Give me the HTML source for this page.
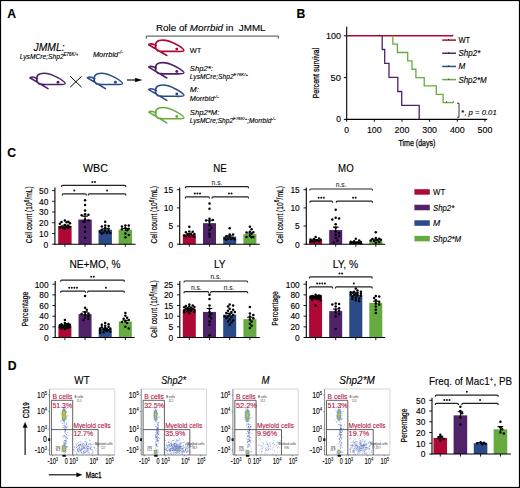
<!DOCTYPE html>
<html><head><meta charset="utf-8"><style>
html,body{margin:0;padding:0;background:#fff;}
svg{display:block;font-family:"Liberation Sans",sans-serif;}
</style></head><body>
<svg width="520" height="488" viewBox="0 0 520 488">
<defs><radialGradient id="hot" cx="50%" cy="50%" r="50%"><stop offset="0" stop-color="#E0701E"/><stop offset="0.3" stop-color="#E5C21E"/><stop offset="0.6" stop-color="#8CC23C"/><stop offset="0.85" stop-color="#5A8FC8" stop-opacity="0.8"/><stop offset="1" stop-color="#7C8FD8" stop-opacity="0"/></radialGradient><radialGradient id="warm" cx="50%" cy="50%" r="50%"><stop offset="0" stop-color="#D7C83A"/><stop offset="0.45" stop-color="#86BE4E"/><stop offset="0.8" stop-color="#6E86CE" stop-opacity="0.7"/><stop offset="1" stop-color="#8898D8" stop-opacity="0"/></radialGradient><radialGradient id="blu" cx="50%" cy="50%" r="50%"><stop offset="0" stop-color="#5C70C4" stop-opacity="0.55"/><stop offset="1" stop-color="#8C9CD8" stop-opacity="0"/></radialGradient></defs>
<rect width="520" height="488" fill="#fff"/>
<rect x="0.50" y="0.50" width="519.00" height="487.00" fill="none" stroke="#000" stroke-width="1.2"/>
<text x="7.20" y="17.90" font-size="12.2" stroke="#000" stroke-width="0.12" font-weight="bold">A</text>
<text x="296.60" y="18.00" font-size="12.2" stroke="#000" stroke-width="0.12" font-weight="bold">B</text>
<text x="7.30" y="157.00" font-size="12.2" stroke="#000" stroke-width="0.12" font-weight="bold">C</text>
<text x="7.80" y="369.70" font-size="12.2" stroke="#000" stroke-width="0.12" font-weight="bold">D</text>
<g transform="translate(27.2,70.1) scale(1.0)"><path d="M2.7,7.7 L20.8,18.5 M2.7,7.7 C4.5,6.4 7.5,7 10.3,8.6 M11.8,13.8 C8.3,11 8.6,4.8 13.2,3.6 C17.5,2.5 24,4 30,7.3 C34,9.4 38.2,12.2 37.8,13.6 C37.4,14.6 34,14.5 30,14.4 L16,14.2 C14,14.1 12.8,14 11.8,13.8" stroke="#4F226A" stroke-width="1.6" fill="none" stroke-linecap="round"/><circle cx="30.8" cy="12.1" r="1.45" fill="#4F226A"/></g>
<g transform="translate(84.6,70.1) scale(1.0)"><path d="M2.7,7.7 L20.8,18.5 M2.7,7.7 C4.5,6.4 7.5,7 10.3,8.6 M11.8,13.8 C8.3,11 8.6,4.8 13.2,3.6 C17.5,2.5 24,4 30,7.3 C34,9.4 38.2,12.2 37.8,13.6 C37.4,14.6 34,14.5 30,14.4 L16,14.2 C14,14.1 12.8,14 11.8,13.8" stroke="#2B4B88" stroke-width="1.6" fill="none" stroke-linecap="round"/><circle cx="30.8" cy="12.1" r="1.45" fill="#2B4B88"/></g>
<g transform="translate(146,37.0) scale(1.0)"><path d="M2.7,7.7 L20.8,18.5 M2.7,7.7 C4.5,6.4 7.5,7 10.3,8.6 M11.8,13.8 C8.3,11 8.6,4.8 13.2,3.6 C17.5,2.5 24,4 30,7.3 C34,9.4 38.2,12.2 37.8,13.6 C37.4,14.6 34,14.5 30,14.4 L16,14.2 C14,14.1 12.8,14 11.8,13.8" stroke="#AE0836" stroke-width="1.6" fill="none" stroke-linecap="round"/><circle cx="30.8" cy="12.1" r="1.45" fill="#AE0836"/></g>
<g transform="translate(146,59.45) scale(1.0)"><path d="M2.7,7.7 L20.8,18.5 M2.7,7.7 C4.5,6.4 7.5,7 10.3,8.6 M11.8,13.8 C8.3,11 8.6,4.8 13.2,3.6 C17.5,2.5 24,4 30,7.3 C34,9.4 38.2,12.2 37.8,13.6 C37.4,14.6 34,14.5 30,14.4 L16,14.2 C14,14.1 12.8,14 11.8,13.8" stroke="#4F226A" stroke-width="1.6" fill="none" stroke-linecap="round"/><circle cx="30.8" cy="12.1" r="1.45" fill="#4F226A"/></g>
<g transform="translate(146,81.9) scale(1.0)"><path d="M2.7,7.7 L20.8,18.5 M2.7,7.7 C4.5,6.4 7.5,7 10.3,8.6 M11.8,13.8 C8.3,11 8.6,4.8 13.2,3.6 C17.5,2.5 24,4 30,7.3 C34,9.4 38.2,12.2 37.8,13.6 C37.4,14.6 34,14.5 30,14.4 L16,14.2 C14,14.1 12.8,14 11.8,13.8" stroke="#2B4B88" stroke-width="1.6" fill="none" stroke-linecap="round"/><circle cx="30.8" cy="12.1" r="1.45" fill="#2B4B88"/></g>
<g transform="translate(146,104.35) scale(1.0)"><path d="M2.7,7.7 L20.8,18.5 M2.7,7.7 C4.5,6.4 7.5,7 10.3,8.6 M11.8,13.8 C8.3,11 8.6,4.8 13.2,3.6 C17.5,2.5 24,4 30,7.3 C34,9.4 38.2,12.2 37.8,13.6 C37.4,14.6 34,14.5 30,14.4 L16,14.2 C14,14.1 12.8,14 11.8,13.8" stroke="#65AB3F" stroke-width="1.6" fill="none" stroke-linecap="round"/><circle cx="30.8" cy="12.1" r="1.45" fill="#65AB3F"/></g>
<line x1="70.20" y1="76.30" x2="81.60" y2="87.20" stroke="#000" stroke-width="1.0"/>
<line x1="81.60" y1="76.30" x2="70.20" y2="87.20" stroke="#000" stroke-width="1.0"/>
<line x1="127.00" y1="80.00" x2="137.00" y2="80.00" stroke="#000" stroke-width="1.1"/>
<path d="M135.2,78.1 L141.9,80 L135.2,81.9 Z" stroke="#000" stroke-width="0.3" fill="#000"/>
<text x="33.60" y="51.20" font-size="10.8" stroke="#000" stroke-width="0.12" font-style="italic" textLength="31.00" lengthAdjust="spacingAndGlyphs">JMML:</text>
<text x="19.70" y="59.00" font-size="6.9" stroke="#000" stroke-width="0.12" font-style="italic" textLength="58.60" lengthAdjust="spacingAndGlyphs">LysMCre;Shp2<tspan font-size="4.6" dy="-3">E76K/+</tspan></text>
<text x="92.90" y="56.90" font-size="6.9" stroke="#000" stroke-width="0.12" font-style="italic" textLength="30.00" lengthAdjust="spacingAndGlyphs">Morrbid<tspan font-size="4.6" dy="-3">-/-</tspan></text>
<text x="156.00" y="31.30" font-size="9.6" stroke="#000" stroke-width="0.12" textLength="109.60" lengthAdjust="spacingAndGlyphs">Role of <tspan font-style="italic">Morrbid</tspan> in&#160; JMML</text>
<path d="M146.3,38.6 L146.3,36.1 L278.3,36.1 L278.3,38.6" stroke="#333" stroke-width="0.9" fill="none"/>
<text x="189.80" y="52.60" font-size="7.9" stroke="#000" stroke-width="0.12" textLength="11.60" lengthAdjust="spacingAndGlyphs">WT</text>
<text x="189.80" y="70.60" font-size="7.5" stroke="#000" stroke-width="0.12" font-style="italic" textLength="23.00" lengthAdjust="spacingAndGlyphs">Shp2*:</text>
<text x="189.80" y="79.00" font-size="6.7" stroke="#000" stroke-width="0.12" font-style="italic" textLength="58.20" lengthAdjust="spacingAndGlyphs">LysMCre;Shp2<tspan font-size="4.4" dy="-3.0">E76K/+</tspan></text>
<text x="189.80" y="92.00" font-size="7.5" stroke="#000" stroke-width="0.12" font-style="italic" textLength="9.20" lengthAdjust="spacingAndGlyphs">M:</text>
<text x="189.80" y="100.90" font-size="6.7" stroke="#000" stroke-width="0.12" font-style="italic" textLength="28.90" lengthAdjust="spacingAndGlyphs">Morrbid<tspan font-size="4.4" dy="-3.0">-/-</tspan></text>
<text x="189.80" y="115.40" font-size="7.5" stroke="#000" stroke-width="0.12" font-style="italic" textLength="29.60" lengthAdjust="spacingAndGlyphs">Shp2*M:</text>
<text x="189.80" y="123.30" font-size="6.7" stroke="#000" stroke-width="0.12" font-style="italic" textLength="85.60" lengthAdjust="spacingAndGlyphs">LysMCre;Shp2<tspan font-size="4.4" dy="-3.0">E76K/+</tspan><tspan dy="3.0">;Morrbid</tspan><tspan font-size="4.4" dy="-3.0">-/-</tspan></text>
<line x1="346.70" y1="26.80" x2="346.70" y2="119.90" stroke="#000" stroke-width="1.1"/>
<line x1="345.60" y1="119.40" x2="487.20" y2="119.40" stroke="#000" stroke-width="1.1"/>
<line x1="343.80" y1="119.40" x2="346.70" y2="119.40" stroke="#000" stroke-width="1"/>
<text x="341.00" y="122.30" font-size="8.2" stroke="#000" stroke-width="0.12" text-anchor="end" textLength="4.80" lengthAdjust="spacingAndGlyphs">0</text>
<line x1="343.80" y1="77.60" x2="346.70" y2="77.60" stroke="#000" stroke-width="1"/>
<text x="341.00" y="80.50" font-size="8.2" stroke="#000" stroke-width="0.12" text-anchor="end" textLength="10.40" lengthAdjust="spacingAndGlyphs">50</text>
<line x1="343.80" y1="35.80" x2="346.70" y2="35.80" stroke="#000" stroke-width="1"/>
<text x="341.00" y="38.70" font-size="8.2" stroke="#000" stroke-width="0.12" text-anchor="end" textLength="15.00" lengthAdjust="spacingAndGlyphs">100</text>
<line x1="346.70" y1="119.40" x2="346.70" y2="121.70" stroke="#000" stroke-width="1"/>
<text x="346.70" y="133.20" font-size="8.2" stroke="#000" stroke-width="0.12" text-anchor="middle" textLength="4.80" lengthAdjust="spacingAndGlyphs">0</text>
<line x1="374.35" y1="119.40" x2="374.35" y2="121.70" stroke="#000" stroke-width="1"/>
<text x="374.35" y="133.20" font-size="8.2" stroke="#000" stroke-width="0.12" text-anchor="middle" textLength="14.80" lengthAdjust="spacingAndGlyphs">100</text>
<line x1="402.00" y1="119.40" x2="402.00" y2="121.70" stroke="#000" stroke-width="1"/>
<text x="402.00" y="133.20" font-size="8.2" stroke="#000" stroke-width="0.12" text-anchor="middle" textLength="14.80" lengthAdjust="spacingAndGlyphs">200</text>
<line x1="429.65" y1="119.40" x2="429.65" y2="121.70" stroke="#000" stroke-width="1"/>
<text x="429.65" y="133.20" font-size="8.2" stroke="#000" stroke-width="0.12" text-anchor="middle" textLength="14.80" lengthAdjust="spacingAndGlyphs">300</text>
<line x1="457.30" y1="119.40" x2="457.30" y2="121.70" stroke="#000" stroke-width="1"/>
<text x="457.30" y="133.20" font-size="8.2" stroke="#000" stroke-width="0.12" text-anchor="middle" textLength="14.80" lengthAdjust="spacingAndGlyphs">400</text>
<line x1="484.95" y1="119.40" x2="484.95" y2="121.70" stroke="#000" stroke-width="1"/>
<text x="484.95" y="133.20" font-size="8.2" stroke="#000" stroke-width="0.12" text-anchor="middle" textLength="14.80" lengthAdjust="spacingAndGlyphs">500</text>
<text transform="translate(319.00,73.20) rotate(-90)" x="0" y="0" font-size="9.2" text-anchor="middle" textLength="50.50" lengthAdjust="spacingAndGlyphs" stroke="#000" stroke-width="0.25">Percent survival</text>
<text x="398.50" y="146.20" font-size="9.2" textLength="36.90" lengthAdjust="spacingAndGlyphs" stroke="#000" stroke-width="0.25">Time (days)</text>
<line x1="346.70" y1="35.80" x2="452.90" y2="35.80" stroke="#AE0836" stroke-width="1.4"/>
<path d="M379.3,34.6 L379.3,35.8" stroke="#000" stroke-width="0.8" fill="none"/>
<path d="M452.9,34.6 L452.9,35.8" stroke="#000" stroke-width="0.8" fill="none"/>
<path d="M382.20,35.80 L382.20,49.50 L384.70,49.50 L384.70,63.40 L389.00,63.40 L389.00,77.40 L397.80,77.40 L397.80,91.50 L401.70,91.50 L401.70,105.30 L419.20,105.30 L419.20,119.40" stroke="#4F226A" stroke-width="1.3" fill="none"/>
<path d="M392.90,35.80 L392.90,44.16 L397.40,44.16 L397.40,52.52 L407.70,52.52 L407.70,60.88 L412.00,60.88 L412.00,69.24 L415.90,69.24 L415.90,77.60 L424.20,77.60 L424.20,85.96 L436.30,85.96 L436.30,94.32 L443.10,94.32 L443.10,102.68 L453.30,102.68" stroke="#65AB3F" stroke-width="1.3" fill="none"/>
<path d="M446.6,101.2 L446.6,102.4 M453.3,101.2 L453.3,102.4" stroke="#000" stroke-width="0.8" fill="none"/>
<line x1="442.20" y1="40.10" x2="456.00" y2="40.10" stroke="#AE0836" stroke-width="1.5"/>
<path d="M448.6,39.00 L448.6,40.10" stroke="#000" stroke-width="0.7" fill="none"/>
<text x="458.40" y="43.00" font-size="8.2" stroke="#000" stroke-width="0.12" textLength="11.70" lengthAdjust="spacingAndGlyphs">WT</text>
<line x1="442.20" y1="53.27" x2="456.00" y2="53.27" stroke="#4F226A" stroke-width="1.5"/>
<path d="M448.6,52.17 L448.6,53.27" stroke="#000" stroke-width="0.7" fill="none"/>
<text x="458.40" y="56.17" font-size="8.2" stroke="#000" stroke-width="0.12" font-style="italic" textLength="21.90" lengthAdjust="spacingAndGlyphs">Shp2*</text>
<line x1="442.20" y1="66.44" x2="456.00" y2="66.44" stroke="#2B4B88" stroke-width="1.5"/>
<path d="M448.6,65.34 L448.6,66.44" stroke="#000" stroke-width="0.7" fill="none"/>
<text x="458.40" y="69.34" font-size="8.2" stroke="#000" stroke-width="0.12" font-style="italic" textLength="6.80" lengthAdjust="spacingAndGlyphs">M</text>
<line x1="442.20" y1="79.61" x2="456.00" y2="79.61" stroke="#65AB3F" stroke-width="1.5"/>
<path d="M448.6,78.51 L448.6,79.61" stroke="#000" stroke-width="0.7" fill="none"/>
<text x="458.40" y="82.51" font-size="8.2" stroke="#000" stroke-width="0.12" font-style="italic" textLength="28.30" lengthAdjust="spacingAndGlyphs">Shp2*M</text>
<path d="M457.0,103.2 L459.0,103.2 L459.0,117.2 L457.0,117.2" stroke="#000" stroke-width="0.8" fill="none"/>
<text x="461.20" y="115.00" font-size="7.6" stroke="#000" stroke-width="0.12" textLength="35.50" lengthAdjust="spacingAndGlyphs">*, <tspan font-style="italic">p = 0.01</tspan></text>
<rect x="58.20" y="225.98" width="13.40" height="18.22" fill="#AE0836"/>
<rect x="78.35" y="219.54" width="13.40" height="24.66" fill="#4F226A"/>
<rect x="98.50" y="229.73" width="13.40" height="14.47" fill="#2B4B88"/>
<rect x="118.65" y="229.73" width="13.40" height="14.47" fill="#65AB3F"/>
<circle cx="64.90" cy="220.62" r="1.25" fill="#000"/>
<circle cx="68.30" cy="221.69" r="1.25" fill="#000"/>
<circle cx="61.50" cy="221.90" r="1.25" fill="#000"/>
<circle cx="66.60" cy="222.22" r="1.25" fill="#000"/>
<circle cx="70.00" cy="223.30" r="1.25" fill="#000"/>
<circle cx="59.80" cy="223.83" r="1.25" fill="#000"/>
<circle cx="64.90" cy="224.90" r="1.25" fill="#000"/>
<circle cx="68.30" cy="225.44" r="1.25" fill="#000"/>
<circle cx="61.50" cy="226.51" r="1.25" fill="#000"/>
<circle cx="66.60" cy="227.05" r="1.25" fill="#000"/>
<circle cx="70.00" cy="227.05" r="1.25" fill="#000"/>
<circle cx="59.80" cy="227.58" r="1.25" fill="#000"/>
<circle cx="63.20" cy="228.12" r="1.25" fill="#000"/>
<circle cx="68.30" cy="228.12" r="1.25" fill="#000"/>
<circle cx="64.90" cy="228.66" r="1.25" fill="#000"/>
<circle cx="85.05" cy="200.25" r="1.25" fill="#000"/>
<circle cx="85.05" cy="205.07" r="1.25" fill="#000"/>
<circle cx="85.05" cy="210.43" r="1.25" fill="#000"/>
<circle cx="85.05" cy="214.18" r="1.25" fill="#000"/>
<circle cx="88.45" cy="214.72" r="1.25" fill="#000"/>
<circle cx="81.65" cy="215.26" r="1.25" fill="#000"/>
<circle cx="85.05" cy="219.54" r="1.25" fill="#000"/>
<circle cx="88.45" cy="220.62" r="1.25" fill="#000"/>
<circle cx="83.35" cy="221.69" r="1.25" fill="#000"/>
<circle cx="85.05" cy="227.05" r="1.25" fill="#000"/>
<circle cx="85.05" cy="231.87" r="1.25" fill="#000"/>
<circle cx="85.05" cy="237.77" r="1.25" fill="#000"/>
<circle cx="105.20" cy="221.69" r="1.25" fill="#000"/>
<circle cx="105.20" cy="225.44" r="1.25" fill="#000"/>
<circle cx="108.60" cy="225.98" r="1.25" fill="#000"/>
<circle cx="101.80" cy="226.51" r="1.25" fill="#000"/>
<circle cx="105.20" cy="228.12" r="1.25" fill="#000"/>
<circle cx="108.60" cy="228.66" r="1.25" fill="#000"/>
<circle cx="101.80" cy="229.73" r="1.25" fill="#000"/>
<circle cx="105.20" cy="230.80" r="1.25" fill="#000"/>
<circle cx="108.60" cy="231.34" r="1.25" fill="#000"/>
<circle cx="100.10" cy="231.87" r="1.25" fill="#000"/>
<circle cx="103.50" cy="232.41" r="1.25" fill="#000"/>
<circle cx="106.90" cy="232.94" r="1.25" fill="#000"/>
<circle cx="110.30" cy="232.94" r="1.25" fill="#000"/>
<circle cx="101.80" cy="233.48" r="1.25" fill="#000"/>
<circle cx="125.35" cy="225.44" r="1.25" fill="#000"/>
<circle cx="128.75" cy="225.44" r="1.25" fill="#000"/>
<circle cx="121.95" cy="226.51" r="1.25" fill="#000"/>
<circle cx="125.35" cy="228.12" r="1.25" fill="#000"/>
<circle cx="128.75" cy="228.66" r="1.25" fill="#000"/>
<circle cx="121.95" cy="229.19" r="1.25" fill="#000"/>
<circle cx="127.05" cy="230.26" r="1.25" fill="#000"/>
<circle cx="125.35" cy="233.48" r="1.25" fill="#000"/>
<circle cx="128.75" cy="235.09" r="1.25" fill="#000"/>
<circle cx="125.35" cy="237.23" r="1.25" fill="#000"/>
<path d="M64.90,225.23 L64.90,226.73 M62.10,225.23 L67.70,225.23" stroke="#000" stroke-width="1.1" fill="none"/>
<path d="M85.05,216.11 L85.05,222.97 M82.25,216.11 L87.85,216.11" stroke="#000" stroke-width="1.1" fill="none"/>
<path d="M105.20,228.87 L105.20,230.59 M102.40,228.87 L108.00,228.87" stroke="#000" stroke-width="1.1" fill="none"/>
<path d="M125.35,228.44 L125.35,231.01 M122.55,228.44 L128.15,228.44" stroke="#000" stroke-width="1.1" fill="none"/>
<line x1="54.90" y1="187.40" x2="54.90" y2="244.70" stroke="#000" stroke-width="1.1"/>
<line x1="54.40" y1="244.20" x2="135.60" y2="244.20" stroke="#000" stroke-width="1.1"/>
<line x1="52.10" y1="244.20" x2="54.90" y2="244.20" stroke="#000" stroke-width="0.9"/>
<text x="48.30" y="247.50" font-size="9.2" text-anchor="end" textLength="4.70" lengthAdjust="spacingAndGlyphs" stroke="#000" stroke-width="0.15">0</text>
<line x1="52.10" y1="233.48" x2="54.90" y2="233.48" stroke="#000" stroke-width="0.9"/>
<text x="48.30" y="236.78" font-size="9.2" text-anchor="end" textLength="9.30" lengthAdjust="spacingAndGlyphs" stroke="#000" stroke-width="0.15">10</text>
<line x1="52.10" y1="222.76" x2="54.90" y2="222.76" stroke="#000" stroke-width="0.9"/>
<text x="48.30" y="226.06" font-size="9.2" text-anchor="end" textLength="9.30" lengthAdjust="spacingAndGlyphs" stroke="#000" stroke-width="0.15">20</text>
<line x1="52.10" y1="212.04" x2="54.90" y2="212.04" stroke="#000" stroke-width="0.9"/>
<text x="48.30" y="215.34" font-size="9.2" text-anchor="end" textLength="9.30" lengthAdjust="spacingAndGlyphs" stroke="#000" stroke-width="0.15">30</text>
<line x1="52.10" y1="201.32" x2="54.90" y2="201.32" stroke="#000" stroke-width="0.9"/>
<text x="48.30" y="204.62" font-size="9.2" text-anchor="end" textLength="9.30" lengthAdjust="spacingAndGlyphs" stroke="#000" stroke-width="0.15">40</text>
<line x1="52.10" y1="190.60" x2="54.90" y2="190.60" stroke="#000" stroke-width="0.9"/>
<text x="48.30" y="193.90" font-size="9.2" text-anchor="end" textLength="9.30" lengthAdjust="spacingAndGlyphs" stroke="#000" stroke-width="0.15">50</text>
<line x1="64.90" y1="244.20" x2="64.90" y2="246.80" stroke="#000" stroke-width="0.9"/>
<line x1="85.05" y1="244.20" x2="85.05" y2="246.80" stroke="#000" stroke-width="0.9"/>
<line x1="105.20" y1="244.20" x2="105.20" y2="246.80" stroke="#000" stroke-width="0.9"/>
<line x1="125.35" y1="244.20" x2="125.35" y2="246.80" stroke="#000" stroke-width="0.9"/>
<path d="M61.50,187.00 Q61.50,185.40 62.70,185.40 L124.70,185.40 Q125.90,185.40 125.90,187.00" stroke="#222" stroke-width="1.2" fill="none"/>
<circle cx="92.40" cy="182.00" r="1.0" fill="#111"/>
<circle cx="95.00" cy="182.00" r="1.0" fill="#111"/>
<path d="M62.20,195.50 Q62.20,193.90 63.40,193.90 L85.20,193.90 Q86.40,193.90 86.40,195.50" stroke="#222" stroke-width="1.2" fill="none"/>
<circle cx="74.30" cy="190.50" r="1.0" fill="#111"/>
<path d="M88.20,195.50 Q88.20,193.90 89.40,193.90 L124.70,193.90 Q125.90,193.90 125.90,195.50" stroke="#222" stroke-width="1.2" fill="none"/>
<circle cx="107.05" cy="190.50" r="1.0" fill="#111"/>
<text x="83.00" y="172.10" font-size="10.3" stroke="#000" stroke-width="0.12" textLength="25.00" lengthAdjust="spacingAndGlyphs">WBC</text>
<text transform="translate(32.30,214.80) rotate(-90)" x="0" y="0" font-size="9.3" text-anchor="middle" textLength="57.00" lengthAdjust="spacingAndGlyphs" stroke="#000" stroke-width="0.2">Cell count (10<tspan font-size="6.8" dy="-3.2">6</tspan><tspan dy="3.2">/mL)</tspan></text>
<rect x="182.80" y="234.40" width="13.00" height="9.80" fill="#AE0836"/>
<rect x="203.00" y="223.15" width="13.00" height="21.05" fill="#4F226A"/>
<rect x="223.20" y="236.58" width="13.00" height="7.62" fill="#2B4B88"/>
<rect x="243.40" y="234.04" width="13.00" height="10.16" fill="#65AB3F"/>
<circle cx="189.30" cy="226.78" r="1.25" fill="#000"/>
<circle cx="189.30" cy="231.49" r="1.25" fill="#000"/>
<circle cx="192.70" cy="231.86" r="1.25" fill="#000"/>
<circle cx="185.90" cy="232.22" r="1.25" fill="#000"/>
<circle cx="191.00" cy="233.67" r="1.25" fill="#000"/>
<circle cx="194.40" cy="234.04" r="1.25" fill="#000"/>
<circle cx="187.60" cy="234.76" r="1.25" fill="#000"/>
<circle cx="184.20" cy="235.49" r="1.25" fill="#000"/>
<circle cx="192.70" cy="235.85" r="1.25" fill="#000"/>
<circle cx="189.30" cy="236.21" r="1.25" fill="#000"/>
<circle cx="185.90" cy="236.58" r="1.25" fill="#000"/>
<circle cx="194.40" cy="236.94" r="1.25" fill="#000"/>
<circle cx="209.50" cy="203.54" r="1.25" fill="#000"/>
<circle cx="209.50" cy="208.63" r="1.25" fill="#000"/>
<circle cx="209.50" cy="218.79" r="1.25" fill="#000"/>
<circle cx="212.90" cy="219.88" r="1.25" fill="#000"/>
<circle cx="206.10" cy="220.60" r="1.25" fill="#000"/>
<circle cx="209.50" cy="221.69" r="1.25" fill="#000"/>
<circle cx="209.50" cy="225.32" r="1.25" fill="#000"/>
<circle cx="211.20" cy="227.86" r="1.25" fill="#000"/>
<circle cx="209.50" cy="230.04" r="1.25" fill="#000"/>
<circle cx="209.50" cy="233.67" r="1.25" fill="#000"/>
<circle cx="209.50" cy="236.58" r="1.25" fill="#000"/>
<circle cx="229.70" cy="228.23" r="1.25" fill="#000"/>
<circle cx="229.70" cy="234.40" r="1.25" fill="#000"/>
<circle cx="233.10" cy="234.40" r="1.25" fill="#000"/>
<circle cx="226.30" cy="236.21" r="1.25" fill="#000"/>
<circle cx="229.70" cy="237.30" r="1.25" fill="#000"/>
<circle cx="233.10" cy="238.03" r="1.25" fill="#000"/>
<circle cx="224.60" cy="238.39" r="1.25" fill="#000"/>
<circle cx="228.00" cy="238.75" r="1.25" fill="#000"/>
<circle cx="231.40" cy="239.12" r="1.25" fill="#000"/>
<circle cx="234.80" cy="239.48" r="1.25" fill="#000"/>
<circle cx="226.30" cy="239.84" r="1.25" fill="#000"/>
<circle cx="249.90" cy="226.78" r="1.25" fill="#000"/>
<circle cx="251.60" cy="229.32" r="1.25" fill="#000"/>
<circle cx="249.90" cy="231.86" r="1.25" fill="#000"/>
<circle cx="253.30" cy="232.22" r="1.25" fill="#000"/>
<circle cx="246.50" cy="232.58" r="1.25" fill="#000"/>
<circle cx="251.60" cy="233.67" r="1.25" fill="#000"/>
<circle cx="249.90" cy="235.85" r="1.25" fill="#000"/>
<circle cx="253.30" cy="236.94" r="1.25" fill="#000"/>
<circle cx="246.50" cy="236.94" r="1.25" fill="#000"/>
<circle cx="251.60" cy="237.30" r="1.25" fill="#000"/>
<path d="M189.30,233.67 L189.30,235.12 M186.50,233.67 L192.10,233.67" stroke="#000" stroke-width="1.1" fill="none"/>
<path d="M209.50,220.24 L209.50,226.05 M206.70,220.24 L212.30,220.24" stroke="#000" stroke-width="1.1" fill="none"/>
<path d="M229.70,235.85 L229.70,237.30 M226.90,235.85 L232.50,235.85" stroke="#000" stroke-width="1.1" fill="none"/>
<path d="M249.90,232.95 L249.90,235.12 M247.10,232.95 L252.70,232.95" stroke="#000" stroke-width="1.1" fill="none"/>
<line x1="179.70" y1="187.40" x2="179.70" y2="244.70" stroke="#000" stroke-width="1.1"/>
<line x1="179.20" y1="244.20" x2="259.80" y2="244.20" stroke="#000" stroke-width="1.1"/>
<line x1="176.90" y1="244.20" x2="179.70" y2="244.20" stroke="#000" stroke-width="0.9"/>
<text x="173.10" y="247.50" font-size="9.2" text-anchor="end" textLength="4.70" lengthAdjust="spacingAndGlyphs" stroke="#000" stroke-width="0.15">0</text>
<line x1="176.90" y1="226.05" x2="179.70" y2="226.05" stroke="#000" stroke-width="0.9"/>
<text x="173.10" y="229.35" font-size="9.2" text-anchor="end" textLength="4.70" lengthAdjust="spacingAndGlyphs" stroke="#000" stroke-width="0.15">5</text>
<line x1="176.90" y1="207.90" x2="179.70" y2="207.90" stroke="#000" stroke-width="0.9"/>
<text x="173.10" y="211.20" font-size="9.2" text-anchor="end" textLength="9.30" lengthAdjust="spacingAndGlyphs" stroke="#000" stroke-width="0.15">10</text>
<line x1="176.90" y1="189.75" x2="179.70" y2="189.75" stroke="#000" stroke-width="0.9"/>
<text x="173.10" y="193.05" font-size="9.2" text-anchor="end" textLength="9.30" lengthAdjust="spacingAndGlyphs" stroke="#000" stroke-width="0.15">15</text>
<line x1="189.30" y1="244.20" x2="189.30" y2="246.80" stroke="#000" stroke-width="0.9"/>
<line x1="209.50" y1="244.20" x2="209.50" y2="246.80" stroke="#000" stroke-width="0.9"/>
<line x1="229.70" y1="244.20" x2="229.70" y2="246.80" stroke="#000" stroke-width="0.9"/>
<line x1="249.90" y1="244.20" x2="249.90" y2="246.80" stroke="#000" stroke-width="0.9"/>
<path d="M185.30,188.20 Q185.30,186.60 186.50,186.60 L247.40,186.60 Q248.60,186.60 248.60,188.20" stroke="#222" stroke-width="1.2" fill="none"/>
<text x="216.95" y="185.00" font-size="7.0" stroke="#333" stroke-width="0.12" text-anchor="middle" fill="#333" textLength="10.80" lengthAdjust="spacingAndGlyphs">n.s.</text>
<path d="M185.30,198.40 Q185.30,196.80 186.50,196.80 L208.30,196.80 Q209.50,196.80 209.50,198.40" stroke="#222" stroke-width="1.2" fill="none"/>
<circle cx="194.80" cy="193.40" r="1.0" fill="#111"/>
<circle cx="197.40" cy="193.40" r="1.0" fill="#111"/>
<circle cx="200.00" cy="193.40" r="1.0" fill="#111"/>
<path d="M211.90,198.40 Q211.90,196.80 213.10,196.80 L247.40,196.80 Q248.60,196.80 248.60,198.40" stroke="#222" stroke-width="1.2" fill="none"/>
<circle cx="228.95" cy="193.40" r="1.0" fill="#111"/>
<circle cx="231.55" cy="193.40" r="1.0" fill="#111"/>
<text x="213.20" y="172.10" font-size="10.3" stroke="#000" stroke-width="0.12" textLength="13.50" lengthAdjust="spacingAndGlyphs">NE</text>
<text transform="translate(156.80,214.80) rotate(-90)" x="0" y="0" font-size="9.3" text-anchor="middle" textLength="57.60" lengthAdjust="spacingAndGlyphs" stroke="#000" stroke-width="0.2">Cell count (10<tspan font-size="6.8" dy="-3.2">6</tspan><tspan dy="3.2">/mL)</tspan></text>
<rect x="309.10" y="240.21" width="13.00" height="3.99" fill="#AE0836"/>
<rect x="329.20" y="230.04" width="13.00" height="14.16" fill="#4F226A"/>
<rect x="349.30" y="242.38" width="13.00" height="1.81" fill="#2B4B88"/>
<rect x="369.30" y="240.21" width="13.00" height="3.99" fill="#65AB3F"/>
<circle cx="315.60" cy="236.94" r="1.25" fill="#000"/>
<circle cx="319.00" cy="238.39" r="1.25" fill="#000"/>
<circle cx="313.90" cy="239.12" r="1.25" fill="#000"/>
<circle cx="310.50" cy="239.48" r="1.25" fill="#000"/>
<circle cx="320.70" cy="239.84" r="1.25" fill="#000"/>
<circle cx="317.30" cy="240.21" r="1.25" fill="#000"/>
<circle cx="312.20" cy="240.57" r="1.25" fill="#000"/>
<circle cx="315.60" cy="240.93" r="1.25" fill="#000"/>
<circle cx="319.00" cy="241.30" r="1.25" fill="#000"/>
<circle cx="310.50" cy="241.66" r="1.25" fill="#000"/>
<circle cx="313.90" cy="242.02" r="1.25" fill="#000"/>
<circle cx="335.70" cy="209.71" r="1.25" fill="#000"/>
<circle cx="335.70" cy="217.70" r="1.25" fill="#000"/>
<circle cx="339.10" cy="218.43" r="1.25" fill="#000"/>
<circle cx="332.30" cy="219.52" r="1.25" fill="#000"/>
<circle cx="335.70" cy="224.23" r="1.25" fill="#000"/>
<circle cx="335.70" cy="227.86" r="1.25" fill="#000"/>
<circle cx="335.70" cy="231.49" r="1.25" fill="#000"/>
<circle cx="339.10" cy="233.31" r="1.25" fill="#000"/>
<circle cx="335.70" cy="234.76" r="1.25" fill="#000"/>
<circle cx="339.10" cy="236.21" r="1.25" fill="#000"/>
<circle cx="335.70" cy="238.03" r="1.25" fill="#000"/>
<circle cx="337.40" cy="240.57" r="1.25" fill="#000"/>
<circle cx="334.00" cy="242.38" r="1.25" fill="#000"/>
<circle cx="355.80" cy="238.75" r="1.25" fill="#000"/>
<circle cx="359.20" cy="240.57" r="1.25" fill="#000"/>
<circle cx="354.10" cy="241.30" r="1.25" fill="#000"/>
<circle cx="350.70" cy="241.66" r="1.25" fill="#000"/>
<circle cx="360.90" cy="242.02" r="1.25" fill="#000"/>
<circle cx="357.50" cy="242.38" r="1.25" fill="#000"/>
<circle cx="352.40" cy="242.38" r="1.25" fill="#000"/>
<circle cx="355.80" cy="242.75" r="1.25" fill="#000"/>
<circle cx="359.20" cy="242.75" r="1.25" fill="#000"/>
<circle cx="354.10" cy="243.11" r="1.25" fill="#000"/>
<circle cx="350.70" cy="243.11" r="1.25" fill="#000"/>
<circle cx="360.90" cy="243.47" r="1.25" fill="#000"/>
<circle cx="375.80" cy="232.22" r="1.25" fill="#000"/>
<circle cx="375.80" cy="238.03" r="1.25" fill="#000"/>
<circle cx="379.20" cy="238.75" r="1.25" fill="#000"/>
<circle cx="372.40" cy="239.12" r="1.25" fill="#000"/>
<circle cx="380.90" cy="239.84" r="1.25" fill="#000"/>
<circle cx="377.50" cy="240.21" r="1.25" fill="#000"/>
<circle cx="370.70" cy="240.57" r="1.25" fill="#000"/>
<circle cx="374.10" cy="240.93" r="1.25" fill="#000"/>
<circle cx="379.20" cy="242.02" r="1.25" fill="#000"/>
<circle cx="375.80" cy="242.75" r="1.25" fill="#000"/>
<path d="M315.60,239.66 L315.60,240.75 M312.80,239.66 L318.40,239.66" stroke="#000" stroke-width="1.1" fill="none"/>
<path d="M335.70,227.14 L335.70,232.95 M332.90,227.14 L338.50,227.14" stroke="#000" stroke-width="1.1" fill="none"/>
<path d="M355.80,242.02 L355.80,242.75 M353.00,242.02 L358.60,242.02" stroke="#000" stroke-width="1.1" fill="none"/>
<path d="M375.80,239.30 L375.80,241.11 M373.00,239.30 L378.60,239.30" stroke="#000" stroke-width="1.1" fill="none"/>
<line x1="306.30" y1="187.40" x2="306.30" y2="244.70" stroke="#000" stroke-width="1.1"/>
<line x1="305.80" y1="244.20" x2="385.20" y2="244.20" stroke="#000" stroke-width="1.1"/>
<line x1="303.50" y1="244.20" x2="306.30" y2="244.20" stroke="#000" stroke-width="0.9"/>
<text x="299.70" y="247.50" font-size="9.2" text-anchor="end" textLength="4.70" lengthAdjust="spacingAndGlyphs" stroke="#000" stroke-width="0.15">0</text>
<line x1="303.50" y1="226.05" x2="306.30" y2="226.05" stroke="#000" stroke-width="0.9"/>
<text x="299.70" y="229.35" font-size="9.2" text-anchor="end" textLength="4.70" lengthAdjust="spacingAndGlyphs" stroke="#000" stroke-width="0.15">5</text>
<line x1="303.50" y1="207.90" x2="306.30" y2="207.90" stroke="#000" stroke-width="0.9"/>
<text x="299.70" y="211.20" font-size="9.2" text-anchor="end" textLength="9.30" lengthAdjust="spacingAndGlyphs" stroke="#000" stroke-width="0.15">10</text>
<line x1="303.50" y1="189.75" x2="306.30" y2="189.75" stroke="#000" stroke-width="0.9"/>
<text x="299.70" y="193.05" font-size="9.2" text-anchor="end" textLength="9.30" lengthAdjust="spacingAndGlyphs" stroke="#000" stroke-width="0.15">15</text>
<line x1="315.60" y1="244.20" x2="315.60" y2="246.80" stroke="#000" stroke-width="0.9"/>
<line x1="335.70" y1="244.20" x2="335.70" y2="246.80" stroke="#000" stroke-width="0.9"/>
<line x1="355.80" y1="244.20" x2="355.80" y2="246.80" stroke="#000" stroke-width="0.9"/>
<line x1="375.80" y1="244.20" x2="375.80" y2="246.80" stroke="#000" stroke-width="0.9"/>
<path d="M309.80,190.60 Q309.80,189.00 311.00,189.00 L371.30,189.00 Q372.50,189.00 372.50,190.60" stroke="#222" stroke-width="1.2" fill="none"/>
<text x="341.15" y="187.40" font-size="7.0" stroke="#333" stroke-width="0.12" text-anchor="middle" fill="#333" textLength="10.80" lengthAdjust="spacingAndGlyphs">n.s.</text>
<path d="M309.80,202.80 Q309.80,201.20 311.00,201.20 L331.50,201.20 Q332.70,201.20 332.70,202.80" stroke="#222" stroke-width="1.2" fill="none"/>
<circle cx="318.65" cy="197.80" r="1.0" fill="#111"/>
<circle cx="321.25" cy="197.80" r="1.0" fill="#111"/>
<circle cx="323.85" cy="197.80" r="1.0" fill="#111"/>
<path d="M336.20,202.80 Q336.20,201.20 337.40,201.20 L371.30,201.20 Q372.50,201.20 372.50,202.80" stroke="#222" stroke-width="1.2" fill="none"/>
<circle cx="353.05" cy="197.80" r="1.0" fill="#111"/>
<circle cx="355.65" cy="197.80" r="1.0" fill="#111"/>
<text x="338.10" y="172.10" font-size="10.3" stroke="#000" stroke-width="0.12" textLength="15.60" lengthAdjust="spacingAndGlyphs">MO</text>
<text transform="translate(282.50,214.80) rotate(-90)" x="0" y="0" font-size="9.3" text-anchor="middle" textLength="57.60" lengthAdjust="spacingAndGlyphs" stroke="#000" stroke-width="0.2">Cell count (10<tspan font-size="6.8" dy="-3.2">6</tspan><tspan dy="3.2">/mL)</tspan></text>
<rect x="58.40" y="326.31" width="13.00" height="11.19" fill="#AE0836"/>
<rect x="78.55" y="314.05" width="13.00" height="23.45" fill="#4F226A"/>
<rect x="98.70" y="328.97" width="13.00" height="8.53" fill="#2B4B88"/>
<rect x="118.85" y="321.51" width="13.00" height="15.99" fill="#65AB3F"/>
<circle cx="64.90" cy="319.91" r="1.25" fill="#000"/>
<circle cx="64.90" cy="323.11" r="1.25" fill="#000"/>
<circle cx="68.30" cy="323.64" r="1.25" fill="#000"/>
<circle cx="61.50" cy="324.18" r="1.25" fill="#000"/>
<circle cx="66.60" cy="324.18" r="1.25" fill="#000"/>
<circle cx="70.00" cy="324.71" r="1.25" fill="#000"/>
<circle cx="64.90" cy="325.24" r="1.25" fill="#000"/>
<circle cx="59.80" cy="325.24" r="1.25" fill="#000"/>
<circle cx="68.30" cy="325.77" r="1.25" fill="#000"/>
<circle cx="63.20" cy="325.77" r="1.25" fill="#000"/>
<circle cx="66.60" cy="326.31" r="1.25" fill="#000"/>
<circle cx="61.50" cy="326.31" r="1.25" fill="#000"/>
<circle cx="70.00" cy="326.84" r="1.25" fill="#000"/>
<circle cx="64.90" cy="326.84" r="1.25" fill="#000"/>
<circle cx="59.80" cy="327.37" r="1.25" fill="#000"/>
<circle cx="63.20" cy="327.37" r="1.25" fill="#000"/>
<circle cx="68.30" cy="327.91" r="1.25" fill="#000"/>
<circle cx="66.60" cy="327.91" r="1.25" fill="#000"/>
<circle cx="61.50" cy="328.44" r="1.25" fill="#000"/>
<circle cx="64.90" cy="328.97" r="1.25" fill="#000"/>
<circle cx="85.05" cy="295.93" r="1.25" fill="#000"/>
<circle cx="85.05" cy="307.65" r="1.25" fill="#000"/>
<circle cx="86.75" cy="309.78" r="1.25" fill="#000"/>
<circle cx="85.05" cy="312.45" r="1.25" fill="#000"/>
<circle cx="88.45" cy="313.51" r="1.25" fill="#000"/>
<circle cx="81.65" cy="314.05" r="1.25" fill="#000"/>
<circle cx="85.05" cy="315.11" r="1.25" fill="#000"/>
<circle cx="88.45" cy="316.18" r="1.25" fill="#000"/>
<circle cx="85.05" cy="317.78" r="1.25" fill="#000"/>
<circle cx="88.45" cy="318.85" r="1.25" fill="#000"/>
<circle cx="83.35" cy="319.91" r="1.25" fill="#000"/>
<circle cx="105.20" cy="323.11" r="1.25" fill="#000"/>
<circle cx="108.60" cy="324.18" r="1.25" fill="#000"/>
<circle cx="101.80" cy="324.71" r="1.25" fill="#000"/>
<circle cx="105.20" cy="325.77" r="1.25" fill="#000"/>
<circle cx="108.60" cy="326.84" r="1.25" fill="#000"/>
<circle cx="101.80" cy="327.37" r="1.25" fill="#000"/>
<circle cx="105.20" cy="327.91" r="1.25" fill="#000"/>
<circle cx="110.30" cy="328.44" r="1.25" fill="#000"/>
<circle cx="100.10" cy="328.44" r="1.25" fill="#000"/>
<circle cx="106.90" cy="328.97" r="1.25" fill="#000"/>
<circle cx="103.50" cy="329.50" r="1.25" fill="#000"/>
<circle cx="108.60" cy="330.04" r="1.25" fill="#000"/>
<circle cx="105.20" cy="330.04" r="1.25" fill="#000"/>
<circle cx="100.10" cy="330.57" r="1.25" fill="#000"/>
<circle cx="106.90" cy="331.10" r="1.25" fill="#000"/>
<circle cx="110.30" cy="331.64" r="1.25" fill="#000"/>
<circle cx="103.50" cy="332.17" r="1.25" fill="#000"/>
<circle cx="100.10" cy="332.70" r="1.25" fill="#000"/>
<circle cx="125.35" cy="312.98" r="1.25" fill="#000"/>
<circle cx="125.35" cy="315.65" r="1.25" fill="#000"/>
<circle cx="127.05" cy="317.78" r="1.25" fill="#000"/>
<circle cx="123.65" cy="318.85" r="1.25" fill="#000"/>
<circle cx="128.75" cy="319.91" r="1.25" fill="#000"/>
<circle cx="125.35" cy="320.98" r="1.25" fill="#000"/>
<circle cx="121.95" cy="322.04" r="1.25" fill="#000"/>
<circle cx="127.05" cy="323.11" r="1.25" fill="#000"/>
<circle cx="125.35" cy="326.84" r="1.25" fill="#000"/>
<circle cx="128.75" cy="328.44" r="1.25" fill="#000"/>
<path d="M64.90,325.77 L64.90,326.84 M62.10,325.77 L67.70,325.77" stroke="#000" stroke-width="1.1" fill="none"/>
<path d="M85.05,311.92 L85.05,316.18 M82.25,311.92 L87.85,311.92" stroke="#000" stroke-width="1.1" fill="none"/>
<path d="M105.20,328.33 L105.20,329.61 M102.40,328.33 L108.00,328.33" stroke="#000" stroke-width="1.1" fill="none"/>
<path d="M125.35,320.18 L125.35,322.84 M122.55,320.18 L128.15,320.18" stroke="#000" stroke-width="1.1" fill="none"/>
<line x1="55.20" y1="281.00" x2="55.20" y2="338.00" stroke="#000" stroke-width="1.1"/>
<line x1="54.70" y1="337.50" x2="134.60" y2="337.50" stroke="#000" stroke-width="1.1"/>
<line x1="52.40" y1="337.50" x2="55.20" y2="337.50" stroke="#000" stroke-width="0.9"/>
<text x="48.60" y="340.80" font-size="9.2" text-anchor="end" textLength="4.70" lengthAdjust="spacingAndGlyphs" stroke="#000" stroke-width="0.15">0</text>
<line x1="52.40" y1="326.84" x2="55.20" y2="326.84" stroke="#000" stroke-width="0.9"/>
<text x="48.60" y="330.14" font-size="9.2" text-anchor="end" textLength="9.30" lengthAdjust="spacingAndGlyphs" stroke="#000" stroke-width="0.15">20</text>
<line x1="52.40" y1="316.18" x2="55.20" y2="316.18" stroke="#000" stroke-width="0.9"/>
<text x="48.60" y="319.48" font-size="9.2" text-anchor="end" textLength="9.30" lengthAdjust="spacingAndGlyphs" stroke="#000" stroke-width="0.15">40</text>
<line x1="52.40" y1="305.52" x2="55.20" y2="305.52" stroke="#000" stroke-width="0.9"/>
<text x="48.60" y="308.82" font-size="9.2" text-anchor="end" textLength="9.30" lengthAdjust="spacingAndGlyphs" stroke="#000" stroke-width="0.15">60</text>
<line x1="52.40" y1="294.86" x2="55.20" y2="294.86" stroke="#000" stroke-width="0.9"/>
<text x="48.60" y="298.16" font-size="9.2" text-anchor="end" textLength="9.30" lengthAdjust="spacingAndGlyphs" stroke="#000" stroke-width="0.15">80</text>
<line x1="52.40" y1="284.20" x2="55.20" y2="284.20" stroke="#000" stroke-width="0.9"/>
<text x="48.60" y="287.50" font-size="9.2" text-anchor="end" textLength="13.90" lengthAdjust="spacingAndGlyphs" stroke="#000" stroke-width="0.15">100</text>
<line x1="64.90" y1="337.50" x2="64.90" y2="340.10" stroke="#000" stroke-width="0.9"/>
<line x1="85.05" y1="337.50" x2="85.05" y2="340.10" stroke="#000" stroke-width="0.9"/>
<line x1="105.20" y1="337.50" x2="105.20" y2="340.10" stroke="#000" stroke-width="0.9"/>
<line x1="125.35" y1="337.50" x2="125.35" y2="340.10" stroke="#000" stroke-width="0.9"/>
<path d="M60.60,281.80 Q60.60,280.20 61.80,280.20 L123.20,280.20 Q124.40,280.20 124.40,281.80" stroke="#222" stroke-width="1.2" fill="none"/>
<circle cx="91.20" cy="276.80" r="1.0" fill="#111"/>
<circle cx="93.80" cy="276.80" r="1.0" fill="#111"/>
<path d="M60.60,292.80 Q60.60,291.20 61.80,291.20 L84.40,291.20 Q85.60,291.20 85.60,292.80" stroke="#222" stroke-width="1.2" fill="none"/>
<circle cx="69.20" cy="287.80" r="1.0" fill="#111"/>
<circle cx="71.80" cy="287.80" r="1.0" fill="#111"/>
<circle cx="74.40" cy="287.80" r="1.0" fill="#111"/>
<circle cx="77.00" cy="287.80" r="1.0" fill="#111"/>
<path d="M87.50,292.80 Q87.50,291.20 88.70,291.20 L123.20,291.20 Q124.40,291.20 124.40,292.80" stroke="#222" stroke-width="1.2" fill="none"/>
<circle cx="105.95" cy="287.80" r="1.0" fill="#111"/>
<text x="69.50" y="268.30" font-size="10.3" stroke="#000" stroke-width="0.12" textLength="50.90" lengthAdjust="spacingAndGlyphs">NE+MO, %</text>
<text transform="translate(27.60,309.10) rotate(-90)" x="0" y="0" font-size="9.6" text-anchor="middle" textLength="34.80" lengthAdjust="spacingAndGlyphs" stroke="#000" stroke-width="0.2">Percentage</text>
<rect x="182.80" y="310.00" width="13.00" height="27.50" fill="#AE0836"/>
<rect x="203.00" y="311.92" width="13.00" height="25.58" fill="#4F226A"/>
<rect x="223.20" y="314.69" width="13.00" height="22.81" fill="#2B4B88"/>
<rect x="243.40" y="319.16" width="13.00" height="18.34" fill="#65AB3F"/>
<circle cx="189.30" cy="304.45" r="1.25" fill="#000"/>
<circle cx="192.70" cy="305.52" r="1.25" fill="#000"/>
<circle cx="185.90" cy="305.95" r="1.25" fill="#000"/>
<circle cx="189.30" cy="306.59" r="1.25" fill="#000"/>
<circle cx="194.40" cy="307.01" r="1.25" fill="#000"/>
<circle cx="184.20" cy="307.23" r="1.25" fill="#000"/>
<circle cx="191.00" cy="307.65" r="1.25" fill="#000"/>
<circle cx="187.60" cy="308.08" r="1.25" fill="#000"/>
<circle cx="192.70" cy="308.72" r="1.25" fill="#000"/>
<circle cx="185.90" cy="308.72" r="1.25" fill="#000"/>
<circle cx="189.30" cy="309.36" r="1.25" fill="#000"/>
<circle cx="194.40" cy="309.78" r="1.25" fill="#000"/>
<circle cx="184.20" cy="310.21" r="1.25" fill="#000"/>
<circle cx="191.00" cy="310.85" r="1.25" fill="#000"/>
<circle cx="187.60" cy="311.28" r="1.25" fill="#000"/>
<circle cx="194.40" cy="311.92" r="1.25" fill="#000"/>
<circle cx="184.20" cy="312.34" r="1.25" fill="#000"/>
<circle cx="189.30" cy="312.98" r="1.25" fill="#000"/>
<circle cx="209.50" cy="294.86" r="1.25" fill="#000"/>
<circle cx="209.50" cy="299.12" r="1.25" fill="#000"/>
<circle cx="209.50" cy="305.52" r="1.25" fill="#000"/>
<circle cx="209.50" cy="308.72" r="1.25" fill="#000"/>
<circle cx="209.50" cy="311.92" r="1.25" fill="#000"/>
<circle cx="211.20" cy="314.05" r="1.25" fill="#000"/>
<circle cx="209.50" cy="316.18" r="1.25" fill="#000"/>
<circle cx="211.20" cy="318.31" r="1.25" fill="#000"/>
<circle cx="209.50" cy="321.51" r="1.25" fill="#000"/>
<circle cx="209.50" cy="324.71" r="1.25" fill="#000"/>
<circle cx="209.50" cy="335.37" r="1.25" fill="#000"/>
<circle cx="229.70" cy="304.45" r="1.25" fill="#000"/>
<circle cx="233.10" cy="305.52" r="1.25" fill="#000"/>
<circle cx="228.00" cy="306.59" r="1.25" fill="#000"/>
<circle cx="229.70" cy="308.72" r="1.25" fill="#000"/>
<circle cx="233.10" cy="309.78" r="1.25" fill="#000"/>
<circle cx="228.00" cy="310.85" r="1.25" fill="#000"/>
<circle cx="231.40" cy="311.92" r="1.25" fill="#000"/>
<circle cx="234.80" cy="311.92" r="1.25" fill="#000"/>
<circle cx="226.30" cy="312.98" r="1.25" fill="#000"/>
<circle cx="229.70" cy="314.05" r="1.25" fill="#000"/>
<circle cx="233.10" cy="315.11" r="1.25" fill="#000"/>
<circle cx="228.00" cy="316.18" r="1.25" fill="#000"/>
<circle cx="224.60" cy="316.18" r="1.25" fill="#000"/>
<circle cx="231.40" cy="317.25" r="1.25" fill="#000"/>
<circle cx="226.30" cy="318.31" r="1.25" fill="#000"/>
<circle cx="229.70" cy="319.38" r="1.25" fill="#000"/>
<circle cx="233.10" cy="320.44" r="1.25" fill="#000"/>
<circle cx="228.00" cy="321.51" r="1.25" fill="#000"/>
<circle cx="231.40" cy="322.58" r="1.25" fill="#000"/>
<circle cx="229.70" cy="324.71" r="1.25" fill="#000"/>
<circle cx="249.90" cy="307.01" r="1.25" fill="#000"/>
<circle cx="249.90" cy="313.62" r="1.25" fill="#000"/>
<circle cx="253.30" cy="315.11" r="1.25" fill="#000"/>
<circle cx="249.90" cy="316.61" r="1.25" fill="#000"/>
<circle cx="253.30" cy="318.31" r="1.25" fill="#000"/>
<circle cx="249.90" cy="319.38" r="1.25" fill="#000"/>
<circle cx="251.60" cy="321.51" r="1.25" fill="#000"/>
<circle cx="249.90" cy="323.64" r="1.25" fill="#000"/>
<circle cx="251.60" cy="325.77" r="1.25" fill="#000"/>
<circle cx="249.90" cy="327.91" r="1.25" fill="#000"/>
<path d="M189.30,309.36 L189.30,310.64 M186.50,309.36 L192.10,309.36" stroke="#000" stroke-width="1.1" fill="none"/>
<path d="M209.50,308.50 L209.50,315.33 M206.70,308.50 L212.30,308.50" stroke="#000" stroke-width="1.1" fill="none"/>
<path d="M229.70,313.41 L229.70,315.97 M226.90,313.41 L232.50,313.41" stroke="#000" stroke-width="1.1" fill="none"/>
<path d="M249.90,317.25 L249.90,321.08 M247.10,317.25 L252.70,317.25" stroke="#000" stroke-width="1.1" fill="none"/>
<line x1="179.80" y1="281.00" x2="179.80" y2="338.00" stroke="#000" stroke-width="1.1"/>
<line x1="179.30" y1="337.50" x2="259.80" y2="337.50" stroke="#000" stroke-width="1.1"/>
<line x1="177.00" y1="337.50" x2="179.80" y2="337.50" stroke="#000" stroke-width="0.9"/>
<text x="173.20" y="340.80" font-size="9.2" text-anchor="end" textLength="4.70" lengthAdjust="spacingAndGlyphs" stroke="#000" stroke-width="0.15">0</text>
<line x1="177.00" y1="326.84" x2="179.80" y2="326.84" stroke="#000" stroke-width="0.9"/>
<text x="173.20" y="330.14" font-size="9.2" text-anchor="end" textLength="4.70" lengthAdjust="spacingAndGlyphs" stroke="#000" stroke-width="0.15">5</text>
<line x1="177.00" y1="316.18" x2="179.80" y2="316.18" stroke="#000" stroke-width="0.9"/>
<text x="173.20" y="319.48" font-size="9.2" text-anchor="end" textLength="9.30" lengthAdjust="spacingAndGlyphs" stroke="#000" stroke-width="0.15">10</text>
<line x1="177.00" y1="305.52" x2="179.80" y2="305.52" stroke="#000" stroke-width="0.9"/>
<text x="173.20" y="308.82" font-size="9.2" text-anchor="end" textLength="9.30" lengthAdjust="spacingAndGlyphs" stroke="#000" stroke-width="0.15">15</text>
<line x1="177.00" y1="294.86" x2="179.80" y2="294.86" stroke="#000" stroke-width="0.9"/>
<text x="173.20" y="298.16" font-size="9.2" text-anchor="end" textLength="9.30" lengthAdjust="spacingAndGlyphs" stroke="#000" stroke-width="0.15">20</text>
<line x1="177.00" y1="284.20" x2="179.80" y2="284.20" stroke="#000" stroke-width="0.9"/>
<text x="173.20" y="287.50" font-size="9.2" text-anchor="end" textLength="9.30" lengthAdjust="spacingAndGlyphs" stroke="#000" stroke-width="0.15">25</text>
<line x1="189.30" y1="337.50" x2="189.30" y2="340.10" stroke="#000" stroke-width="0.9"/>
<line x1="209.50" y1="337.50" x2="209.50" y2="340.10" stroke="#000" stroke-width="0.9"/>
<line x1="229.70" y1="337.50" x2="229.70" y2="340.10" stroke="#000" stroke-width="0.9"/>
<line x1="249.90" y1="337.50" x2="249.90" y2="340.10" stroke="#000" stroke-width="0.9"/>
<path d="M183.90,282.60 Q183.90,281.00 185.10,281.00 L246.50,281.00 Q247.70,281.00 247.70,282.60" stroke="#222" stroke-width="1.2" fill="none"/>
<text x="215.80" y="279.40" font-size="7.0" stroke="#333" stroke-width="0.12" text-anchor="middle" fill="#333" textLength="10.80" lengthAdjust="spacingAndGlyphs">n.s.</text>
<path d="M183.90,293.30 Q183.90,291.70 185.10,291.70 L207.50,291.70 Q208.70,291.70 208.70,293.30" stroke="#222" stroke-width="1.2" fill="none"/>
<text x="196.30" y="290.10" font-size="7.0" stroke="#333" stroke-width="0.12" text-anchor="middle" fill="#333" textLength="10.80" lengthAdjust="spacingAndGlyphs">n.s.</text>
<path d="M210.50,293.30 Q210.50,291.70 211.70,291.70 L246.50,291.70 Q247.70,291.70 247.70,293.30" stroke="#222" stroke-width="1.2" fill="none"/>
<text x="229.10" y="290.10" font-size="7.0" stroke="#333" stroke-width="0.12" text-anchor="middle" fill="#333" textLength="10.80" lengthAdjust="spacingAndGlyphs">n.s.</text>
<text x="214.00" y="268.30" font-size="10.3" stroke="#000" stroke-width="0.12" textLength="11.60" lengthAdjust="spacingAndGlyphs">LY</text>
<text transform="translate(156.80,309.00) rotate(-90)" x="0" y="0" font-size="9.3" text-anchor="middle" textLength="57.60" lengthAdjust="spacingAndGlyphs" stroke="#000" stroke-width="0.2">Cell count (10<tspan font-size="6.8" dy="-3.2">6</tspan><tspan dy="3.2">/mL)</tspan></text>
<rect x="309.10" y="298.06" width="13.00" height="39.44" fill="#AE0836"/>
<rect x="329.20" y="311.12" width="13.00" height="26.38" fill="#4F226A"/>
<rect x="349.30" y="294.86" width="13.00" height="42.64" fill="#2B4B88"/>
<rect x="369.30" y="302.86" width="13.00" height="34.64" fill="#65AB3F"/>
<circle cx="315.60" cy="294.86" r="1.25" fill="#000"/>
<circle cx="319.00" cy="295.39" r="1.25" fill="#000"/>
<circle cx="312.20" cy="295.93" r="1.25" fill="#000"/>
<circle cx="320.70" cy="295.93" r="1.25" fill="#000"/>
<circle cx="317.30" cy="295.93" r="1.25" fill="#000"/>
<circle cx="310.50" cy="296.46" r="1.25" fill="#000"/>
<circle cx="313.90" cy="296.46" r="1.25" fill="#000"/>
<circle cx="315.60" cy="296.99" r="1.25" fill="#000"/>
<circle cx="319.00" cy="296.99" r="1.25" fill="#000"/>
<circle cx="317.30" cy="296.99" r="1.25" fill="#000"/>
<circle cx="312.20" cy="297.52" r="1.25" fill="#000"/>
<circle cx="320.70" cy="297.52" r="1.25" fill="#000"/>
<circle cx="313.90" cy="298.06" r="1.25" fill="#000"/>
<circle cx="310.50" cy="298.06" r="1.25" fill="#000"/>
<circle cx="315.60" cy="298.59" r="1.25" fill="#000"/>
<circle cx="317.30" cy="298.59" r="1.25" fill="#000"/>
<circle cx="319.00" cy="299.12" r="1.25" fill="#000"/>
<circle cx="312.20" cy="299.66" r="1.25" fill="#000"/>
<circle cx="320.70" cy="300.19" r="1.25" fill="#000"/>
<circle cx="315.60" cy="305.52" r="1.25" fill="#000"/>
<circle cx="335.70" cy="303.39" r="1.25" fill="#000"/>
<circle cx="339.10" cy="303.92" r="1.25" fill="#000"/>
<circle cx="332.30" cy="304.45" r="1.25" fill="#000"/>
<circle cx="335.70" cy="306.59" r="1.25" fill="#000"/>
<circle cx="339.10" cy="308.19" r="1.25" fill="#000"/>
<circle cx="335.70" cy="309.78" r="1.25" fill="#000"/>
<circle cx="339.10" cy="310.85" r="1.25" fill="#000"/>
<circle cx="335.70" cy="312.45" r="1.25" fill="#000"/>
<circle cx="339.10" cy="314.05" r="1.25" fill="#000"/>
<circle cx="335.70" cy="316.18" r="1.25" fill="#000"/>
<circle cx="335.70" cy="328.97" r="1.25" fill="#000"/>
<circle cx="355.80" cy="288.46" r="1.25" fill="#000"/>
<circle cx="357.50" cy="290.60" r="1.25" fill="#000"/>
<circle cx="354.10" cy="291.66" r="1.25" fill="#000"/>
<circle cx="360.90" cy="291.66" r="1.25" fill="#000"/>
<circle cx="350.70" cy="292.19" r="1.25" fill="#000"/>
<circle cx="357.50" cy="292.73" r="1.25" fill="#000"/>
<circle cx="352.40" cy="292.73" r="1.25" fill="#000"/>
<circle cx="355.80" cy="293.26" r="1.25" fill="#000"/>
<circle cx="360.90" cy="293.79" r="1.25" fill="#000"/>
<circle cx="350.70" cy="294.33" r="1.25" fill="#000"/>
<circle cx="354.10" cy="294.86" r="1.25" fill="#000"/>
<circle cx="357.50" cy="295.39" r="1.25" fill="#000"/>
<circle cx="360.90" cy="295.93" r="1.25" fill="#000"/>
<circle cx="352.40" cy="296.46" r="1.25" fill="#000"/>
<circle cx="355.80" cy="297.52" r="1.25" fill="#000"/>
<circle cx="359.20" cy="298.59" r="1.25" fill="#000"/>
<circle cx="352.40" cy="299.12" r="1.25" fill="#000"/>
<circle cx="355.80" cy="300.19" r="1.25" fill="#000"/>
<circle cx="359.20" cy="301.26" r="1.25" fill="#000"/>
<circle cx="375.80" cy="295.93" r="1.25" fill="#000"/>
<circle cx="379.20" cy="296.46" r="1.25" fill="#000"/>
<circle cx="374.10" cy="298.06" r="1.25" fill="#000"/>
<circle cx="375.80" cy="300.19" r="1.25" fill="#000"/>
<circle cx="379.20" cy="301.79" r="1.25" fill="#000"/>
<circle cx="375.80" cy="303.39" r="1.25" fill="#000"/>
<circle cx="379.20" cy="304.45" r="1.25" fill="#000"/>
<circle cx="375.80" cy="306.59" r="1.25" fill="#000"/>
<circle cx="375.80" cy="309.78" r="1.25" fill="#000"/>
<circle cx="375.80" cy="312.98" r="1.25" fill="#000"/>
<path d="M315.60,297.42 L315.60,298.70 M312.80,297.42 L318.40,297.42" stroke="#000" stroke-width="1.1" fill="none"/>
<path d="M335.70,308.98 L335.70,313.25 M332.90,308.98 L338.50,308.98" stroke="#000" stroke-width="1.1" fill="none"/>
<path d="M355.80,294.17 L355.80,295.55 M353.00,294.17 L358.60,294.17" stroke="#000" stroke-width="1.1" fill="none"/>
<path d="M375.80,301.26 L375.80,304.45 M373.00,301.26 L378.60,301.26" stroke="#000" stroke-width="1.1" fill="none"/>
<line x1="306.30" y1="281.00" x2="306.30" y2="338.00" stroke="#000" stroke-width="1.1"/>
<line x1="305.80" y1="337.50" x2="385.20" y2="337.50" stroke="#000" stroke-width="1.1"/>
<line x1="303.50" y1="337.50" x2="306.30" y2="337.50" stroke="#000" stroke-width="0.9"/>
<text x="299.70" y="340.80" font-size="9.2" text-anchor="end" textLength="4.70" lengthAdjust="spacingAndGlyphs" stroke="#000" stroke-width="0.15">0</text>
<line x1="303.50" y1="326.84" x2="306.30" y2="326.84" stroke="#000" stroke-width="0.9"/>
<text x="299.70" y="330.14" font-size="9.2" text-anchor="end" textLength="9.30" lengthAdjust="spacingAndGlyphs" stroke="#000" stroke-width="0.15">20</text>
<line x1="303.50" y1="316.18" x2="306.30" y2="316.18" stroke="#000" stroke-width="0.9"/>
<text x="299.70" y="319.48" font-size="9.2" text-anchor="end" textLength="9.30" lengthAdjust="spacingAndGlyphs" stroke="#000" stroke-width="0.15">40</text>
<line x1="303.50" y1="305.52" x2="306.30" y2="305.52" stroke="#000" stroke-width="0.9"/>
<text x="299.70" y="308.82" font-size="9.2" text-anchor="end" textLength="9.30" lengthAdjust="spacingAndGlyphs" stroke="#000" stroke-width="0.15">60</text>
<line x1="303.50" y1="294.86" x2="306.30" y2="294.86" stroke="#000" stroke-width="0.9"/>
<text x="299.70" y="298.16" font-size="9.2" text-anchor="end" textLength="9.30" lengthAdjust="spacingAndGlyphs" stroke="#000" stroke-width="0.15">80</text>
<line x1="303.50" y1="284.20" x2="306.30" y2="284.20" stroke="#000" stroke-width="0.9"/>
<text x="299.70" y="287.50" font-size="9.2" text-anchor="end" textLength="13.90" lengthAdjust="spacingAndGlyphs" stroke="#000" stroke-width="0.15">100</text>
<line x1="315.60" y1="337.50" x2="315.60" y2="340.10" stroke="#000" stroke-width="0.9"/>
<line x1="335.70" y1="337.50" x2="335.70" y2="340.10" stroke="#000" stroke-width="0.9"/>
<line x1="355.80" y1="337.50" x2="355.80" y2="340.10" stroke="#000" stroke-width="0.9"/>
<line x1="375.80" y1="337.50" x2="375.80" y2="340.10" stroke="#000" stroke-width="0.9"/>
<path d="M309.30,278.50 Q309.30,276.90 310.50,276.90 L371.10,276.90 Q372.30,276.90 372.30,278.50" stroke="#222" stroke-width="1.2" fill="none"/>
<circle cx="339.50" cy="273.50" r="1.0" fill="#111"/>
<circle cx="342.10" cy="273.50" r="1.0" fill="#111"/>
<path d="M309.30,288.50 Q309.30,286.90 310.50,286.90 L331.50,286.90 Q332.70,286.90 332.70,288.50" stroke="#222" stroke-width="1.2" fill="none"/>
<circle cx="317.10" cy="283.50" r="1.0" fill="#111"/>
<circle cx="319.70" cy="283.50" r="1.0" fill="#111"/>
<circle cx="322.30" cy="283.50" r="1.0" fill="#111"/>
<circle cx="324.90" cy="283.50" r="1.0" fill="#111"/>
<path d="M335.40,288.50 Q335.40,286.90 336.60,286.90 L371.10,286.90 Q372.30,286.90 372.30,288.50" stroke="#222" stroke-width="1.2" fill="none"/>
<circle cx="353.85" cy="283.50" r="1.0" fill="#111"/>
<text x="332.70" y="268.30" font-size="10.3" stroke="#000" stroke-width="0.12" textLength="25.60" lengthAdjust="spacingAndGlyphs">LY, %</text>
<text transform="translate(278.20,308.50) rotate(-90)" x="0" y="0" font-size="9.6" text-anchor="middle" textLength="34.30" lengthAdjust="spacingAndGlyphs" stroke="#000" stroke-width="0.2">Percentage</text>
<rect x="414.40" y="189.20" width="15.40" height="5.50" fill="#AE0836"/>
<text x="433.10" y="195.00" font-size="8.8" stroke="#000" stroke-width="0.12" textLength="12.10" lengthAdjust="spacingAndGlyphs">WT</text>
<rect x="414.40" y="204.75" width="15.40" height="5.50" fill="#4F226A"/>
<text x="433.10" y="210.55" font-size="8.8" stroke="#000" stroke-width="0.12" font-style="italic" textLength="21.10" lengthAdjust="spacingAndGlyphs">Shp2*</text>
<rect x="414.40" y="220.30" width="15.40" height="5.50" fill="#2B4B88"/>
<text x="433.10" y="226.10" font-size="8.8" stroke="#000" stroke-width="0.12" font-style="italic" textLength="7.20" lengthAdjust="spacingAndGlyphs">M</text>
<rect x="414.40" y="235.85" width="15.40" height="5.50" fill="#65AB3F"/>
<text x="433.10" y="241.65" font-size="8.8" stroke="#000" stroke-width="0.12" font-style="italic" textLength="28.10" lengthAdjust="spacingAndGlyphs">Shp2*M</text>
<rect x="433.45" y="437.89" width="13.60" height="16.11" fill="#AE0836"/>
<rect x="453.60" y="415.34" width="13.60" height="38.66" fill="#4F226A"/>
<rect x="473.75" y="443.26" width="13.60" height="10.74" fill="#2B4B88"/>
<rect x="493.65" y="429.30" width="13.60" height="24.70" fill="#65AB3F"/>
<circle cx="440.25" cy="434.67" r="1.25" fill="#000"/>
<circle cx="441.95" cy="436.82" r="1.25" fill="#000"/>
<circle cx="438.55" cy="437.89" r="1.25" fill="#000"/>
<circle cx="443.65" cy="438.96" r="1.25" fill="#000"/>
<circle cx="440.25" cy="440.57" r="1.25" fill="#000"/>
<circle cx="460.40" cy="406.74" r="1.25" fill="#000"/>
<circle cx="460.40" cy="411.04" r="1.25" fill="#000"/>
<circle cx="462.10" cy="413.19" r="1.25" fill="#000"/>
<circle cx="460.40" cy="417.48" r="1.25" fill="#000"/>
<circle cx="460.40" cy="424.46" r="1.25" fill="#000"/>
<circle cx="480.55" cy="442.19" r="1.25" fill="#000"/>
<circle cx="483.95" cy="442.72" r="1.25" fill="#000"/>
<circle cx="477.15" cy="443.26" r="1.25" fill="#000"/>
<circle cx="485.65" cy="443.80" r="1.25" fill="#000"/>
<circle cx="482.25" cy="444.33" r="1.25" fill="#000"/>
<circle cx="500.45" cy="421.78" r="1.25" fill="#000"/>
<circle cx="500.45" cy="427.15" r="1.25" fill="#000"/>
<circle cx="502.15" cy="429.30" r="1.25" fill="#000"/>
<circle cx="500.45" cy="432.52" r="1.25" fill="#000"/>
<circle cx="503.85" cy="433.59" r="1.25" fill="#000"/>
<path d="M440.25,436.60 L440.25,439.18 M437.45,436.60 L443.05,436.60" stroke="#000" stroke-width="1.1" fill="none"/>
<path d="M460.40,411.79 L460.40,418.88 M457.60,411.79 L463.20,411.79" stroke="#000" stroke-width="1.1" fill="none"/>
<path d="M480.55,442.72 L480.55,443.80 M477.75,442.72 L483.35,442.72" stroke="#000" stroke-width="1.1" fill="none"/>
<path d="M500.45,426.61 L500.45,431.98 M497.65,426.61 L503.25,426.61" stroke="#000" stroke-width="1.1" fill="none"/>
<line x1="432.00" y1="397.80" x2="432.00" y2="454.50" stroke="#000" stroke-width="1.1"/>
<line x1="431.50" y1="454.00" x2="510.90" y2="454.00" stroke="#000" stroke-width="1.1"/>
<line x1="429.20" y1="454.00" x2="432.00" y2="454.00" stroke="#000" stroke-width="0.9"/>
<text x="425.40" y="457.30" font-size="9.2" text-anchor="end" textLength="4.70" lengthAdjust="spacingAndGlyphs" stroke="#000" stroke-width="0.15">0</text>
<line x1="429.20" y1="443.26" x2="432.00" y2="443.26" stroke="#000" stroke-width="0.9"/>
<text x="425.40" y="446.56" font-size="9.2" text-anchor="end" textLength="9.30" lengthAdjust="spacingAndGlyphs" stroke="#000" stroke-width="0.15">10</text>
<line x1="429.20" y1="432.52" x2="432.00" y2="432.52" stroke="#000" stroke-width="0.9"/>
<text x="425.40" y="435.82" font-size="9.2" text-anchor="end" textLength="9.30" lengthAdjust="spacingAndGlyphs" stroke="#000" stroke-width="0.15">20</text>
<line x1="429.20" y1="421.78" x2="432.00" y2="421.78" stroke="#000" stroke-width="0.9"/>
<text x="425.40" y="425.08" font-size="9.2" text-anchor="end" textLength="9.30" lengthAdjust="spacingAndGlyphs" stroke="#000" stroke-width="0.15">30</text>
<line x1="429.20" y1="411.04" x2="432.00" y2="411.04" stroke="#000" stroke-width="0.9"/>
<text x="425.40" y="414.34" font-size="9.2" text-anchor="end" textLength="9.30" lengthAdjust="spacingAndGlyphs" stroke="#000" stroke-width="0.15">40</text>
<line x1="429.20" y1="400.30" x2="432.00" y2="400.30" stroke="#000" stroke-width="0.9"/>
<text x="425.40" y="403.60" font-size="9.2" text-anchor="end" textLength="9.30" lengthAdjust="spacingAndGlyphs" stroke="#000" stroke-width="0.15">50</text>
<line x1="440.25" y1="454.00" x2="440.25" y2="456.60" stroke="#000" stroke-width="0.9"/>
<line x1="460.40" y1="454.00" x2="460.40" y2="456.60" stroke="#000" stroke-width="0.9"/>
<line x1="480.55" y1="454.00" x2="480.55" y2="456.60" stroke="#000" stroke-width="0.9"/>
<line x1="500.45" y1="454.00" x2="500.45" y2="456.60" stroke="#000" stroke-width="0.9"/>
<path d="M435.30,396.80 Q435.30,395.20 436.50,395.20 L497.10,395.20 Q498.30,395.20 498.30,396.80" stroke="#222" stroke-width="1.2" fill="none"/>
<circle cx="466.80" cy="391.80" r="1.0" fill="#111"/>
<path d="M435.30,404.90 Q435.30,403.30 436.50,403.30 L457.30,403.30 Q458.50,403.30 458.50,404.90" stroke="#222" stroke-width="1.2" fill="none"/>
<circle cx="444.30" cy="399.90" r="1.0" fill="#111"/>
<circle cx="446.90" cy="399.90" r="1.0" fill="#111"/>
<circle cx="449.50" cy="399.90" r="1.0" fill="#111"/>
<path d="M461.80,404.90 Q461.80,403.30 463.00,403.30 L497.10,403.30 Q498.30,403.30 498.30,404.90" stroke="#222" stroke-width="1.2" fill="none"/>
<circle cx="480.05" cy="399.90" r="1.0" fill="#111"/>
<text x="429.00" y="385.20" font-size="10.3" stroke="#000" stroke-width="0.12" textLength="83.20" lengthAdjust="spacingAndGlyphs">Freq. of Mac1<tspan font-size="7.2" dy="-3.6">+</tspan><tspan dy="3.6">, PB</tspan></text>
<text transform="translate(407.20,425.60) rotate(-90)" x="0" y="0" font-size="9.2" text-anchor="middle" textLength="33.80" lengthAdjust="spacingAndGlyphs" stroke="#000" stroke-width="0.2">Percentage</text>
<text x="74.35" y="384.30" font-size="10.4" stroke="#000" stroke-width="0.12" textLength="15.30" lengthAdjust="spacingAndGlyphs">WT</text>
<path d="M49.5,389.0 L114.8,389.0 L114.8,455.0" stroke="#c4c4c4" stroke-width="0.7" fill="none"/>
<rect x="57.7" y="444.5" width="0.6" height="0.6" fill="#8796D6" opacity="0.45"/>
<rect x="86.6" y="411.3" width="0.6" height="0.6" fill="#8796D6" opacity="0.45"/>
<rect x="74.3" y="422.2" width="0.6" height="0.6" fill="#8796D6" opacity="0.45"/>
<rect x="81.5" y="441.2" width="0.6" height="0.6" fill="#8796D6" opacity="0.45"/>
<rect x="55.8" y="398.6" width="0.6" height="0.6" fill="#8796D6" opacity="0.45"/>
<rect x="89.9" y="421.2" width="0.6" height="0.6" fill="#8796D6" opacity="0.45"/>
<rect x="86.6" y="397.1" width="0.6" height="0.6" fill="#8796D6" opacity="0.45"/>
<rect x="72.0" y="437.4" width="0.6" height="0.6" fill="#8796D6" opacity="0.45"/>
<rect x="62.0" y="449.9" width="0.6" height="0.6" fill="#8796D6" opacity="0.45"/>
<rect x="93.0" y="398.7" width="0.6" height="0.6" fill="#8796D6" opacity="0.45"/>
<rect x="52.7" y="427.3" width="0.6" height="0.6" fill="#8796D6" opacity="0.45"/>
<rect x="94.7" y="418.3" width="0.6" height="0.6" fill="#8796D6" opacity="0.45"/>
<rect x="61.5" y="420.6" width="0.6" height="0.6" fill="#8796D6" opacity="0.45"/>
<rect x="52.8" y="409.4" width="0.6" height="0.6" fill="#8796D6" opacity="0.45"/>
<rect x="71.6" y="424.8" width="0.6" height="0.6" fill="#8796D6" opacity="0.45"/>
<rect x="62.2" y="409.9" width="0.6" height="0.6" fill="#8796D6" opacity="0.45"/>
<rect x="61.6" y="422.7" width="0.6" height="0.6" fill="#8796D6" opacity="0.45"/>
<rect x="64.8" y="398.2" width="0.6" height="0.6" fill="#8796D6" opacity="0.45"/>
<rect x="90.0" y="428.2" width="0.6" height="0.6" fill="#8796D6" opacity="0.45"/>
<rect x="81.0" y="407.4" width="0.6" height="0.6" fill="#8796D6" opacity="0.45"/>
<rect x="97.2" y="445.2" width="0.6" height="0.6" fill="#8796D6" opacity="0.45"/>
<rect x="57.1" y="415.6" width="0.6" height="0.6" fill="#8796D6" opacity="0.45"/>
<rect x="84.7" y="436.8" width="0.6" height="0.6" fill="#8796D6" opacity="0.45"/>
<rect x="94.6" y="420.6" width="0.6" height="0.6" fill="#8796D6" opacity="0.45"/>
<rect x="89.7" y="434.5" width="0.6" height="0.6" fill="#8796D6" opacity="0.45"/>
<rect x="65.5" y="429.9" width="0.6" height="0.6" fill="#8796D6" opacity="0.45"/>
<rect x="92.1" y="444.4" width="0.6" height="0.6" fill="#8796D6" opacity="0.45"/>
<rect x="74.7" y="430.0" width="0.6" height="0.6" fill="#8796D6" opacity="0.45"/>
<rect x="53.1" y="410.6" width="0.6" height="0.6" fill="#8796D6" opacity="0.45"/>
<rect x="88.2" y="420.2" width="0.6" height="0.6" fill="#8796D6" opacity="0.45"/>
<rect x="86.3" y="451.1" width="0.75" height="0.75" fill="#4F66BC" opacity="0.67"/>
<rect x="79.6" y="444.7" width="0.75" height="0.75" fill="#4F66BC" opacity="0.55"/>
<rect x="76.1" y="447.1" width="0.75" height="0.75" fill="#4F66BC" opacity="0.57"/>
<rect x="84.4" y="447.7" width="0.75" height="0.75" fill="#4F66BC" opacity="0.67"/>
<rect x="91.2" y="447.0" width="0.75" height="0.75" fill="#4F66BC" opacity="0.53"/>
<rect x="86.2" y="450.8" width="0.75" height="0.75" fill="#4F66BC" opacity="0.79"/>
<rect x="83.5" y="443.5" width="0.75" height="0.75" fill="#4F66BC" opacity="0.74"/>
<rect x="83.4" y="451.3" width="0.75" height="0.75" fill="#4F66BC" opacity="0.78"/>
<rect x="76.1" y="445.8" width="0.75" height="0.75" fill="#4F66BC" opacity="0.47"/>
<rect x="93.9" y="447.7" width="0.75" height="0.75" fill="#4F66BC" opacity="0.72"/>
<rect x="90.6" y="444.1" width="0.75" height="0.75" fill="#4F66BC" opacity="0.71"/>
<rect x="74.2" y="447.0" width="0.75" height="0.75" fill="#4F66BC" opacity="0.54"/>
<rect x="94.8" y="449.7" width="0.75" height="0.75" fill="#4F66BC" opacity="0.61"/>
<rect x="84.9" y="451.1" width="0.75" height="0.75" fill="#4F66BC" opacity="0.57"/>
<rect x="78.8" y="449.8" width="0.75" height="0.75" fill="#4F66BC" opacity="0.59"/>
<rect x="76.1" y="444.4" width="0.75" height="0.75" fill="#4F66BC" opacity="0.56"/>
<rect x="87.1" y="447.9" width="0.75" height="0.75" fill="#4F66BC" opacity="0.43"/>
<rect x="86.0" y="442.0" width="0.75" height="0.75" fill="#4F66BC" opacity="0.72"/>
<rect x="82.1" y="453.6" width="0.75" height="0.75" fill="#4F66BC" opacity="0.65"/>
<rect x="83.5" y="447.8" width="0.75" height="0.75" fill="#4F66BC" opacity="0.36"/>
<rect x="82.7" y="445.1" width="0.75" height="0.75" fill="#4F66BC" opacity="0.40"/>
<rect x="78.3" y="445.4" width="0.75" height="0.75" fill="#4F66BC" opacity="0.38"/>
<rect x="86.8" y="450.8" width="0.75" height="0.75" fill="#4F66BC" opacity="0.43"/>
<rect x="81.0" y="452.5" width="0.75" height="0.75" fill="#4F66BC" opacity="0.55"/>
<rect x="79.3" y="450.8" width="0.75" height="0.75" fill="#4F66BC" opacity="0.36"/>
<rect x="77.4" y="449.7" width="0.75" height="0.75" fill="#4F66BC" opacity="0.43"/>
<rect x="93.3" y="451.8" width="0.75" height="0.75" fill="#4F66BC" opacity="0.58"/>
<rect x="84.8" y="451.7" width="0.75" height="0.75" fill="#4F66BC" opacity="0.72"/>
<rect x="83.7" y="447.6" width="0.75" height="0.75" fill="#4F66BC" opacity="0.42"/>
<rect x="81.8" y="445.6" width="0.75" height="0.75" fill="#4F66BC" opacity="0.67"/>
<rect x="78.9" y="443.9" width="0.75" height="0.75" fill="#4F66BC" opacity="0.45"/>
<rect x="94.0" y="446.6" width="0.75" height="0.75" fill="#4F66BC" opacity="0.58"/>
<rect x="84.1" y="452.1" width="0.75" height="0.75" fill="#4F66BC" opacity="0.53"/>
<rect x="77.4" y="446.2" width="0.75" height="0.75" fill="#4F66BC" opacity="0.63"/>
<rect x="87.6" y="448.5" width="0.75" height="0.75" fill="#4F66BC" opacity="0.79"/>
<rect x="86.4" y="445.6" width="0.75" height="0.75" fill="#4F66BC" opacity="0.74"/>
<rect x="82.2" y="444.2" width="0.75" height="0.75" fill="#4F66BC" opacity="0.46"/>
<rect x="95.8" y="447.9" width="0.75" height="0.75" fill="#4F66BC" opacity="0.37"/>
<rect x="89.5" y="440.1" width="0.75" height="0.75" fill="#4F66BC" opacity="0.61"/>
<rect x="88.7" y="453.2" width="0.75" height="0.75" fill="#4F66BC" opacity="0.79"/>
<rect x="80.3" y="443.8" width="0.75" height="0.75" fill="#4F66BC" opacity="0.52"/>
<rect x="80.0" y="449.3" width="0.75" height="0.75" fill="#4F66BC" opacity="0.65"/>
<rect x="78.6" y="448.4" width="0.75" height="0.75" fill="#4F66BC" opacity="0.40"/>
<rect x="79.8" y="445.2" width="0.75" height="0.75" fill="#4F66BC" opacity="0.57"/>
<rect x="76.5" y="453.3" width="0.75" height="0.75" fill="#4F66BC" opacity="0.75"/>
<rect x="86.8" y="447.7" width="0.75" height="0.75" fill="#4F66BC" opacity="0.50"/>
<rect x="93.8" y="447.0" width="0.75" height="0.75" fill="#4F66BC" opacity="0.50"/>
<rect x="84.7" y="452.2" width="0.75" height="0.75" fill="#4F66BC" opacity="0.73"/>
<rect x="87.9" y="446.3" width="0.75" height="0.75" fill="#4F66BC" opacity="0.75"/>
<rect x="79.6" y="444.1" width="0.75" height="0.75" fill="#4F66BC" opacity="0.79"/>
<rect x="83.5" y="452.6" width="0.75" height="0.75" fill="#4F66BC" opacity="0.39"/>
<rect x="89.4" y="453.7" width="0.75" height="0.75" fill="#4F66BC" opacity="0.45"/>
<rect x="83.0" y="443.2" width="0.75" height="0.75" fill="#4F66BC" opacity="0.73"/>
<rect x="78.5" y="449.7" width="0.75" height="0.75" fill="#4F66BC" opacity="0.48"/>
<rect x="88.5" y="444.3" width="0.75" height="0.75" fill="#4F66BC" opacity="0.78"/>
<rect x="85.2" y="446.4" width="0.75" height="0.75" fill="#4F66BC" opacity="0.60"/>
<rect x="84.0" y="448.1" width="0.75" height="0.75" fill="#4F66BC" opacity="0.38"/>
<rect x="90.1" y="443.3" width="0.75" height="0.75" fill="#4F66BC" opacity="0.72"/>
<rect x="77.6" y="451.2" width="0.75" height="0.75" fill="#4F66BC" opacity="0.70"/>
<rect x="76.4" y="450.4" width="0.75" height="0.75" fill="#4F66BC" opacity="0.45"/>
<rect x="87.0" y="448.7" width="0.75" height="0.75" fill="#4F66BC" opacity="0.75"/>
<rect x="77.4" y="448.2" width="0.75" height="0.75" fill="#4F66BC" opacity="0.70"/>
<rect x="83.0" y="447.1" width="0.75" height="0.75" fill="#4F66BC" opacity="0.65"/>
<rect x="85.2" y="448.4" width="0.75" height="0.75" fill="#4F66BC" opacity="0.75"/>
<rect x="87.2" y="448.1" width="0.75" height="0.75" fill="#4F66BC" opacity="0.79"/>
<rect x="79.7" y="448.3" width="0.75" height="0.75" fill="#4F66BC" opacity="0.43"/>
<rect x="83.1" y="452.8" width="0.75" height="0.75" fill="#4F66BC" opacity="0.40"/>
<rect x="87.9" y="445.8" width="0.75" height="0.75" fill="#4F66BC" opacity="0.79"/>
<rect x="87.1" y="446.1" width="0.75" height="0.75" fill="#4F66BC" opacity="0.46"/>
<rect x="79.5" y="447.7" width="0.75" height="0.75" fill="#4F66BC" opacity="0.64"/>
<rect x="83.4" y="447.6" width="0.75" height="0.75" fill="#4F66BC" opacity="0.79"/>
<rect x="80.0" y="451.6" width="0.75" height="0.75" fill="#4F66BC" opacity="0.55"/>
<rect x="81.6" y="448.6" width="0.75" height="0.75" fill="#4F66BC" opacity="0.76"/>
<rect x="99.4" y="445.9" width="0.75" height="0.75" fill="#4F66BC" opacity="0.40"/>
<rect x="84.5" y="451.8" width="0.75" height="0.75" fill="#4F66BC" opacity="0.79"/>
<rect x="79.9" y="445.4" width="0.75" height="0.75" fill="#4F66BC" opacity="0.59"/>
<rect x="80.8" y="449.8" width="0.75" height="0.75" fill="#4F66BC" opacity="0.39"/>
<rect x="73.6" y="449.0" width="0.75" height="0.75" fill="#4F66BC" opacity="0.64"/>
<rect x="88.5" y="446.3" width="0.75" height="0.75" fill="#4F66BC" opacity="0.49"/>
<rect x="79.9" y="450.0" width="0.75" height="0.75" fill="#4F66BC" opacity="0.73"/>
<rect x="86.8" y="445.8" width="0.75" height="0.75" fill="#4F66BC" opacity="0.50"/>
<rect x="74.3" y="446.3" width="0.75" height="0.75" fill="#4F66BC" opacity="0.62"/>
<rect x="82.5" y="448.1" width="0.75" height="0.75" fill="#4F66BC" opacity="0.46"/>
<rect x="89.9" y="449.3" width="0.75" height="0.75" fill="#4F66BC" opacity="0.38"/>
<rect x="90.7" y="449.6" width="0.75" height="0.75" fill="#4F66BC" opacity="0.48"/>
<rect x="84.5" y="443.9" width="0.75" height="0.75" fill="#4F66BC" opacity="0.74"/>
<rect x="86.8" y="450.6" width="0.75" height="0.75" fill="#4F66BC" opacity="0.71"/>
<rect x="96.5" y="451.1" width="0.75" height="0.75" fill="#4F66BC" opacity="0.43"/>
<rect x="85.6" y="438.4" width="0.75" height="0.75" fill="#4F66BC" opacity="0.72"/>
<rect x="81.2" y="448.9" width="0.75" height="0.75" fill="#4F66BC" opacity="0.58"/>
<rect x="87.2" y="446.2" width="0.75" height="0.75" fill="#4F66BC" opacity="0.75"/>
<rect x="91.5" y="453.0" width="0.75" height="0.75" fill="#4F66BC" opacity="0.36"/>
<rect x="76.8" y="453.8" width="0.75" height="0.75" fill="#4F66BC" opacity="0.71"/>
<rect x="92.9" y="444.1" width="0.75" height="0.75" fill="#4F66BC" opacity="0.69"/>
<rect x="81.0" y="445.6" width="0.75" height="0.75" fill="#4F66BC" opacity="0.54"/>
<rect x="88.1" y="451.7" width="0.75" height="0.75" fill="#4F66BC" opacity="0.65"/>
<rect x="82.5" y="448.7" width="0.75" height="0.75" fill="#4F66BC" opacity="0.78"/>
<rect x="85.4" y="443.7" width="0.75" height="0.75" fill="#4F66BC" opacity="0.59"/>
<rect x="86.7" y="444.7" width="0.75" height="0.75" fill="#4F66BC" opacity="0.53"/>
<rect x="79.8" y="449.6" width="0.75" height="0.75" fill="#4F66BC" opacity="0.36"/>
<rect x="78.4" y="444.9" width="0.75" height="0.75" fill="#4F66BC" opacity="0.61"/>
<rect x="88.1" y="448.6" width="0.75" height="0.75" fill="#4F66BC" opacity="0.41"/>
<rect x="86.1" y="449.3" width="0.75" height="0.75" fill="#4F66BC" opacity="0.72"/>
<rect x="77.2" y="449.4" width="0.75" height="0.75" fill="#4F66BC" opacity="0.63"/>
<rect x="82.6" y="447.9" width="0.75" height="0.75" fill="#4F66BC" opacity="0.59"/>
<rect x="73.3" y="449.3" width="0.75" height="0.75" fill="#4F66BC" opacity="0.68"/>
<rect x="83.1" y="451.2" width="0.75" height="0.75" fill="#4F66BC" opacity="0.57"/>
<rect x="83.5" y="450.8" width="0.75" height="0.75" fill="#4F66BC" opacity="0.60"/>
<rect x="94.6" y="443.6" width="0.75" height="0.75" fill="#4F66BC" opacity="0.47"/>
<rect x="81.3" y="446.7" width="0.75" height="0.75" fill="#4F66BC" opacity="0.38"/>
<rect x="88.5" y="452.1" width="0.75" height="0.75" fill="#4F66BC" opacity="0.75"/>
<rect x="78.7" y="452.0" width="0.75" height="0.75" fill="#4F66BC" opacity="0.73"/>
<rect x="75.5" y="451.1" width="0.75" height="0.75" fill="#4F66BC" opacity="0.68"/>
<rect x="95.6" y="442.6" width="0.75" height="0.75" fill="#4F66BC" opacity="0.61"/>
<rect x="84.7" y="449.7" width="0.75" height="0.75" fill="#4F66BC" opacity="0.45"/>
<rect x="91.8" y="449.1" width="0.75" height="0.75" fill="#4F66BC" opacity="0.67"/>
<rect x="78.0" y="450.6" width="0.75" height="0.75" fill="#4F66BC" opacity="0.42"/>
<rect x="82.3" y="446.6" width="0.75" height="0.75" fill="#4F66BC" opacity="0.79"/>
<rect x="85.8" y="443.3" width="0.75" height="0.75" fill="#4F66BC" opacity="0.47"/>
<rect x="96.6" y="443.3" width="0.75" height="0.75" fill="#4F66BC" opacity="0.41"/>
<rect x="84.5" y="441.4" width="0.75" height="0.75" fill="#4F66BC" opacity="0.65"/>
<rect x="80.3" y="444.2" width="0.75" height="0.75" fill="#4F66BC" opacity="0.77"/>
<rect x="88.8" y="446.9" width="0.75" height="0.75" fill="#4F66BC" opacity="0.71"/>
<rect x="78.9" y="448.3" width="0.75" height="0.75" fill="#4F66BC" opacity="0.50"/>
<rect x="92.5" y="452.5" width="0.75" height="0.75" fill="#4F66BC" opacity="0.78"/>
<rect x="89.0" y="450.5" width="0.75" height="0.75" fill="#4F66BC" opacity="0.53"/>
<rect x="86.5" y="449.3" width="0.75" height="0.75" fill="#4F66BC" opacity="0.46"/>
<rect x="82.5" y="447.2" width="0.75" height="0.75" fill="#4F66BC" opacity="0.44"/>
<rect x="81.3" y="447.7" width="0.75" height="0.75" fill="#4F66BC" opacity="0.63"/>
<rect x="83.9" y="450.0" width="0.75" height="0.75" fill="#4F66BC" opacity="0.59"/>
<rect x="81.2" y="451.7" width="0.75" height="0.75" fill="#4F66BC" opacity="0.46"/>
<rect x="77.8" y="442.3" width="0.75" height="0.75" fill="#4F66BC" opacity="0.71"/>
<rect x="90.5" y="446.8" width="0.75" height="0.75" fill="#4F66BC" opacity="0.57"/>
<rect x="89.4" y="443.2" width="0.75" height="0.75" fill="#4F66BC" opacity="0.61"/>
<rect x="78.6" y="449.3" width="0.75" height="0.75" fill="#4F66BC" opacity="0.40"/>
<rect x="83.7" y="446.0" width="0.75" height="0.75" fill="#4F66BC" opacity="0.69"/>
<rect x="83.7" y="438.9" width="0.75" height="0.75" fill="#4F66BC" opacity="0.41"/>
<rect x="74.0" y="447.5" width="0.75" height="0.75" fill="#4F66BC" opacity="0.49"/>
<rect x="76.4" y="447.4" width="0.75" height="0.75" fill="#4F66BC" opacity="0.59"/>
<rect x="89.5" y="447.5" width="0.75" height="0.75" fill="#4F66BC" opacity="0.55"/>
<rect x="80.3" y="450.5" width="0.75" height="0.75" fill="#4F66BC" opacity="0.70"/>
<rect x="79.4" y="444.1" width="0.75" height="0.75" fill="#4F66BC" opacity="0.64"/>
<rect x="79.3" y="449.0" width="0.75" height="0.75" fill="#4F66BC" opacity="0.35"/>
<rect x="81.0" y="451.8" width="0.75" height="0.75" fill="#4F66BC" opacity="0.75"/>
<rect x="86.2" y="444.1" width="0.75" height="0.75" fill="#4F66BC" opacity="0.79"/>
<rect x="73.5" y="450.4" width="0.75" height="0.75" fill="#4F66BC" opacity="0.79"/>
<rect x="81.1" y="449.3" width="0.75" height="0.75" fill="#4F66BC" opacity="0.63"/>
<rect x="76.5" y="446.9" width="0.75" height="0.75" fill="#4F66BC" opacity="0.35"/>
<rect x="77.2" y="449.7" width="0.75" height="0.75" fill="#4F66BC" opacity="0.53"/>
<rect x="88.0" y="444.3" width="0.75" height="0.75" fill="#4F66BC" opacity="0.68"/>
<rect x="91.2" y="444.3" width="0.75" height="0.75" fill="#4F66BC" opacity="0.57"/>
<rect x="82.3" y="442.9" width="0.75" height="0.75" fill="#4F66BC" opacity="0.64"/>
<rect x="77.9" y="445.1" width="0.75" height="0.75" fill="#4F66BC" opacity="0.63"/>
<rect x="85.0" y="441.4" width="0.75" height="0.75" fill="#4F66BC" opacity="0.70"/>
<rect x="86.0" y="443.5" width="0.75" height="0.75" fill="#4F66BC" opacity="0.51"/>
<rect x="81.6" y="452.5" width="0.75" height="0.75" fill="#4F66BC" opacity="0.74"/>
<rect x="78.9" y="447.0" width="0.75" height="0.75" fill="#4F66BC" opacity="0.72"/>
<rect x="75.2" y="447.8" width="0.75" height="0.75" fill="#4F66BC" opacity="0.37"/>
<rect x="77.1" y="448.9" width="0.75" height="0.75" fill="#4F66BC" opacity="0.65"/>
<rect x="90.2" y="448.0" width="0.75" height="0.75" fill="#4F66BC" opacity="0.78"/>
<rect x="80.1" y="444.5" width="0.75" height="0.75" fill="#4F66BC" opacity="0.66"/>
<rect x="79.0" y="446.2" width="0.75" height="0.75" fill="#4F66BC" opacity="0.44"/>
<rect x="86.4" y="445.8" width="0.75" height="0.75" fill="#4F66BC" opacity="0.38"/>
<rect x="86.3" y="444.1" width="0.75" height="0.75" fill="#4F66BC" opacity="0.52"/>
<rect x="87.1" y="451.6" width="0.75" height="0.75" fill="#4F66BC" opacity="0.67"/>
<rect x="84.5" y="445.2" width="0.75" height="0.75" fill="#4F66BC" opacity="0.62"/>
<rect x="83.4" y="451.6" width="0.75" height="0.75" fill="#4F66BC" opacity="0.43"/>
<rect x="85.7" y="441.3" width="0.75" height="0.75" fill="#4F66BC" opacity="0.50"/>
<rect x="79.1" y="441.6" width="0.75" height="0.75" fill="#4F66BC" opacity="0.36"/>
<rect x="89.8" y="444.9" width="0.75" height="0.75" fill="#4F66BC" opacity="0.49"/>
<rect x="83.4" y="445.5" width="0.75" height="0.75" fill="#4F66BC" opacity="0.63"/>
<rect x="81.3" y="443.2" width="0.75" height="0.75" fill="#4F66BC" opacity="0.47"/>
<rect x="79.0" y="447.2" width="0.75" height="0.75" fill="#4F66BC" opacity="0.41"/>
<rect x="81.2" y="444.5" width="0.75" height="0.75" fill="#4F66BC" opacity="0.69"/>
<rect x="83.1" y="452.6" width="0.75" height="0.75" fill="#4F66BC" opacity="0.67"/>
<rect x="81.4" y="448.9" width="0.75" height="0.75" fill="#4F66BC" opacity="0.53"/>
<rect x="79.5" y="447.6" width="0.75" height="0.75" fill="#4F66BC" opacity="0.43"/>
<rect x="90.7" y="449.0" width="0.75" height="0.75" fill="#4F66BC" opacity="0.75"/>
<rect x="82.9" y="448.3" width="0.75" height="0.75" fill="#4F66BC" opacity="0.67"/>
<rect x="89.2" y="439.9" width="0.75" height="0.75" fill="#4F66BC" opacity="0.63"/>
<rect x="75.7" y="452.6" width="0.75" height="0.75" fill="#4F66BC" opacity="0.40"/>
<rect x="81.5" y="446.2" width="0.75" height="0.75" fill="#4F66BC" opacity="0.53"/>
<rect x="76.2" y="447.6" width="0.75" height="0.75" fill="#4F66BC" opacity="0.43"/>
<rect x="83.9" y="453.4" width="0.75" height="0.75" fill="#4F66BC" opacity="0.56"/>
<rect x="78.6" y="446.4" width="0.75" height="0.75" fill="#4F66BC" opacity="0.67"/>
<rect x="78.3" y="451.3" width="0.75" height="0.75" fill="#4F66BC" opacity="0.76"/>
<rect x="84.5" y="447.5" width="0.75" height="0.75" fill="#4F66BC" opacity="0.71"/>
<rect x="86.1" y="445.3" width="0.75" height="0.75" fill="#4F66BC" opacity="0.52"/>
<rect x="82.7" y="445.7" width="0.75" height="0.75" fill="#4F66BC" opacity="0.76"/>
<rect x="86.1" y="447.7" width="0.75" height="0.75" fill="#4F66BC" opacity="0.65"/>
<rect x="88.4" y="448.6" width="0.75" height="0.75" fill="#4F66BC" opacity="0.41"/>
<rect x="84.0" y="447.0" width="0.75" height="0.75" fill="#4F66BC" opacity="0.38"/>
<rect x="83.5" y="446.7" width="0.75" height="0.75" fill="#4F66BC" opacity="0.47"/>
<rect x="84.6" y="448.4" width="0.75" height="0.75" fill="#4F66BC" opacity="0.36"/>
<rect x="75.5" y="443.5" width="0.75" height="0.75" fill="#4F66BC" opacity="0.66"/>
<rect x="87.9" y="443.6" width="0.75" height="0.75" fill="#4F66BC" opacity="0.53"/>
<rect x="79.4" y="445.6" width="0.75" height="0.75" fill="#4F66BC" opacity="0.38"/>
<rect x="90.5" y="445.8" width="0.75" height="0.75" fill="#4F66BC" opacity="0.51"/>
<rect x="75.9" y="445.0" width="0.75" height="0.75" fill="#4F66BC" opacity="0.58"/>
<rect x="88.1" y="448.6" width="0.75" height="0.75" fill="#4F66BC" opacity="0.54"/>
<rect x="86.7" y="453.8" width="0.75" height="0.75" fill="#4F66BC" opacity="0.54"/>
<rect x="77.1" y="443.2" width="0.75" height="0.75" fill="#4F66BC" opacity="0.68"/>
<rect x="80.5" y="442.2" width="0.75" height="0.75" fill="#4F66BC" opacity="0.46"/>
<rect x="86.2" y="447.2" width="0.75" height="0.75" fill="#4F66BC" opacity="0.76"/>
<rect x="90.3" y="442.5" width="0.75" height="0.75" fill="#4F66BC" opacity="0.37"/>
<rect x="92.5" y="450.7" width="0.75" height="0.75" fill="#4F66BC" opacity="0.56"/>
<rect x="90.3" y="448.5" width="0.75" height="0.75" fill="#4F66BC" opacity="0.55"/>
<rect x="87.0" y="449.8" width="0.75" height="0.75" fill="#4F66BC" opacity="0.67"/>
<rect x="83.6" y="447.0" width="0.75" height="0.75" fill="#4F66BC" opacity="0.59"/>
<rect x="92.3" y="450.6" width="0.75" height="0.75" fill="#4F66BC" opacity="0.39"/>
<rect x="88.8" y="448.2" width="0.75" height="0.75" fill="#4F66BC" opacity="0.68"/>
<rect x="81.2" y="449.1" width="0.75" height="0.75" fill="#4F66BC" opacity="0.71"/>
<rect x="87.0" y="441.6" width="0.75" height="0.75" fill="#4F66BC" opacity="0.49"/>
<rect x="78.2" y="448.6" width="0.75" height="0.75" fill="#4F66BC" opacity="0.60"/>
<rect x="79.6" y="450.0" width="0.75" height="0.75" fill="#4F66BC" opacity="0.70"/>
<rect x="90.8" y="446.4" width="0.75" height="0.75" fill="#4F66BC" opacity="0.40"/>
<rect x="78.4" y="444.6" width="0.75" height="0.75" fill="#4F66BC" opacity="0.79"/>
<rect x="80.1" y="441.5" width="0.75" height="0.75" fill="#4F66BC" opacity="0.67"/>
<rect x="85.1" y="445.2" width="0.75" height="0.75" fill="#4F66BC" opacity="0.42"/>
<rect x="77.1" y="450.3" width="0.75" height="0.75" fill="#4F66BC" opacity="0.39"/>
<rect x="77.7" y="451.0" width="0.75" height="0.75" fill="#4F66BC" opacity="0.37"/>
<rect x="86.2" y="443.2" width="0.75" height="0.75" fill="#4F66BC" opacity="0.49"/>
<rect x="80.7" y="450.3" width="0.75" height="0.75" fill="#4F66BC" opacity="0.50"/>
<rect x="82.4" y="443.7" width="0.75" height="0.75" fill="#4F66BC" opacity="0.59"/>
<rect x="91.1" y="453.2" width="0.75" height="0.75" fill="#4F66BC" opacity="0.50"/>
<rect x="81.4" y="448.6" width="0.75" height="0.75" fill="#4F66BC" opacity="0.79"/>
<rect x="97.9" y="443.8" width="0.75" height="0.75" fill="#4F66BC" opacity="0.72"/>
<rect x="95.6" y="444.2" width="0.75" height="0.75" fill="#4F66BC" opacity="0.71"/>
<rect x="87.8" y="450.4" width="0.75" height="0.75" fill="#4F66BC" opacity="0.61"/>
<rect x="93.9" y="447.2" width="0.75" height="0.75" fill="#4F66BC" opacity="0.67"/>
<rect x="82.4" y="444.5" width="0.75" height="0.75" fill="#4F66BC" opacity="0.77"/>
<rect x="78.4" y="445.0" width="0.75" height="0.75" fill="#4F66BC" opacity="0.56"/>
<rect x="63.9" y="446.4" width="0.75" height="0.75" fill="#3E57B4" opacity="0.60"/>
<rect x="65.0" y="425.6" width="0.75" height="0.75" fill="#3E57B4" opacity="0.60"/>
<rect x="65.1" y="445.5" width="0.75" height="0.75" fill="#3E57B4" opacity="0.60"/>
<rect x="65.3" y="440.6" width="0.75" height="0.75" fill="#3E57B4" opacity="0.60"/>
<rect x="65.0" y="436.5" width="0.75" height="0.75" fill="#3E57B4" opacity="0.60"/>
<rect x="64.5" y="428.6" width="0.75" height="0.75" fill="#3E57B4" opacity="0.60"/>
<rect x="67.5" y="425.6" width="0.75" height="0.75" fill="#3E57B4" opacity="0.60"/>
<rect x="65.9" y="439.8" width="0.75" height="0.75" fill="#3E57B4" opacity="0.60"/>
<rect x="64.2" y="424.7" width="0.75" height="0.75" fill="#3E57B4" opacity="0.60"/>
<rect x="64.4" y="441.7" width="0.75" height="0.75" fill="#3E57B4" opacity="0.60"/>
<rect x="66.5" y="436.1" width="0.75" height="0.75" fill="#3E57B4" opacity="0.60"/>
<rect x="64.6" y="432.3" width="0.75" height="0.75" fill="#3E57B4" opacity="0.60"/>
<rect x="65.1" y="444.4" width="0.75" height="0.75" fill="#3E57B4" opacity="0.60"/>
<rect x="65.6" y="442.5" width="0.75" height="0.75" fill="#3E57B4" opacity="0.60"/>
<rect x="65.4" y="426.5" width="0.75" height="0.75" fill="#3E57B4" opacity="0.60"/>
<rect x="64.0" y="435.4" width="0.75" height="0.75" fill="#3E57B4" opacity="0.60"/>
<rect x="65.1" y="443.2" width="0.75" height="0.75" fill="#3E57B4" opacity="0.60"/>
<rect x="66.4" y="423.2" width="0.75" height="0.75" fill="#3E57B4" opacity="0.60"/>
<rect x="65.0" y="428.7" width="0.75" height="0.75" fill="#3E57B4" opacity="0.60"/>
<rect x="66.4" y="423.6" width="0.75" height="0.75" fill="#3E57B4" opacity="0.60"/>
<rect x="64.6" y="442.2" width="0.75" height="0.75" fill="#3E57B4" opacity="0.60"/>
<rect x="63.8" y="435.6" width="0.75" height="0.75" fill="#3E57B4" opacity="0.60"/>
<rect x="63.1" y="435.2" width="0.75" height="0.75" fill="#3E57B4" opacity="0.60"/>
<rect x="63.3" y="446.5" width="0.75" height="0.75" fill="#3E57B4" opacity="0.60"/>
<rect x="64.9" y="431.3" width="0.75" height="0.75" fill="#3E57B4" opacity="0.60"/>
<rect x="62.1" y="436.4" width="0.75" height="0.75" fill="#3E57B4" opacity="0.60"/>
<rect x="63.2" y="425.0" width="0.75" height="0.75" fill="#3E57B4" opacity="0.60"/>
<rect x="63.9" y="440.4" width="0.75" height="0.75" fill="#3E57B4" opacity="0.60"/>
<rect x="67.4" y="432.0" width="0.75" height="0.75" fill="#3E57B4" opacity="0.60"/>
<rect x="66.9" y="438.0" width="0.75" height="0.75" fill="#3E57B4" opacity="0.60"/>
<rect x="63.8" y="443.9" width="0.75" height="0.75" fill="#3E57B4" opacity="0.60"/>
<rect x="63.5" y="443.1" width="0.75" height="0.75" fill="#3E57B4" opacity="0.60"/>
<rect x="64.5" y="435.3" width="0.75" height="0.75" fill="#3E57B4" opacity="0.60"/>
<rect x="64.9" y="426.5" width="0.75" height="0.75" fill="#3E57B4" opacity="0.60"/>
<rect x="66.1" y="424.0" width="0.75" height="0.75" fill="#3E57B4" opacity="0.60"/>
<rect x="63.9" y="443.2" width="0.75" height="0.75" fill="#3E57B4" opacity="0.60"/>
<rect x="64.4" y="447.9" width="0.75" height="0.75" fill="#3E57B4" opacity="0.60"/>
<rect x="64.4" y="440.0" width="0.75" height="0.75" fill="#3E57B4" opacity="0.60"/>
<rect x="63.0" y="441.8" width="0.75" height="0.75" fill="#3E57B4" opacity="0.60"/>
<rect x="66.8" y="434.6" width="0.75" height="0.75" fill="#3E57B4" opacity="0.60"/>
<rect x="67.6" y="426.7" width="0.75" height="0.75" fill="#3E57B4" opacity="0.60"/>
<rect x="66.3" y="428.6" width="0.75" height="0.75" fill="#3E57B4" opacity="0.60"/>
<rect x="66.2" y="434.3" width="0.75" height="0.75" fill="#3E57B4" opacity="0.60"/>
<rect x="65.1" y="440.1" width="0.75" height="0.75" fill="#3E57B4" opacity="0.60"/>
<rect x="66.4" y="437.7" width="0.75" height="0.75" fill="#3E57B4" opacity="0.60"/>
<rect x="63.5" y="437.4" width="0.75" height="0.75" fill="#3E57B4" opacity="0.60"/>
<rect x="65.6" y="446.9" width="0.75" height="0.75" fill="#3E57B4" opacity="0.60"/>
<rect x="64.9" y="432.7" width="0.75" height="0.75" fill="#3E57B4" opacity="0.60"/>
<rect x="65.2" y="430.3" width="0.75" height="0.75" fill="#3E57B4" opacity="0.60"/>
<rect x="66.0" y="440.9" width="0.75" height="0.75" fill="#3E57B4" opacity="0.60"/>
<rect x="65.8" y="439.7" width="0.75" height="0.75" fill="#3E57B4" opacity="0.60"/>
<rect x="64.5" y="440.0" width="0.75" height="0.75" fill="#3E57B4" opacity="0.60"/>
<rect x="66.2" y="445.8" width="0.75" height="0.75" fill="#3E57B4" opacity="0.60"/>
<rect x="63.8" y="426.7" width="0.75" height="0.75" fill="#3E57B4" opacity="0.60"/>
<rect x="64.3" y="427.7" width="0.75" height="0.75" fill="#3E57B4" opacity="0.60"/>
<rect x="65.5" y="444.3" width="0.75" height="0.75" fill="#3E57B4" opacity="0.60"/>
<rect x="66.2" y="434.2" width="0.75" height="0.75" fill="#3E57B4" opacity="0.60"/>
<rect x="65.5" y="427.4" width="0.75" height="0.75" fill="#3E57B4" opacity="0.60"/>
<rect x="68.4" y="434.8" width="0.75" height="0.75" fill="#3E57B4" opacity="0.60"/>
<rect x="67.5" y="437.8" width="0.75" height="0.75" fill="#3E57B4" opacity="0.60"/>
<rect x="64.2" y="429.2" width="0.75" height="0.75" fill="#3E57B4" opacity="0.60"/>
<rect x="65.2" y="440.8" width="0.75" height="0.75" fill="#3E57B4" opacity="0.60"/>
<rect x="65.1" y="428.8" width="0.75" height="0.75" fill="#3E57B4" opacity="0.60"/>
<rect x="66.0" y="427.1" width="0.75" height="0.75" fill="#3E57B4" opacity="0.60"/>
<rect x="66.3" y="437.1" width="0.75" height="0.75" fill="#3E57B4" opacity="0.60"/>
<rect x="65.6" y="438.3" width="0.75" height="0.75" fill="#3E57B4" opacity="0.60"/>
<rect x="65.1" y="429.1" width="0.75" height="0.75" fill="#3E57B4" opacity="0.60"/>
<rect x="64.6" y="428.8" width="0.75" height="0.75" fill="#3E57B4" opacity="0.60"/>
<rect x="64.7" y="430.8" width="0.75" height="0.75" fill="#3E57B4" opacity="0.60"/>
<rect x="64.2" y="443.2" width="0.75" height="0.75" fill="#3E57B4" opacity="0.60"/>
<rect x="64.9" y="425.5" width="0.75" height="0.75" fill="#3E57B4" opacity="0.60"/>
<rect x="65.8" y="436.9" width="0.75" height="0.75" fill="#3E57B4" opacity="0.60"/>
<rect x="64.3" y="430.6" width="0.75" height="0.75" fill="#3E57B4" opacity="0.60"/>
<rect x="66.1" y="426.5" width="0.75" height="0.75" fill="#3E57B4" opacity="0.60"/>
<rect x="63.9" y="424.8" width="0.75" height="0.75" fill="#3E57B4" opacity="0.60"/>
<rect x="64.7" y="436.0" width="0.75" height="0.75" fill="#3E57B4" opacity="0.60"/>
<rect x="63.4" y="427.1" width="0.75" height="0.75" fill="#3E57B4" opacity="0.60"/>
<rect x="65.4" y="433.1" width="0.75" height="0.75" fill="#3E57B4" opacity="0.60"/>
<rect x="65.0" y="430.1" width="0.75" height="0.75" fill="#3E57B4" opacity="0.60"/>
<rect x="64.1" y="426.3" width="0.75" height="0.75" fill="#3E57B4" opacity="0.60"/>
<rect x="62.6" y="419.9" width="0.75" height="0.75" fill="#4A62BA" opacity="0.60"/>
<rect x="63.5" y="414.9" width="0.75" height="0.75" fill="#4A62BA" opacity="0.60"/>
<rect x="63.4" y="417.1" width="0.75" height="0.75" fill="#4A62BA" opacity="0.60"/>
<rect x="63.9" y="422.4" width="0.75" height="0.75" fill="#4A62BA" opacity="0.60"/>
<rect x="63.7" y="413.9" width="0.75" height="0.75" fill="#4A62BA" opacity="0.60"/>
<rect x="66.5" y="418.2" width="0.75" height="0.75" fill="#4A62BA" opacity="0.60"/>
<rect x="65.2" y="417.3" width="0.75" height="0.75" fill="#4A62BA" opacity="0.60"/>
<rect x="63.8" y="416.4" width="0.75" height="0.75" fill="#4A62BA" opacity="0.60"/>
<rect x="64.9" y="415.5" width="0.75" height="0.75" fill="#4A62BA" opacity="0.60"/>
<rect x="60.5" y="420.9" width="0.75" height="0.75" fill="#4A62BA" opacity="0.60"/>
<rect x="63.0" y="412.5" width="0.75" height="0.75" fill="#4A62BA" opacity="0.60"/>
<rect x="63.3" y="411.9" width="0.75" height="0.75" fill="#4A62BA" opacity="0.60"/>
<rect x="62.3" y="414.6" width="0.75" height="0.75" fill="#4A62BA" opacity="0.60"/>
<rect x="65.5" y="413.7" width="0.75" height="0.75" fill="#4A62BA" opacity="0.60"/>
<rect x="64.8" y="409.2" width="0.75" height="0.75" fill="#4A62BA" opacity="0.60"/>
<rect x="65.3" y="410.1" width="0.75" height="0.75" fill="#4A62BA" opacity="0.60"/>
<rect x="65.2" y="411.8" width="0.75" height="0.75" fill="#4A62BA" opacity="0.60"/>
<rect x="62.8" y="409.6" width="0.75" height="0.75" fill="#4A62BA" opacity="0.60"/>
<rect x="61.6" y="414.0" width="0.75" height="0.75" fill="#4A62BA" opacity="0.60"/>
<rect x="62.1" y="414.0" width="0.75" height="0.75" fill="#4A62BA" opacity="0.60"/>
<rect x="65.9" y="411.4" width="0.75" height="0.75" fill="#4A62BA" opacity="0.60"/>
<rect x="63.3" y="414.6" width="0.75" height="0.75" fill="#4A62BA" opacity="0.60"/>
<rect x="62.8" y="414.9" width="0.75" height="0.75" fill="#4A62BA" opacity="0.60"/>
<rect x="64.3" y="419.5" width="0.75" height="0.75" fill="#4A62BA" opacity="0.60"/>
<rect x="62.6" y="414.1" width="0.75" height="0.75" fill="#4A62BA" opacity="0.60"/>
<rect x="63.6" y="420.3" width="0.75" height="0.75" fill="#4A62BA" opacity="0.60"/>
<rect x="62.1" y="415.7" width="0.75" height="0.75" fill="#4A62BA" opacity="0.60"/>
<rect x="65.3" y="417.5" width="0.75" height="0.75" fill="#4A62BA" opacity="0.60"/>
<rect x="62.6" y="410.5" width="0.75" height="0.75" fill="#4A62BA" opacity="0.60"/>
<rect x="60.6" y="412.7" width="0.75" height="0.75" fill="#4A62BA" opacity="0.60"/>
<rect x="63.4" y="408.5" width="0.75" height="0.75" fill="#4A62BA" opacity="0.60"/>
<rect x="65.4" y="415.7" width="0.75" height="0.75" fill="#4A62BA" opacity="0.60"/>
<rect x="63.5" y="412.7" width="0.75" height="0.75" fill="#4A62BA" opacity="0.60"/>
<rect x="64.8" y="413.8" width="0.75" height="0.75" fill="#4A62BA" opacity="0.60"/>
<rect x="64.8" y="412.9" width="0.75" height="0.75" fill="#4A62BA" opacity="0.60"/>
<rect x="65.8" y="408.0" width="0.75" height="0.75" fill="#4A62BA" opacity="0.60"/>
<rect x="62.0" y="422.8" width="0.75" height="0.75" fill="#4A62BA" opacity="0.60"/>
<rect x="65.8" y="422.1" width="0.75" height="0.75" fill="#4A62BA" opacity="0.60"/>
<rect x="62.5" y="418.1" width="0.75" height="0.75" fill="#4A62BA" opacity="0.60"/>
<rect x="65.7" y="419.0" width="0.75" height="0.75" fill="#4A62BA" opacity="0.60"/>
<rect x="63.6" y="421.4" width="0.75" height="0.75" fill="#4A62BA" opacity="0.60"/>
<rect x="64.6" y="409.4" width="0.75" height="0.75" fill="#4A62BA" opacity="0.60"/>
<rect x="68.3" y="415.5" width="0.75" height="0.75" fill="#4A62BA" opacity="0.60"/>
<rect x="66.2" y="412.0" width="0.75" height="0.75" fill="#4A62BA" opacity="0.60"/>
<rect x="62.2" y="418.8" width="0.75" height="0.75" fill="#4A62BA" opacity="0.60"/>
<rect x="65.4" y="411.8" width="0.75" height="0.75" fill="#4A62BA" opacity="0.60"/>
<rect x="64.3" y="409.3" width="0.75" height="0.75" fill="#4A62BA" opacity="0.60"/>
<rect x="60.2" y="419.7" width="0.75" height="0.75" fill="#4A62BA" opacity="0.60"/>
<rect x="61.8" y="418.2" width="0.75" height="0.75" fill="#4A62BA" opacity="0.60"/>
<rect x="65.8" y="416.6" width="0.75" height="0.75" fill="#4A62BA" opacity="0.60"/>
<rect x="66.6" y="416.6" width="0.75" height="0.75" fill="#4A62BA" opacity="0.60"/>
<rect x="64.4" y="415.0" width="0.75" height="0.75" fill="#4A62BA" opacity="0.60"/>
<rect x="64.7" y="416.5" width="0.75" height="0.75" fill="#4A62BA" opacity="0.60"/>
<rect x="62.2" y="414.8" width="0.75" height="0.75" fill="#4A62BA" opacity="0.60"/>
<rect x="63.2" y="427.3" width="0.75" height="0.75" fill="#4A62BA" opacity="0.60"/>
<rect x="66.1" y="411.6" width="0.75" height="0.75" fill="#4A62BA" opacity="0.60"/>
<rect x="65.0" y="407.4" width="0.75" height="0.75" fill="#4A62BA" opacity="0.60"/>
<rect x="64.0" y="422.8" width="0.75" height="0.75" fill="#4A62BA" opacity="0.60"/>
<rect x="64.0" y="420.5" width="0.75" height="0.75" fill="#4A62BA" opacity="0.60"/>
<rect x="63.2" y="417.0" width="0.75" height="0.75" fill="#4A62BA" opacity="0.60"/>
<rect x="64.6" y="405.5" width="0.75" height="0.75" fill="#4A62BA" opacity="0.60"/>
<rect x="62.5" y="423.2" width="0.75" height="0.75" fill="#4A62BA" opacity="0.60"/>
<rect x="62.4" y="420.2" width="0.75" height="0.75" fill="#4A62BA" opacity="0.60"/>
<rect x="67.0" y="414.8" width="0.75" height="0.75" fill="#4A62BA" opacity="0.60"/>
<rect x="65.7" y="416.6" width="0.75" height="0.75" fill="#4A62BA" opacity="0.60"/>
<rect x="62.8" y="417.5" width="0.75" height="0.75" fill="#4A62BA" opacity="0.60"/>
<rect x="64.7" y="410.7" width="0.75" height="0.75" fill="#4A62BA" opacity="0.60"/>
<rect x="63.1" y="409.2" width="0.75" height="0.75" fill="#4A62BA" opacity="0.60"/>
<rect x="63.3" y="414.8" width="0.75" height="0.75" fill="#4A62BA" opacity="0.60"/>
<rect x="62.1" y="406.9" width="0.75" height="0.75" fill="#4A62BA" opacity="0.60"/>
<rect x="65.1" y="451.9" width="0.75" height="0.75" fill="#4A62BA" opacity="0.60"/>
<rect x="62.3" y="448.7" width="0.75" height="0.75" fill="#4A62BA" opacity="0.60"/>
<rect x="62.7" y="441.5" width="0.75" height="0.75" fill="#4A62BA" opacity="0.60"/>
<rect x="67.7" y="449.3" width="0.75" height="0.75" fill="#4A62BA" opacity="0.60"/>
<rect x="61.4" y="451.9" width="0.75" height="0.75" fill="#4A62BA" opacity="0.60"/>
<rect x="65.2" y="452.3" width="0.75" height="0.75" fill="#4A62BA" opacity="0.60"/>
<rect x="65.2" y="449.9" width="0.75" height="0.75" fill="#4A62BA" opacity="0.60"/>
<rect x="66.5" y="447.8" width="0.75" height="0.75" fill="#4A62BA" opacity="0.60"/>
<rect x="64.3" y="445.6" width="0.75" height="0.75" fill="#4A62BA" opacity="0.60"/>
<rect x="61.8" y="449.1" width="0.75" height="0.75" fill="#4A62BA" opacity="0.60"/>
<rect x="64.3" y="444.3" width="0.75" height="0.75" fill="#4A62BA" opacity="0.60"/>
<rect x="64.6" y="451.2" width="0.75" height="0.75" fill="#4A62BA" opacity="0.60"/>
<rect x="61.6" y="447.6" width="0.75" height="0.75" fill="#4A62BA" opacity="0.60"/>
<rect x="67.0" y="446.2" width="0.75" height="0.75" fill="#4A62BA" opacity="0.60"/>
<rect x="64.9" y="450.6" width="0.75" height="0.75" fill="#4A62BA" opacity="0.60"/>
<rect x="64.2" y="448.9" width="0.75" height="0.75" fill="#4A62BA" opacity="0.60"/>
<rect x="64.9" y="449.3" width="0.75" height="0.75" fill="#4A62BA" opacity="0.60"/>
<rect x="64.2" y="444.6" width="0.75" height="0.75" fill="#4A62BA" opacity="0.60"/>
<rect x="64.3" y="446.4" width="0.75" height="0.75" fill="#4A62BA" opacity="0.60"/>
<rect x="65.9" y="442.8" width="0.75" height="0.75" fill="#4A62BA" opacity="0.60"/>
<rect x="65.7" y="448.8" width="0.75" height="0.75" fill="#4A62BA" opacity="0.60"/>
<rect x="61.9" y="445.3" width="0.75" height="0.75" fill="#4A62BA" opacity="0.60"/>
<rect x="65.8" y="446.8" width="0.75" height="0.75" fill="#4A62BA" opacity="0.60"/>
<rect x="63.8" y="448.7" width="0.75" height="0.75" fill="#4A62BA" opacity="0.60"/>
<rect x="65.6" y="441.4" width="0.75" height="0.75" fill="#4A62BA" opacity="0.60"/>
<rect x="66.1" y="446.3" width="0.75" height="0.75" fill="#4A62BA" opacity="0.60"/>
<rect x="63.2" y="450.1" width="0.75" height="0.75" fill="#4A62BA" opacity="0.60"/>
<rect x="64.6" y="442.3" width="0.75" height="0.75" fill="#4A62BA" opacity="0.60"/>
<rect x="65.0" y="448.1" width="0.75" height="0.75" fill="#4A62BA" opacity="0.60"/>
<rect x="62.0" y="446.9" width="0.75" height="0.75" fill="#4A62BA" opacity="0.60"/>
<rect x="61.0" y="450.6" width="0.75" height="0.75" fill="#4A62BA" opacity="0.60"/>
<rect x="66.6" y="446.8" width="0.75" height="0.75" fill="#4A62BA" opacity="0.60"/>
<rect x="63.1" y="444.6" width="0.75" height="0.75" fill="#4A62BA" opacity="0.60"/>
<rect x="62.6" y="445.8" width="0.75" height="0.75" fill="#4A62BA" opacity="0.60"/>
<rect x="63.9" y="453.1" width="0.75" height="0.75" fill="#4A62BA" opacity="0.60"/>
<rect x="65.8" y="451.1" width="0.75" height="0.75" fill="#4A62BA" opacity="0.60"/>
<rect x="62.2" y="450.7" width="0.75" height="0.75" fill="#4A62BA" opacity="0.60"/>
<rect x="62.6" y="446.1" width="0.75" height="0.75" fill="#4A62BA" opacity="0.60"/>
<rect x="65.2" y="448.2" width="0.75" height="0.75" fill="#4A62BA" opacity="0.60"/>
<ellipse cx="63.9" cy="415.0" rx="3.8" ry="9.2" fill="url(#blu)"/>
<ellipse cx="63.9" cy="415.0" rx="2.5" ry="7.2" fill="url(#hot)"/>
<ellipse cx="63.9" cy="448.5" rx="3.7" ry="5.3" fill="url(#blu)"/>
<ellipse cx="63.9" cy="448.5" rx="2.5" ry="3.8" fill="url(#hot)"/>
<path d="M51.4,455.0 L51.4,400.3 L72.7,400.3 L72.7,455.0 M51.4,429.6 L98.1,429.6 L98.1,455.0" stroke="#3a3a3a" stroke-width="0.8" fill="none"/>
<line x1="49.50" y1="389.00" x2="49.50" y2="455.00" stroke="#666" stroke-width="0.8"/>
<line x1="49.50" y1="455.00" x2="114.80" y2="455.00" stroke="#666" stroke-width="0.8"/>
<rect x="48.20" y="438.30" width="2.00" height="2.60" fill="#000"/>
<rect x="62.50" y="454.80" width="3.40" height="1.90" fill="#000"/>
<line x1="48.20" y1="395.00" x2="49.50" y2="395.00" stroke="#555" stroke-width="0.6"/>
<line x1="48.20" y1="411.60" x2="49.50" y2="411.60" stroke="#555" stroke-width="0.6"/>
<line x1="48.20" y1="429.00" x2="49.50" y2="429.00" stroke="#555" stroke-width="0.6"/>
<line x1="48.20" y1="439.50" x2="49.50" y2="439.50" stroke="#555" stroke-width="0.6"/>
<line x1="48.20" y1="450.20" x2="49.50" y2="450.20" stroke="#555" stroke-width="0.6"/>
<line x1="52.70" y1="455.00" x2="52.70" y2="456.30" stroke="#555" stroke-width="0.6"/>
<line x1="65.70" y1="455.00" x2="65.70" y2="456.30" stroke="#555" stroke-width="0.6"/>
<line x1="73.30" y1="455.00" x2="73.30" y2="456.30" stroke="#555" stroke-width="0.6"/>
<line x1="92.70" y1="455.00" x2="92.70" y2="456.30" stroke="#555" stroke-width="0.6"/>
<line x1="109.00" y1="455.00" x2="109.00" y2="456.30" stroke="#555" stroke-width="0.6"/>
<text x="46.90" y="397.70" font-size="8.2" stroke="#000" stroke-width="0.12" text-anchor="end" textLength="9.80" lengthAdjust="spacingAndGlyphs">10<tspan font-size="4.8" dy="-3.2">5</tspan></text>
<text x="46.90" y="414.30" font-size="8.2" stroke="#000" stroke-width="0.12" text-anchor="end" textLength="9.80" lengthAdjust="spacingAndGlyphs">10<tspan font-size="4.8" dy="-3.2">4</tspan></text>
<text x="46.90" y="431.70" font-size="8.2" stroke="#000" stroke-width="0.12" text-anchor="end" textLength="9.80" lengthAdjust="spacingAndGlyphs">10<tspan font-size="4.8" dy="-3.2">3</tspan></text>
<text x="46.90" y="442.30" font-size="8.2" stroke="#000" stroke-width="0.12" text-anchor="end" textLength="3.90" lengthAdjust="spacingAndGlyphs">0</text>
<text x="46.90" y="453.00" font-size="8.2" stroke="#000" stroke-width="0.12" text-anchor="end" textLength="12.20" lengthAdjust="spacingAndGlyphs">-10<tspan font-size="4.8" dy="-3.2">3</tspan></text>
<text x="47.40" y="464.00" font-size="8.2" stroke="#000" stroke-width="0.12" textLength="10.60" lengthAdjust="spacingAndGlyphs">-10<tspan font-size="4.8" dy="-3.2">3</tspan></text>
<text x="64.70" y="464.00" font-size="8.2" stroke="#000" stroke-width="0.12" textLength="3.00" lengthAdjust="spacingAndGlyphs">0</text>
<text x="69.30" y="464.00" font-size="8.2" stroke="#000" stroke-width="0.12" textLength="8.60" lengthAdjust="spacingAndGlyphs">10<tspan font-size="4.8" dy="-3.2">3</tspan></text>
<text x="89.40" y="464.00" font-size="8.2" stroke="#000" stroke-width="0.12" textLength="8.60" lengthAdjust="spacingAndGlyphs">10<tspan font-size="4.8" dy="-3.2">4</tspan></text>
<text x="105.30" y="464.00" font-size="8.2" stroke="#000" stroke-width="0.12" textLength="8.40" lengthAdjust="spacingAndGlyphs">10<tspan font-size="4.8" dy="-3.2">5</tspan></text>
<text x="52.50" y="399.30" font-size="7.4" stroke="#B3123F" stroke-width="0.12" fill="#B3123F" textLength="19.80" lengthAdjust="spacingAndGlyphs">B cells</text>
<text x="52.50" y="407.60" font-size="7.4" stroke="#B3123F" stroke-width="0.12" fill="#B3123F" textLength="19.60" lengthAdjust="spacingAndGlyphs">51.3%</text>
<text x="73.50" y="427.90" font-size="7.4" stroke="#B3123F" stroke-width="0.12" fill="#B3123F" textLength="37.00" lengthAdjust="spacingAndGlyphs">Myeloid cells</text>
<text x="73.50" y="436.00" font-size="7.4" stroke="#B3123F" stroke-width="0.12" fill="#B3123F" textLength="19.60" lengthAdjust="spacingAndGlyphs">12.7%</text>
<text x="74.50" y="397.60" font-size="3.3" fill="#222" textLength="8.80" lengthAdjust="spacingAndGlyphs">B cells</text>
<text x="77.10" y="401.70" font-size="3.3" fill="#222" textLength="4.40" lengthAdjust="spacingAndGlyphs">51.3</text>
<text x="94.90" y="445.00" font-size="3.3" fill="#222" textLength="17.60" lengthAdjust="spacingAndGlyphs">Myeloid cells</text>
<text x="100.90" y="449.10" font-size="3.3" fill="#222" textLength="4.40" lengthAdjust="spacingAndGlyphs">12.7</text>
<text x="55.70" y="447.50" font-size="3.3" fill="#222" textLength="4.40" lengthAdjust="spacingAndGlyphs">neg</text>
<text x="55.40" y="450.90" font-size="3.3" fill="#222" textLength="4.80" lengthAdjust="spacingAndGlyphs">36.3</text>
<text x="161.30" y="384.30" font-size="10.4" stroke="#000" stroke-width="0.12" font-style="italic" textLength="24.80" lengthAdjust="spacingAndGlyphs">Shp2*</text>
<path d="M141.2,389.0 L206.5,389.0 L206.5,455.0" stroke="#c4c4c4" stroke-width="0.7" fill="none"/>
<rect x="187.2" y="450.1" width="0.6" height="0.6" fill="#8796D6" opacity="0.45"/>
<rect x="145.8" y="401.8" width="0.6" height="0.6" fill="#8796D6" opacity="0.45"/>
<rect x="181.6" y="438.2" width="0.6" height="0.6" fill="#8796D6" opacity="0.45"/>
<rect x="174.0" y="414.3" width="0.6" height="0.6" fill="#8796D6" opacity="0.45"/>
<rect x="171.1" y="431.0" width="0.6" height="0.6" fill="#8796D6" opacity="0.45"/>
<rect x="169.9" y="405.9" width="0.6" height="0.6" fill="#8796D6" opacity="0.45"/>
<rect x="163.0" y="419.0" width="0.6" height="0.6" fill="#8796D6" opacity="0.45"/>
<rect x="176.5" y="452.7" width="0.6" height="0.6" fill="#8796D6" opacity="0.45"/>
<rect x="186.9" y="427.5" width="0.6" height="0.6" fill="#8796D6" opacity="0.45"/>
<rect x="163.7" y="412.0" width="0.6" height="0.6" fill="#8796D6" opacity="0.45"/>
<rect x="144.9" y="398.5" width="0.6" height="0.6" fill="#8796D6" opacity="0.45"/>
<rect x="164.6" y="414.8" width="0.6" height="0.6" fill="#8796D6" opacity="0.45"/>
<rect x="160.7" y="446.9" width="0.6" height="0.6" fill="#8796D6" opacity="0.45"/>
<rect x="167.4" y="428.4" width="0.6" height="0.6" fill="#8796D6" opacity="0.45"/>
<rect x="154.1" y="398.3" width="0.6" height="0.6" fill="#8796D6" opacity="0.45"/>
<rect x="158.2" y="404.7" width="0.6" height="0.6" fill="#8796D6" opacity="0.45"/>
<rect x="166.7" y="452.9" width="0.6" height="0.6" fill="#8796D6" opacity="0.45"/>
<rect x="174.2" y="407.2" width="0.6" height="0.6" fill="#8796D6" opacity="0.45"/>
<rect x="184.3" y="441.6" width="0.6" height="0.6" fill="#8796D6" opacity="0.45"/>
<rect x="177.0" y="447.8" width="0.6" height="0.6" fill="#8796D6" opacity="0.45"/>
<rect x="178.3" y="441.2" width="0.6" height="0.6" fill="#8796D6" opacity="0.45"/>
<rect x="159.5" y="451.9" width="0.6" height="0.6" fill="#8796D6" opacity="0.45"/>
<rect x="187.4" y="406.0" width="0.6" height="0.6" fill="#8796D6" opacity="0.45"/>
<rect x="177.9" y="437.0" width="0.6" height="0.6" fill="#8796D6" opacity="0.45"/>
<rect x="164.4" y="426.7" width="0.6" height="0.6" fill="#8796D6" opacity="0.45"/>
<rect x="165.7" y="448.8" width="0.6" height="0.6" fill="#8796D6" opacity="0.45"/>
<rect x="166.2" y="443.6" width="0.6" height="0.6" fill="#8796D6" opacity="0.45"/>
<rect x="159.5" y="446.4" width="0.6" height="0.6" fill="#8796D6" opacity="0.45"/>
<rect x="184.6" y="422.8" width="0.6" height="0.6" fill="#8796D6" opacity="0.45"/>
<rect x="169.3" y="448.5" width="0.6" height="0.6" fill="#8796D6" opacity="0.45"/>
<rect x="174.9" y="443.2" width="0.75" height="0.75" fill="#4F66BC" opacity="0.45"/>
<rect x="171.3" y="452.8" width="0.75" height="0.75" fill="#4F66BC" opacity="0.42"/>
<rect x="180.8" y="445.9" width="0.75" height="0.75" fill="#4F66BC" opacity="0.76"/>
<rect x="173.9" y="443.2" width="0.75" height="0.75" fill="#4F66BC" opacity="0.58"/>
<rect x="170.8" y="443.4" width="0.75" height="0.75" fill="#4F66BC" opacity="0.49"/>
<rect x="178.4" y="451.9" width="0.75" height="0.75" fill="#4F66BC" opacity="0.77"/>
<rect x="174.2" y="446.4" width="0.75" height="0.75" fill="#4F66BC" opacity="0.72"/>
<rect x="173.9" y="439.3" width="0.75" height="0.75" fill="#4F66BC" opacity="0.44"/>
<rect x="176.1" y="446.2" width="0.75" height="0.75" fill="#4F66BC" opacity="0.64"/>
<rect x="175.5" y="450.2" width="0.75" height="0.75" fill="#4F66BC" opacity="0.74"/>
<rect x="182.9" y="450.4" width="0.75" height="0.75" fill="#4F66BC" opacity="0.73"/>
<rect x="176.4" y="450.1" width="0.75" height="0.75" fill="#4F66BC" opacity="0.75"/>
<rect x="166.4" y="450.3" width="0.75" height="0.75" fill="#4F66BC" opacity="0.36"/>
<rect x="173.4" y="449.3" width="0.75" height="0.75" fill="#4F66BC" opacity="0.65"/>
<rect x="191.3" y="452.2" width="0.75" height="0.75" fill="#4F66BC" opacity="0.36"/>
<rect x="176.0" y="446.7" width="0.75" height="0.75" fill="#4F66BC" opacity="0.47"/>
<rect x="177.8" y="445.5" width="0.75" height="0.75" fill="#4F66BC" opacity="0.43"/>
<rect x="173.7" y="444.0" width="0.75" height="0.75" fill="#4F66BC" opacity="0.37"/>
<rect x="180.2" y="447.4" width="0.75" height="0.75" fill="#4F66BC" opacity="0.37"/>
<rect x="170.8" y="451.9" width="0.75" height="0.75" fill="#4F66BC" opacity="0.68"/>
<rect x="181.0" y="449.7" width="0.75" height="0.75" fill="#4F66BC" opacity="0.36"/>
<rect x="164.9" y="449.6" width="0.75" height="0.75" fill="#4F66BC" opacity="0.68"/>
<rect x="185.8" y="443.8" width="0.75" height="0.75" fill="#4F66BC" opacity="0.74"/>
<rect x="174.0" y="443.4" width="0.75" height="0.75" fill="#4F66BC" opacity="0.45"/>
<rect x="173.0" y="444.7" width="0.75" height="0.75" fill="#4F66BC" opacity="0.40"/>
<rect x="182.7" y="451.1" width="0.75" height="0.75" fill="#4F66BC" opacity="0.53"/>
<rect x="172.3" y="447.3" width="0.75" height="0.75" fill="#4F66BC" opacity="0.78"/>
<rect x="175.7" y="452.7" width="0.75" height="0.75" fill="#4F66BC" opacity="0.54"/>
<rect x="185.1" y="448.0" width="0.75" height="0.75" fill="#4F66BC" opacity="0.41"/>
<rect x="177.9" y="447.8" width="0.75" height="0.75" fill="#4F66BC" opacity="0.42"/>
<rect x="184.4" y="450.6" width="0.75" height="0.75" fill="#4F66BC" opacity="0.58"/>
<rect x="192.4" y="446.6" width="0.75" height="0.75" fill="#4F66BC" opacity="0.80"/>
<rect x="177.0" y="451.6" width="0.75" height="0.75" fill="#4F66BC" opacity="0.46"/>
<rect x="168.0" y="444.6" width="0.75" height="0.75" fill="#4F66BC" opacity="0.71"/>
<rect x="174.8" y="444.7" width="0.75" height="0.75" fill="#4F66BC" opacity="0.54"/>
<rect x="175.5" y="447.4" width="0.75" height="0.75" fill="#4F66BC" opacity="0.37"/>
<rect x="173.3" y="448.5" width="0.75" height="0.75" fill="#4F66BC" opacity="0.68"/>
<rect x="176.4" y="449.2" width="0.75" height="0.75" fill="#4F66BC" opacity="0.43"/>
<rect x="176.8" y="450.1" width="0.75" height="0.75" fill="#4F66BC" opacity="0.58"/>
<rect x="170.3" y="448.2" width="0.75" height="0.75" fill="#4F66BC" opacity="0.64"/>
<rect x="187.2" y="446.1" width="0.75" height="0.75" fill="#4F66BC" opacity="0.55"/>
<rect x="167.0" y="447.1" width="0.75" height="0.75" fill="#4F66BC" opacity="0.37"/>
<rect x="168.8" y="449.8" width="0.75" height="0.75" fill="#4F66BC" opacity="0.43"/>
<rect x="186.7" y="451.3" width="0.75" height="0.75" fill="#4F66BC" opacity="0.51"/>
<rect x="171.8" y="445.5" width="0.75" height="0.75" fill="#4F66BC" opacity="0.79"/>
<rect x="175.2" y="448.0" width="0.75" height="0.75" fill="#4F66BC" opacity="0.66"/>
<rect x="181.0" y="449.4" width="0.75" height="0.75" fill="#4F66BC" opacity="0.73"/>
<rect x="175.6" y="446.9" width="0.75" height="0.75" fill="#4F66BC" opacity="0.55"/>
<rect x="169.4" y="449.8" width="0.75" height="0.75" fill="#4F66BC" opacity="0.44"/>
<rect x="173.9" y="446.7" width="0.75" height="0.75" fill="#4F66BC" opacity="0.48"/>
<rect x="186.6" y="450.4" width="0.75" height="0.75" fill="#4F66BC" opacity="0.44"/>
<rect x="169.9" y="445.9" width="0.75" height="0.75" fill="#4F66BC" opacity="0.56"/>
<rect x="176.4" y="443.7" width="0.75" height="0.75" fill="#4F66BC" opacity="0.40"/>
<rect x="178.3" y="448.6" width="0.75" height="0.75" fill="#4F66BC" opacity="0.73"/>
<rect x="165.0" y="440.0" width="0.75" height="0.75" fill="#4F66BC" opacity="0.66"/>
<rect x="186.3" y="448.4" width="0.75" height="0.75" fill="#4F66BC" opacity="0.70"/>
<rect x="174.8" y="443.1" width="0.75" height="0.75" fill="#4F66BC" opacity="0.51"/>
<rect x="175.2" y="452.1" width="0.75" height="0.75" fill="#4F66BC" opacity="0.56"/>
<rect x="188.3" y="445.6" width="0.75" height="0.75" fill="#4F66BC" opacity="0.77"/>
<rect x="179.2" y="444.8" width="0.75" height="0.75" fill="#4F66BC" opacity="0.45"/>
<rect x="170.8" y="447.7" width="0.75" height="0.75" fill="#4F66BC" opacity="0.54"/>
<rect x="169.4" y="439.8" width="0.75" height="0.75" fill="#4F66BC" opacity="0.61"/>
<rect x="177.5" y="445.9" width="0.75" height="0.75" fill="#4F66BC" opacity="0.51"/>
<rect x="180.1" y="447.5" width="0.75" height="0.75" fill="#4F66BC" opacity="0.54"/>
<rect x="178.9" y="448.2" width="0.75" height="0.75" fill="#4F66BC" opacity="0.75"/>
<rect x="186.3" y="447.1" width="0.75" height="0.75" fill="#4F66BC" opacity="0.41"/>
<rect x="174.7" y="450.1" width="0.75" height="0.75" fill="#4F66BC" opacity="0.65"/>
<rect x="173.0" y="443.8" width="0.75" height="0.75" fill="#4F66BC" opacity="0.59"/>
<rect x="182.9" y="450.6" width="0.75" height="0.75" fill="#4F66BC" opacity="0.78"/>
<rect x="176.3" y="445.8" width="0.75" height="0.75" fill="#4F66BC" opacity="0.58"/>
<rect x="175.0" y="444.6" width="0.75" height="0.75" fill="#4F66BC" opacity="0.75"/>
<rect x="165.6" y="448.9" width="0.75" height="0.75" fill="#4F66BC" opacity="0.53"/>
<rect x="188.4" y="447.3" width="0.75" height="0.75" fill="#4F66BC" opacity="0.61"/>
<rect x="180.8" y="450.7" width="0.75" height="0.75" fill="#4F66BC" opacity="0.36"/>
<rect x="179.7" y="451.6" width="0.75" height="0.75" fill="#4F66BC" opacity="0.57"/>
<rect x="167.1" y="450.9" width="0.75" height="0.75" fill="#4F66BC" opacity="0.77"/>
<rect x="174.0" y="443.4" width="0.75" height="0.75" fill="#4F66BC" opacity="0.78"/>
<rect x="170.6" y="453.0" width="0.75" height="0.75" fill="#4F66BC" opacity="0.65"/>
<rect x="177.2" y="440.1" width="0.75" height="0.75" fill="#4F66BC" opacity="0.45"/>
<rect x="171.1" y="444.8" width="0.75" height="0.75" fill="#4F66BC" opacity="0.65"/>
<rect x="186.0" y="446.7" width="0.75" height="0.75" fill="#4F66BC" opacity="0.36"/>
<rect x="165.4" y="448.8" width="0.75" height="0.75" fill="#4F66BC" opacity="0.75"/>
<rect x="168.6" y="441.8" width="0.75" height="0.75" fill="#4F66BC" opacity="0.36"/>
<rect x="186.8" y="445.4" width="0.75" height="0.75" fill="#4F66BC" opacity="0.62"/>
<rect x="188.3" y="443.1" width="0.75" height="0.75" fill="#4F66BC" opacity="0.40"/>
<rect x="181.0" y="441.6" width="0.75" height="0.75" fill="#4F66BC" opacity="0.44"/>
<rect x="175.9" y="442.5" width="0.75" height="0.75" fill="#4F66BC" opacity="0.44"/>
<rect x="177.5" y="445.5" width="0.75" height="0.75" fill="#4F66BC" opacity="0.63"/>
<rect x="171.3" y="448.7" width="0.75" height="0.75" fill="#4F66BC" opacity="0.60"/>
<rect x="171.6" y="448.0" width="0.75" height="0.75" fill="#4F66BC" opacity="0.79"/>
<rect x="176.7" y="447.6" width="0.75" height="0.75" fill="#4F66BC" opacity="0.57"/>
<rect x="181.5" y="442.7" width="0.75" height="0.75" fill="#4F66BC" opacity="0.69"/>
<rect x="165.8" y="448.0" width="0.75" height="0.75" fill="#4F66BC" opacity="0.50"/>
<rect x="175.3" y="452.0" width="0.75" height="0.75" fill="#4F66BC" opacity="0.36"/>
<rect x="186.5" y="450.6" width="0.75" height="0.75" fill="#4F66BC" opacity="0.43"/>
<rect x="176.2" y="440.8" width="0.75" height="0.75" fill="#4F66BC" opacity="0.53"/>
<rect x="170.6" y="441.5" width="0.75" height="0.75" fill="#4F66BC" opacity="0.74"/>
<rect x="179.0" y="449.2" width="0.75" height="0.75" fill="#4F66BC" opacity="0.52"/>
<rect x="170.5" y="448.2" width="0.75" height="0.75" fill="#4F66BC" opacity="0.35"/>
<rect x="170.4" y="451.0" width="0.75" height="0.75" fill="#4F66BC" opacity="0.52"/>
<rect x="172.6" y="452.6" width="0.75" height="0.75" fill="#4F66BC" opacity="0.57"/>
<rect x="187.8" y="450.8" width="0.75" height="0.75" fill="#4F66BC" opacity="0.49"/>
<rect x="168.6" y="442.1" width="0.75" height="0.75" fill="#4F66BC" opacity="0.64"/>
<rect x="165.7" y="452.0" width="0.75" height="0.75" fill="#4F66BC" opacity="0.39"/>
<rect x="171.5" y="444.7" width="0.75" height="0.75" fill="#4F66BC" opacity="0.59"/>
<rect x="183.6" y="442.0" width="0.75" height="0.75" fill="#4F66BC" opacity="0.63"/>
<rect x="174.4" y="450.1" width="0.75" height="0.75" fill="#4F66BC" opacity="0.56"/>
<rect x="176.8" y="450.5" width="0.75" height="0.75" fill="#4F66BC" opacity="0.78"/>
<rect x="186.1" y="452.0" width="0.75" height="0.75" fill="#4F66BC" opacity="0.52"/>
<rect x="172.2" y="450.0" width="0.75" height="0.75" fill="#4F66BC" opacity="0.38"/>
<rect x="172.1" y="448.1" width="0.75" height="0.75" fill="#4F66BC" opacity="0.55"/>
<rect x="182.9" y="445.6" width="0.75" height="0.75" fill="#4F66BC" opacity="0.64"/>
<rect x="181.8" y="446.1" width="0.75" height="0.75" fill="#4F66BC" opacity="0.39"/>
<rect x="176.5" y="450.0" width="0.75" height="0.75" fill="#4F66BC" opacity="0.66"/>
<rect x="171.6" y="450.0" width="0.75" height="0.75" fill="#4F66BC" opacity="0.71"/>
<rect x="171.4" y="444.7" width="0.75" height="0.75" fill="#4F66BC" opacity="0.72"/>
<rect x="168.3" y="454.0" width="0.75" height="0.75" fill="#4F66BC" opacity="0.77"/>
<rect x="165.5" y="447.4" width="0.75" height="0.75" fill="#4F66BC" opacity="0.78"/>
<rect x="175.7" y="441.2" width="0.75" height="0.75" fill="#4F66BC" opacity="0.74"/>
<rect x="187.0" y="445.0" width="0.75" height="0.75" fill="#4F66BC" opacity="0.79"/>
<rect x="173.7" y="452.6" width="0.75" height="0.75" fill="#4F66BC" opacity="0.65"/>
<rect x="171.5" y="450.3" width="0.75" height="0.75" fill="#4F66BC" opacity="0.43"/>
<rect x="182.5" y="446.6" width="0.75" height="0.75" fill="#4F66BC" opacity="0.56"/>
<rect x="179.7" y="446.0" width="0.75" height="0.75" fill="#4F66BC" opacity="0.78"/>
<rect x="177.4" y="448.1" width="0.75" height="0.75" fill="#4F66BC" opacity="0.51"/>
<rect x="166.3" y="454.1" width="0.75" height="0.75" fill="#4F66BC" opacity="0.75"/>
<rect x="176.7" y="443.4" width="0.75" height="0.75" fill="#4F66BC" opacity="0.59"/>
<rect x="171.8" y="449.5" width="0.75" height="0.75" fill="#4F66BC" opacity="0.64"/>
<rect x="179.8" y="450.2" width="0.75" height="0.75" fill="#4F66BC" opacity="0.77"/>
<rect x="179.4" y="448.7" width="0.75" height="0.75" fill="#4F66BC" opacity="0.44"/>
<rect x="176.2" y="451.5" width="0.75" height="0.75" fill="#4F66BC" opacity="0.46"/>
<rect x="173.3" y="449.9" width="0.75" height="0.75" fill="#4F66BC" opacity="0.46"/>
<rect x="171.3" y="445.3" width="0.75" height="0.75" fill="#4F66BC" opacity="0.52"/>
<rect x="176.5" y="446.2" width="0.75" height="0.75" fill="#4F66BC" opacity="0.41"/>
<rect x="180.6" y="444.3" width="0.75" height="0.75" fill="#4F66BC" opacity="0.70"/>
<rect x="181.9" y="450.9" width="0.75" height="0.75" fill="#4F66BC" opacity="0.73"/>
<rect x="169.9" y="453.0" width="0.75" height="0.75" fill="#4F66BC" opacity="0.62"/>
<rect x="170.0" y="450.2" width="0.75" height="0.75" fill="#4F66BC" opacity="0.63"/>
<rect x="170.8" y="454.1" width="0.75" height="0.75" fill="#4F66BC" opacity="0.62"/>
<rect x="168.8" y="445.0" width="0.75" height="0.75" fill="#4F66BC" opacity="0.79"/>
<rect x="189.6" y="447.0" width="0.75" height="0.75" fill="#4F66BC" opacity="0.55"/>
<rect x="168.9" y="449.9" width="0.75" height="0.75" fill="#4F66BC" opacity="0.37"/>
<rect x="187.6" y="454.0" width="0.75" height="0.75" fill="#4F66BC" opacity="0.66"/>
<rect x="178.6" y="446.7" width="0.75" height="0.75" fill="#4F66BC" opacity="0.49"/>
<rect x="176.5" y="447.0" width="0.75" height="0.75" fill="#4F66BC" opacity="0.40"/>
<rect x="173.6" y="449.4" width="0.75" height="0.75" fill="#4F66BC" opacity="0.42"/>
<rect x="174.7" y="446.0" width="0.75" height="0.75" fill="#4F66BC" opacity="0.79"/>
<rect x="174.9" y="446.5" width="0.75" height="0.75" fill="#4F66BC" opacity="0.75"/>
<rect x="176.6" y="451.8" width="0.75" height="0.75" fill="#4F66BC" opacity="0.60"/>
<rect x="181.5" y="450.9" width="0.75" height="0.75" fill="#4F66BC" opacity="0.38"/>
<rect x="179.9" y="443.3" width="0.75" height="0.75" fill="#4F66BC" opacity="0.66"/>
<rect x="178.9" y="446.0" width="0.75" height="0.75" fill="#4F66BC" opacity="0.57"/>
<rect x="178.6" y="448.9" width="0.75" height="0.75" fill="#4F66BC" opacity="0.40"/>
<rect x="176.8" y="448.7" width="0.75" height="0.75" fill="#4F66BC" opacity="0.45"/>
<rect x="169.1" y="451.2" width="0.75" height="0.75" fill="#4F66BC" opacity="0.74"/>
<rect x="185.4" y="444.1" width="0.75" height="0.75" fill="#4F66BC" opacity="0.58"/>
<rect x="179.8" y="446.4" width="0.75" height="0.75" fill="#4F66BC" opacity="0.40"/>
<rect x="180.3" y="442.6" width="0.75" height="0.75" fill="#4F66BC" opacity="0.44"/>
<rect x="172.0" y="449.7" width="0.75" height="0.75" fill="#4F66BC" opacity="0.54"/>
<rect x="169.9" y="449.2" width="0.75" height="0.75" fill="#4F66BC" opacity="0.71"/>
<rect x="179.6" y="443.0" width="0.75" height="0.75" fill="#4F66BC" opacity="0.56"/>
<rect x="173.6" y="453.8" width="0.75" height="0.75" fill="#4F66BC" opacity="0.79"/>
<rect x="177.6" y="453.4" width="0.75" height="0.75" fill="#4F66BC" opacity="0.66"/>
<rect x="175.2" y="446.7" width="0.75" height="0.75" fill="#4F66BC" opacity="0.60"/>
<rect x="177.6" y="449.9" width="0.75" height="0.75" fill="#4F66BC" opacity="0.61"/>
<rect x="170.2" y="443.3" width="0.75" height="0.75" fill="#4F66BC" opacity="0.68"/>
<rect x="173.9" y="443.4" width="0.75" height="0.75" fill="#4F66BC" opacity="0.37"/>
<rect x="178.0" y="440.5" width="0.75" height="0.75" fill="#4F66BC" opacity="0.73"/>
<rect x="174.6" y="446.9" width="0.75" height="0.75" fill="#4F66BC" opacity="0.44"/>
<rect x="183.9" y="450.9" width="0.75" height="0.75" fill="#4F66BC" opacity="0.59"/>
<rect x="191.1" y="446.4" width="0.75" height="0.75" fill="#4F66BC" opacity="0.56"/>
<rect x="175.0" y="450.0" width="0.75" height="0.75" fill="#4F66BC" opacity="0.72"/>
<rect x="174.5" y="444.6" width="0.75" height="0.75" fill="#4F66BC" opacity="0.76"/>
<rect x="169.6" y="445.9" width="0.75" height="0.75" fill="#4F66BC" opacity="0.54"/>
<rect x="174.8" y="443.4" width="0.75" height="0.75" fill="#4F66BC" opacity="0.65"/>
<rect x="184.0" y="451.6" width="0.75" height="0.75" fill="#4F66BC" opacity="0.47"/>
<rect x="180.3" y="446.1" width="0.75" height="0.75" fill="#4F66BC" opacity="0.50"/>
<rect x="169.4" y="446.6" width="0.75" height="0.75" fill="#4F66BC" opacity="0.59"/>
<rect x="180.4" y="446.3" width="0.75" height="0.75" fill="#4F66BC" opacity="0.70"/>
<rect x="171.9" y="441.2" width="0.75" height="0.75" fill="#4F66BC" opacity="0.55"/>
<rect x="170.0" y="448.5" width="0.75" height="0.75" fill="#4F66BC" opacity="0.56"/>
<rect x="176.1" y="450.0" width="0.75" height="0.75" fill="#4F66BC" opacity="0.56"/>
<rect x="179.0" y="451.5" width="0.75" height="0.75" fill="#4F66BC" opacity="0.61"/>
<rect x="174.6" y="449.7" width="0.75" height="0.75" fill="#4F66BC" opacity="0.62"/>
<rect x="179.4" y="445.4" width="0.75" height="0.75" fill="#4F66BC" opacity="0.63"/>
<rect x="168.3" y="440.9" width="0.75" height="0.75" fill="#4F66BC" opacity="0.66"/>
<rect x="174.5" y="449.9" width="0.75" height="0.75" fill="#4F66BC" opacity="0.73"/>
<rect x="175.9" y="448.1" width="0.75" height="0.75" fill="#4F66BC" opacity="0.74"/>
<rect x="178.2" y="450.6" width="0.75" height="0.75" fill="#4F66BC" opacity="0.49"/>
<rect x="175.8" y="453.6" width="0.75" height="0.75" fill="#4F66BC" opacity="0.50"/>
<rect x="169.4" y="448.9" width="0.75" height="0.75" fill="#4F66BC" opacity="0.73"/>
<rect x="185.4" y="448.1" width="0.75" height="0.75" fill="#4F66BC" opacity="0.41"/>
<rect x="181.8" y="451.7" width="0.75" height="0.75" fill="#4F66BC" opacity="0.52"/>
<rect x="184.8" y="449.5" width="0.75" height="0.75" fill="#4F66BC" opacity="0.76"/>
<rect x="171.2" y="444.0" width="0.75" height="0.75" fill="#4F66BC" opacity="0.71"/>
<rect x="179.7" y="446.4" width="0.75" height="0.75" fill="#4F66BC" opacity="0.48"/>
<rect x="191.8" y="445.6" width="0.75" height="0.75" fill="#4F66BC" opacity="0.44"/>
<rect x="172.1" y="440.1" width="0.75" height="0.75" fill="#4F66BC" opacity="0.62"/>
<rect x="173.7" y="443.1" width="0.75" height="0.75" fill="#4F66BC" opacity="0.46"/>
<rect x="176.8" y="448.8" width="0.75" height="0.75" fill="#4F66BC" opacity="0.65"/>
<rect x="182.5" y="451.5" width="0.75" height="0.75" fill="#4F66BC" opacity="0.53"/>
<rect x="170.0" y="450.2" width="0.75" height="0.75" fill="#4F66BC" opacity="0.52"/>
<rect x="177.3" y="450.1" width="0.75" height="0.75" fill="#4F66BC" opacity="0.59"/>
<rect x="177.5" y="446.0" width="0.75" height="0.75" fill="#4F66BC" opacity="0.78"/>
<rect x="175.1" y="446.4" width="0.75" height="0.75" fill="#4F66BC" opacity="0.67"/>
<rect x="169.3" y="450.2" width="0.75" height="0.75" fill="#4F66BC" opacity="0.40"/>
<rect x="167.7" y="447.2" width="0.75" height="0.75" fill="#4F66BC" opacity="0.70"/>
<rect x="166.6" y="444.6" width="0.75" height="0.75" fill="#4F66BC" opacity="0.68"/>
<rect x="176.5" y="448.3" width="0.75" height="0.75" fill="#4F66BC" opacity="0.57"/>
<rect x="178.9" y="449.0" width="0.75" height="0.75" fill="#4F66BC" opacity="0.49"/>
<rect x="166.8" y="446.3" width="0.75" height="0.75" fill="#4F66BC" opacity="0.64"/>
<rect x="179.2" y="446.9" width="0.75" height="0.75" fill="#4F66BC" opacity="0.60"/>
<rect x="185.1" y="450.4" width="0.75" height="0.75" fill="#4F66BC" opacity="0.55"/>
<rect x="180.0" y="450.0" width="0.75" height="0.75" fill="#4F66BC" opacity="0.65"/>
<rect x="172.3" y="450.2" width="0.75" height="0.75" fill="#4F66BC" opacity="0.77"/>
<rect x="173.6" y="446.4" width="0.75" height="0.75" fill="#4F66BC" opacity="0.70"/>
<rect x="167.9" y="442.3" width="0.75" height="0.75" fill="#4F66BC" opacity="0.75"/>
<rect x="182.5" y="448.1" width="0.75" height="0.75" fill="#4F66BC" opacity="0.73"/>
<rect x="186.6" y="447.8" width="0.75" height="0.75" fill="#4F66BC" opacity="0.80"/>
<rect x="173.2" y="440.1" width="0.75" height="0.75" fill="#4F66BC" opacity="0.38"/>
<rect x="166.9" y="446.2" width="0.75" height="0.75" fill="#4F66BC" opacity="0.55"/>
<rect x="165.4" y="450.8" width="0.75" height="0.75" fill="#4F66BC" opacity="0.42"/>
<rect x="185.2" y="448.9" width="0.75" height="0.75" fill="#4F66BC" opacity="0.78"/>
<rect x="181.1" y="442.5" width="0.75" height="0.75" fill="#4F66BC" opacity="0.48"/>
<rect x="177.9" y="446.9" width="0.75" height="0.75" fill="#4F66BC" opacity="0.46"/>
<rect x="179.7" y="439.7" width="0.75" height="0.75" fill="#4F66BC" opacity="0.53"/>
<rect x="179.1" y="446.5" width="0.75" height="0.75" fill="#4F66BC" opacity="0.62"/>
<rect x="180.8" y="448.6" width="0.75" height="0.75" fill="#4F66BC" opacity="0.44"/>
<rect x="183.3" y="447.7" width="0.75" height="0.75" fill="#4F66BC" opacity="0.58"/>
<rect x="174.2" y="452.9" width="0.75" height="0.75" fill="#4F66BC" opacity="0.37"/>
<rect x="167.7" y="447.0" width="0.75" height="0.75" fill="#4F66BC" opacity="0.53"/>
<rect x="179.3" y="446.5" width="0.75" height="0.75" fill="#4F66BC" opacity="0.54"/>
<rect x="169.7" y="448.4" width="0.75" height="0.75" fill="#4F66BC" opacity="0.79"/>
<rect x="168.6" y="445.5" width="0.75" height="0.75" fill="#4F66BC" opacity="0.55"/>
<rect x="179.3" y="442.3" width="0.75" height="0.75" fill="#4F66BC" opacity="0.42"/>
<rect x="173.2" y="446.4" width="0.75" height="0.75" fill="#4F66BC" opacity="0.51"/>
<rect x="187.0" y="448.4" width="0.75" height="0.75" fill="#4F66BC" opacity="0.79"/>
<rect x="170.3" y="443.7" width="0.75" height="0.75" fill="#4F66BC" opacity="0.46"/>
<rect x="168.9" y="449.0" width="0.75" height="0.75" fill="#4F66BC" opacity="0.54"/>
<rect x="175.6" y="450.2" width="0.75" height="0.75" fill="#4F66BC" opacity="0.69"/>
<rect x="188.6" y="445.4" width="0.75" height="0.75" fill="#4F66BC" opacity="0.63"/>
<rect x="182.0" y="448.1" width="0.75" height="0.75" fill="#4F66BC" opacity="0.73"/>
<rect x="184.9" y="446.7" width="0.75" height="0.75" fill="#4F66BC" opacity="0.61"/>
<rect x="174.1" y="444.9" width="0.75" height="0.75" fill="#4F66BC" opacity="0.67"/>
<rect x="167.2" y="453.0" width="0.75" height="0.75" fill="#4F66BC" opacity="0.56"/>
<rect x="171.6" y="443.4" width="0.75" height="0.75" fill="#4F66BC" opacity="0.59"/>
<rect x="176.4" y="443.5" width="0.75" height="0.75" fill="#4F66BC" opacity="0.58"/>
<rect x="185.5" y="443.7" width="0.75" height="0.75" fill="#4F66BC" opacity="0.64"/>
<rect x="179.6" y="447.0" width="0.75" height="0.75" fill="#4F66BC" opacity="0.62"/>
<rect x="170.7" y="444.6" width="0.75" height="0.75" fill="#4F66BC" opacity="0.78"/>
<rect x="183.0" y="446.7" width="0.75" height="0.75" fill="#4F66BC" opacity="0.63"/>
<rect x="177.3" y="441.7" width="0.75" height="0.75" fill="#4F66BC" opacity="0.51"/>
<rect x="178.1" y="444.1" width="0.75" height="0.75" fill="#4F66BC" opacity="0.42"/>
<rect x="171.0" y="442.8" width="0.75" height="0.75" fill="#4F66BC" opacity="0.53"/>
<rect x="178.8" y="443.9" width="0.75" height="0.75" fill="#4F66BC" opacity="0.76"/>
<rect x="169.8" y="445.8" width="0.75" height="0.75" fill="#4F66BC" opacity="0.64"/>
<rect x="179.3" y="439.6" width="0.75" height="0.75" fill="#4F66BC" opacity="0.65"/>
<rect x="172.7" y="444.2" width="0.75" height="0.75" fill="#4F66BC" opacity="0.37"/>
<rect x="172.9" y="448.0" width="0.75" height="0.75" fill="#4F66BC" opacity="0.77"/>
<rect x="170.0" y="451.4" width="0.75" height="0.75" fill="#4F66BC" opacity="0.68"/>
<rect x="181.9" y="454.0" width="0.75" height="0.75" fill="#4F66BC" opacity="0.50"/>
<rect x="184.5" y="450.0" width="0.75" height="0.75" fill="#4F66BC" opacity="0.53"/>
<rect x="182.8" y="445.5" width="0.75" height="0.75" fill="#4F66BC" opacity="0.39"/>
<rect x="177.9" y="447.6" width="0.75" height="0.75" fill="#4F66BC" opacity="0.57"/>
<rect x="175.7" y="446.3" width="0.75" height="0.75" fill="#4F66BC" opacity="0.50"/>
<rect x="190.2" y="446.1" width="0.75" height="0.75" fill="#4F66BC" opacity="0.64"/>
<rect x="171.8" y="446.3" width="0.75" height="0.75" fill="#4F66BC" opacity="0.63"/>
<rect x="179.2" y="450.3" width="0.75" height="0.75" fill="#4F66BC" opacity="0.72"/>
<rect x="165.9" y="445.0" width="0.75" height="0.75" fill="#4F66BC" opacity="0.56"/>
<rect x="174.7" y="451.9" width="0.75" height="0.75" fill="#4F66BC" opacity="0.61"/>
<rect x="180.6" y="447.2" width="0.75" height="0.75" fill="#4F66BC" opacity="0.46"/>
<rect x="180.4" y="441.9" width="0.75" height="0.75" fill="#4F66BC" opacity="0.45"/>
<rect x="171.8" y="446.1" width="0.75" height="0.75" fill="#4F66BC" opacity="0.74"/>
<rect x="169.1" y="445.1" width="0.75" height="0.75" fill="#4F66BC" opacity="0.42"/>
<rect x="169.6" y="449.9" width="0.75" height="0.75" fill="#4F66BC" opacity="0.51"/>
<rect x="178.2" y="449.8" width="0.75" height="0.75" fill="#4F66BC" opacity="0.67"/>
<rect x="188.2" y="444.2" width="0.75" height="0.75" fill="#4F66BC" opacity="0.63"/>
<rect x="177.2" y="445.5" width="0.75" height="0.75" fill="#4F66BC" opacity="0.44"/>
<rect x="176.1" y="447.3" width="0.75" height="0.75" fill="#4F66BC" opacity="0.39"/>
<rect x="177.0" y="445.0" width="0.75" height="0.75" fill="#4F66BC" opacity="0.43"/>
<rect x="165.6" y="451.9" width="0.75" height="0.75" fill="#4F66BC" opacity="0.35"/>
<rect x="180.5" y="445.2" width="0.75" height="0.75" fill="#4F66BC" opacity="0.61"/>
<rect x="172.7" y="447.8" width="0.75" height="0.75" fill="#4F66BC" opacity="0.78"/>
<rect x="181.9" y="453.6" width="0.75" height="0.75" fill="#4F66BC" opacity="0.75"/>
<rect x="179.9" y="448.3" width="0.75" height="0.75" fill="#4F66BC" opacity="0.57"/>
<rect x="187.5" y="450.6" width="0.75" height="0.75" fill="#4F66BC" opacity="0.59"/>
<rect x="177.9" y="444.5" width="0.75" height="0.75" fill="#4F66BC" opacity="0.36"/>
<rect x="179.9" y="445.8" width="0.75" height="0.75" fill="#4F66BC" opacity="0.54"/>
<rect x="182.8" y="451.1" width="0.75" height="0.75" fill="#4F66BC" opacity="0.56"/>
<rect x="176.8" y="448.5" width="0.75" height="0.75" fill="#4F66BC" opacity="0.50"/>
<rect x="177.0" y="445.4" width="0.75" height="0.75" fill="#4F66BC" opacity="0.45"/>
<rect x="168.9" y="443.8" width="0.75" height="0.75" fill="#4F66BC" opacity="0.71"/>
<rect x="167.8" y="441.7" width="0.75" height="0.75" fill="#4F66BC" opacity="0.42"/>
<rect x="177.7" y="447.1" width="0.75" height="0.75" fill="#4F66BC" opacity="0.40"/>
<rect x="185.8" y="451.5" width="0.75" height="0.75" fill="#4F66BC" opacity="0.58"/>
<rect x="192.9" y="442.6" width="0.75" height="0.75" fill="#4F66BC" opacity="0.78"/>
<rect x="171.3" y="445.2" width="0.75" height="0.75" fill="#4F66BC" opacity="0.78"/>
<rect x="175.7" y="445.0" width="0.75" height="0.75" fill="#4F66BC" opacity="0.60"/>
<rect x="177.5" y="447.6" width="0.75" height="0.75" fill="#4F66BC" opacity="0.64"/>
<rect x="173.5" y="440.1" width="0.75" height="0.75" fill="#4F66BC" opacity="0.69"/>
<rect x="183.7" y="452.2" width="0.75" height="0.75" fill="#4F66BC" opacity="0.79"/>
<rect x="172.6" y="443.6" width="0.75" height="0.75" fill="#4F66BC" opacity="0.48"/>
<rect x="185.2" y="449.6" width="0.75" height="0.75" fill="#4F66BC" opacity="0.78"/>
<rect x="185.9" y="452.2" width="0.75" height="0.75" fill="#4F66BC" opacity="0.75"/>
<rect x="168.1" y="453.4" width="0.75" height="0.75" fill="#4F66BC" opacity="0.42"/>
<rect x="173.4" y="452.2" width="0.75" height="0.75" fill="#4F66BC" opacity="0.75"/>
<rect x="173.2" y="447.1" width="0.75" height="0.75" fill="#4F66BC" opacity="0.77"/>
<rect x="165.2" y="444.6" width="0.75" height="0.75" fill="#4F66BC" opacity="0.45"/>
<rect x="174.7" y="448.9" width="0.75" height="0.75" fill="#4F66BC" opacity="0.43"/>
<rect x="169.6" y="449.0" width="0.75" height="0.75" fill="#4F66BC" opacity="0.65"/>
<rect x="179.4" y="444.5" width="0.75" height="0.75" fill="#4F66BC" opacity="0.77"/>
<rect x="172.5" y="444.6" width="0.75" height="0.75" fill="#4F66BC" opacity="0.43"/>
<rect x="186.0" y="446.0" width="0.75" height="0.75" fill="#4F66BC" opacity="0.37"/>
<rect x="173.5" y="444.1" width="0.75" height="0.75" fill="#4F66BC" opacity="0.54"/>
<rect x="176.7" y="444.8" width="0.75" height="0.75" fill="#4F66BC" opacity="0.47"/>
<rect x="187.6" y="451.2" width="0.75" height="0.75" fill="#4F66BC" opacity="0.67"/>
<rect x="180.7" y="452.5" width="0.75" height="0.75" fill="#4F66BC" opacity="0.63"/>
<rect x="174.0" y="442.9" width="0.75" height="0.75" fill="#4F66BC" opacity="0.49"/>
<rect x="171.0" y="447.5" width="0.75" height="0.75" fill="#4F66BC" opacity="0.55"/>
<rect x="173.4" y="448.5" width="0.75" height="0.75" fill="#4F66BC" opacity="0.45"/>
<rect x="172.3" y="450.7" width="0.75" height="0.75" fill="#4F66BC" opacity="0.60"/>
<rect x="176.1" y="444.6" width="0.75" height="0.75" fill="#4F66BC" opacity="0.60"/>
<rect x="173.6" y="449.8" width="0.75" height="0.75" fill="#4F66BC" opacity="0.41"/>
<rect x="191.9" y="445.3" width="0.75" height="0.75" fill="#4F66BC" opacity="0.72"/>
<rect x="178.1" y="449.4" width="0.75" height="0.75" fill="#4F66BC" opacity="0.40"/>
<rect x="173.9" y="451.3" width="0.75" height="0.75" fill="#4F66BC" opacity="0.35"/>
<rect x="166.8" y="450.2" width="0.75" height="0.75" fill="#4F66BC" opacity="0.73"/>
<rect x="176.4" y="447.7" width="0.75" height="0.75" fill="#4F66BC" opacity="0.71"/>
<rect x="171.8" y="449.8" width="0.75" height="0.75" fill="#4F66BC" opacity="0.42"/>
<rect x="175.6" y="450.5" width="0.75" height="0.75" fill="#4F66BC" opacity="0.47"/>
<rect x="177.1" y="452.1" width="0.75" height="0.75" fill="#4F66BC" opacity="0.72"/>
<rect x="173.6" y="451.2" width="0.75" height="0.75" fill="#4F66BC" opacity="0.57"/>
<rect x="182.7" y="442.1" width="0.75" height="0.75" fill="#4F66BC" opacity="0.79"/>
<rect x="182.1" y="453.6" width="0.75" height="0.75" fill="#4F66BC" opacity="0.48"/>
<rect x="168.6" y="445.3" width="0.75" height="0.75" fill="#4F66BC" opacity="0.61"/>
<rect x="175.0" y="448.8" width="0.75" height="0.75" fill="#4F66BC" opacity="0.35"/>
<rect x="189.3" y="444.0" width="0.75" height="0.75" fill="#4F66BC" opacity="0.56"/>
<rect x="187.5" y="451.4" width="0.75" height="0.75" fill="#4F66BC" opacity="0.58"/>
<rect x="166.4" y="448.5" width="0.75" height="0.75" fill="#4F66BC" opacity="0.42"/>
<rect x="174.3" y="436.6" width="0.75" height="0.75" fill="#4F66BC" opacity="0.55"/>
<rect x="190.6" y="446.1" width="0.75" height="0.75" fill="#4F66BC" opacity="0.58"/>
<rect x="179.4" y="446.1" width="0.75" height="0.75" fill="#4F66BC" opacity="0.38"/>
<rect x="177.7" y="445.6" width="0.75" height="0.75" fill="#4F66BC" opacity="0.58"/>
<rect x="175.3" y="441.8" width="0.75" height="0.75" fill="#4F66BC" opacity="0.45"/>
<rect x="176.7" y="446.4" width="0.75" height="0.75" fill="#4F66BC" opacity="0.60"/>
<rect x="183.2" y="444.6" width="0.75" height="0.75" fill="#4F66BC" opacity="0.49"/>
<rect x="187.5" y="447.4" width="0.75" height="0.75" fill="#4F66BC" opacity="0.71"/>
<rect x="189.2" y="442.1" width="0.75" height="0.75" fill="#4F66BC" opacity="0.61"/>
<rect x="179.9" y="443.5" width="0.75" height="0.75" fill="#4F66BC" opacity="0.46"/>
<rect x="175.2" y="450.4" width="0.75" height="0.75" fill="#4F66BC" opacity="0.36"/>
<rect x="171.0" y="444.9" width="0.75" height="0.75" fill="#4F66BC" opacity="0.76"/>
<rect x="187.8" y="449.6" width="0.75" height="0.75" fill="#4F66BC" opacity="0.44"/>
<rect x="173.6" y="450.3" width="0.75" height="0.75" fill="#4F66BC" opacity="0.78"/>
<rect x="171.4" y="444.1" width="0.75" height="0.75" fill="#4F66BC" opacity="0.43"/>
<rect x="182.6" y="448.6" width="0.75" height="0.75" fill="#4F66BC" opacity="0.79"/>
<rect x="166.3" y="449.5" width="0.75" height="0.75" fill="#4F66BC" opacity="0.75"/>
<rect x="182.1" y="448.5" width="0.75" height="0.75" fill="#4F66BC" opacity="0.54"/>
<rect x="177.2" y="451.2" width="0.75" height="0.75" fill="#4F66BC" opacity="0.66"/>
<rect x="183.3" y="451.9" width="0.75" height="0.75" fill="#4F66BC" opacity="0.48"/>
<rect x="173.8" y="445.5" width="0.75" height="0.75" fill="#4F66BC" opacity="0.71"/>
<rect x="185.2" y="446.5" width="0.75" height="0.75" fill="#4F66BC" opacity="0.36"/>
<rect x="169.4" y="442.3" width="0.75" height="0.75" fill="#4F66BC" opacity="0.56"/>
<rect x="190.4" y="444.5" width="0.75" height="0.75" fill="#4F66BC" opacity="0.63"/>
<rect x="173.4" y="446.6" width="0.75" height="0.75" fill="#4F66BC" opacity="0.35"/>
<rect x="179.3" y="453.3" width="0.75" height="0.75" fill="#4F66BC" opacity="0.73"/>
<rect x="178.0" y="439.6" width="0.75" height="0.75" fill="#4F66BC" opacity="0.36"/>
<rect x="181.5" y="448.0" width="0.75" height="0.75" fill="#4F66BC" opacity="0.36"/>
<rect x="178.9" y="446.4" width="0.75" height="0.75" fill="#4F66BC" opacity="0.65"/>
<rect x="171.3" y="442.6" width="0.75" height="0.75" fill="#4F66BC" opacity="0.54"/>
<rect x="185.3" y="444.1" width="0.75" height="0.75" fill="#4F66BC" opacity="0.59"/>
<rect x="181.7" y="448.1" width="0.75" height="0.75" fill="#4F66BC" opacity="0.46"/>
<rect x="176.4" y="450.1" width="0.75" height="0.75" fill="#4F66BC" opacity="0.65"/>
<rect x="174.3" y="445.4" width="0.75" height="0.75" fill="#4F66BC" opacity="0.76"/>
<rect x="193.7" y="447.5" width="0.75" height="0.75" fill="#4F66BC" opacity="0.61"/>
<rect x="172.7" y="445.1" width="0.75" height="0.75" fill="#4F66BC" opacity="0.66"/>
<rect x="179.6" y="445.7" width="0.75" height="0.75" fill="#4F66BC" opacity="0.41"/>
<rect x="177.4" y="444.7" width="0.75" height="0.75" fill="#4F66BC" opacity="0.40"/>
<rect x="171.7" y="447.6" width="0.75" height="0.75" fill="#4F66BC" opacity="0.45"/>
<rect x="175.6" y="449.1" width="0.75" height="0.75" fill="#4F66BC" opacity="0.72"/>
<rect x="166.9" y="445.3" width="0.75" height="0.75" fill="#4F66BC" opacity="0.48"/>
<rect x="179.0" y="437.9" width="0.75" height="0.75" fill="#4F66BC" opacity="0.80"/>
<rect x="182.0" y="448.4" width="0.75" height="0.75" fill="#4F66BC" opacity="0.39"/>
<rect x="166.1" y="448.4" width="0.75" height="0.75" fill="#4F66BC" opacity="0.62"/>
<rect x="167.2" y="450.0" width="0.75" height="0.75" fill="#4F66BC" opacity="0.39"/>
<rect x="166.4" y="446.3" width="0.75" height="0.75" fill="#4F66BC" opacity="0.45"/>
<rect x="173.6" y="446.1" width="0.75" height="0.75" fill="#4F66BC" opacity="0.56"/>
<rect x="169.9" y="444.8" width="0.75" height="0.75" fill="#4F66BC" opacity="0.42"/>
<rect x="178.7" y="450.9" width="0.75" height="0.75" fill="#4F66BC" opacity="0.64"/>
<rect x="171.9" y="448.5" width="0.75" height="0.75" fill="#4F66BC" opacity="0.50"/>
<rect x="174.8" y="449.4" width="0.75" height="0.75" fill="#4F66BC" opacity="0.62"/>
<rect x="170.1" y="448.1" width="0.75" height="0.75" fill="#4F66BC" opacity="0.35"/>
<rect x="178.0" y="446.9" width="0.75" height="0.75" fill="#4F66BC" opacity="0.40"/>
<rect x="172.8" y="454.0" width="0.75" height="0.75" fill="#4F66BC" opacity="0.77"/>
<rect x="176.5" y="444.9" width="0.75" height="0.75" fill="#4F66BC" opacity="0.73"/>
<rect x="179.5" y="447.9" width="0.75" height="0.75" fill="#4F66BC" opacity="0.40"/>
<rect x="167.5" y="445.5" width="0.75" height="0.75" fill="#4F66BC" opacity="0.63"/>
<rect x="187.3" y="445.5" width="0.75" height="0.75" fill="#4F66BC" opacity="0.68"/>
<rect x="187.7" y="444.0" width="0.75" height="0.75" fill="#4F66BC" opacity="0.39"/>
<rect x="174.3" y="443.0" width="0.75" height="0.75" fill="#4F66BC" opacity="0.59"/>
<rect x="174.9" y="454.0" width="0.75" height="0.75" fill="#4F66BC" opacity="0.71"/>
<rect x="176.9" y="444.3" width="0.75" height="0.75" fill="#4F66BC" opacity="0.68"/>
<rect x="185.3" y="450.5" width="0.75" height="0.75" fill="#4F66BC" opacity="0.36"/>
<rect x="179.5" y="447.6" width="0.75" height="0.75" fill="#4F66BC" opacity="0.64"/>
<rect x="184.0" y="447.1" width="0.75" height="0.75" fill="#4F66BC" opacity="0.64"/>
<rect x="188.9" y="446.2" width="0.75" height="0.75" fill="#4F66BC" opacity="0.50"/>
<rect x="189.5" y="451.0" width="0.75" height="0.75" fill="#4F66BC" opacity="0.48"/>
<rect x="177.0" y="439.9" width="0.75" height="0.75" fill="#4F66BC" opacity="0.43"/>
<rect x="178.7" y="451.2" width="0.75" height="0.75" fill="#4F66BC" opacity="0.73"/>
<rect x="189.4" y="437.9" width="0.75" height="0.75" fill="#4F66BC" opacity="0.47"/>
<rect x="166.0" y="442.1" width="0.75" height="0.75" fill="#4F66BC" opacity="0.52"/>
<rect x="171.9" y="446.1" width="0.75" height="0.75" fill="#4F66BC" opacity="0.74"/>
<rect x="168.6" y="449.0" width="0.75" height="0.75" fill="#4F66BC" opacity="0.65"/>
<rect x="170.8" y="453.8" width="0.75" height="0.75" fill="#4F66BC" opacity="0.56"/>
<rect x="166.0" y="450.1" width="0.75" height="0.75" fill="#4F66BC" opacity="0.65"/>
<rect x="172.6" y="440.0" width="0.75" height="0.75" fill="#4F66BC" opacity="0.71"/>
<rect x="167.8" y="450.5" width="0.75" height="0.75" fill="#4F66BC" opacity="0.74"/>
<rect x="185.8" y="449.4" width="0.75" height="0.75" fill="#4F66BC" opacity="0.59"/>
<rect x="173.3" y="448.6" width="0.75" height="0.75" fill="#4F66BC" opacity="0.48"/>
<rect x="176.2" y="439.6" width="0.75" height="0.75" fill="#4F66BC" opacity="0.79"/>
<rect x="176.6" y="439.7" width="0.75" height="0.75" fill="#4F66BC" opacity="0.72"/>
<rect x="181.7" y="452.5" width="0.75" height="0.75" fill="#4F66BC" opacity="0.74"/>
<rect x="176.3" y="444.4" width="0.75" height="0.75" fill="#4F66BC" opacity="0.67"/>
<rect x="170.5" y="450.1" width="0.75" height="0.75" fill="#4F66BC" opacity="0.68"/>
<rect x="174.5" y="445.7" width="0.75" height="0.75" fill="#4F66BC" opacity="0.64"/>
<rect x="180.6" y="448.4" width="0.75" height="0.75" fill="#4F66BC" opacity="0.72"/>
<rect x="180.8" y="446.0" width="0.75" height="0.75" fill="#4F66BC" opacity="0.69"/>
<rect x="179.6" y="451.6" width="0.75" height="0.75" fill="#4F66BC" opacity="0.51"/>
<rect x="182.6" y="449.5" width="0.75" height="0.75" fill="#4F66BC" opacity="0.60"/>
<rect x="178.1" y="446.1" width="0.75" height="0.75" fill="#4F66BC" opacity="0.48"/>
<rect x="181.0" y="447.6" width="0.75" height="0.75" fill="#4F66BC" opacity="0.47"/>
<rect x="183.2" y="439.4" width="0.75" height="0.75" fill="#4F66BC" opacity="0.45"/>
<rect x="167.7" y="448.0" width="0.75" height="0.75" fill="#4F66BC" opacity="0.57"/>
<rect x="192.8" y="445.1" width="0.75" height="0.75" fill="#4F66BC" opacity="0.37"/>
<rect x="169.0" y="450.0" width="0.75" height="0.75" fill="#4F66BC" opacity="0.64"/>
<rect x="182.5" y="450.0" width="0.75" height="0.75" fill="#4F66BC" opacity="0.72"/>
<rect x="178.3" y="449.6" width="0.75" height="0.75" fill="#4F66BC" opacity="0.63"/>
<rect x="181.6" y="451.3" width="0.75" height="0.75" fill="#4F66BC" opacity="0.41"/>
<rect x="178.6" y="450.7" width="0.75" height="0.75" fill="#4F66BC" opacity="0.70"/>
<rect x="168.9" y="444.2" width="0.75" height="0.75" fill="#4F66BC" opacity="0.63"/>
<rect x="168.1" y="444.5" width="0.75" height="0.75" fill="#4F66BC" opacity="0.38"/>
<rect x="176.2" y="452.5" width="0.75" height="0.75" fill="#4F66BC" opacity="0.78"/>
<ellipse cx="176.2" cy="448.5" rx="7.7" ry="3.0" fill="url(#blu)"/>
<ellipse cx="177.2" cy="449.5" rx="3.5" ry="2.1" fill="url(#warm)" opacity="0.45"/>
<rect x="158.4" y="440.4" width="0.75" height="0.75" fill="#3E57B4" opacity="0.60"/>
<rect x="156.6" y="427.8" width="0.75" height="0.75" fill="#3E57B4" opacity="0.60"/>
<rect x="157.5" y="423.6" width="0.75" height="0.75" fill="#3E57B4" opacity="0.60"/>
<rect x="156.3" y="436.5" width="0.75" height="0.75" fill="#3E57B4" opacity="0.60"/>
<rect x="156.3" y="433.9" width="0.75" height="0.75" fill="#3E57B4" opacity="0.60"/>
<rect x="156.9" y="430.4" width="0.75" height="0.75" fill="#3E57B4" opacity="0.60"/>
<rect x="156.7" y="430.0" width="0.75" height="0.75" fill="#3E57B4" opacity="0.60"/>
<rect x="157.1" y="433.5" width="0.75" height="0.75" fill="#3E57B4" opacity="0.60"/>
<rect x="158.5" y="422.0" width="0.75" height="0.75" fill="#3E57B4" opacity="0.60"/>
<rect x="157.5" y="440.3" width="0.75" height="0.75" fill="#3E57B4" opacity="0.60"/>
<rect x="155.2" y="432.2" width="0.75" height="0.75" fill="#3E57B4" opacity="0.60"/>
<rect x="157.2" y="427.7" width="0.75" height="0.75" fill="#3E57B4" opacity="0.60"/>
<rect x="157.7" y="429.2" width="0.75" height="0.75" fill="#3E57B4" opacity="0.60"/>
<rect x="157.2" y="440.4" width="0.75" height="0.75" fill="#3E57B4" opacity="0.60"/>
<rect x="158.1" y="424.8" width="0.75" height="0.75" fill="#3E57B4" opacity="0.60"/>
<rect x="156.0" y="445.4" width="0.75" height="0.75" fill="#3E57B4" opacity="0.60"/>
<rect x="155.8" y="441.0" width="0.75" height="0.75" fill="#3E57B4" opacity="0.60"/>
<rect x="156.4" y="443.7" width="0.75" height="0.75" fill="#3E57B4" opacity="0.60"/>
<rect x="156.9" y="435.6" width="0.75" height="0.75" fill="#3E57B4" opacity="0.60"/>
<rect x="155.3" y="436.5" width="0.75" height="0.75" fill="#3E57B4" opacity="0.60"/>
<rect x="155.7" y="436.7" width="0.75" height="0.75" fill="#3E57B4" opacity="0.60"/>
<rect x="158.3" y="432.4" width="0.75" height="0.75" fill="#3E57B4" opacity="0.60"/>
<rect x="155.8" y="426.4" width="0.75" height="0.75" fill="#3E57B4" opacity="0.60"/>
<rect x="157.6" y="439.8" width="0.75" height="0.75" fill="#3E57B4" opacity="0.60"/>
<rect x="157.3" y="433.3" width="0.75" height="0.75" fill="#3E57B4" opacity="0.60"/>
<rect x="156.4" y="444.8" width="0.75" height="0.75" fill="#3E57B4" opacity="0.60"/>
<rect x="155.3" y="434.7" width="0.75" height="0.75" fill="#3E57B4" opacity="0.60"/>
<rect x="157.0" y="445.7" width="0.75" height="0.75" fill="#3E57B4" opacity="0.60"/>
<rect x="157.8" y="422.7" width="0.75" height="0.75" fill="#3E57B4" opacity="0.60"/>
<rect x="158.5" y="421.7" width="0.75" height="0.75" fill="#3E57B4" opacity="0.60"/>
<rect x="156.8" y="438.0" width="0.75" height="0.75" fill="#3E57B4" opacity="0.60"/>
<rect x="156.1" y="427.7" width="0.75" height="0.75" fill="#3E57B4" opacity="0.60"/>
<rect x="156.5" y="429.9" width="0.75" height="0.75" fill="#3E57B4" opacity="0.60"/>
<rect x="157.2" y="429.3" width="0.75" height="0.75" fill="#3E57B4" opacity="0.60"/>
<rect x="158.2" y="424.8" width="0.75" height="0.75" fill="#3E57B4" opacity="0.60"/>
<rect x="156.8" y="435.4" width="0.75" height="0.75" fill="#3E57B4" opacity="0.60"/>
<rect x="156.1" y="444.2" width="0.75" height="0.75" fill="#3E57B4" opacity="0.60"/>
<rect x="156.8" y="425.7" width="0.75" height="0.75" fill="#3E57B4" opacity="0.60"/>
<rect x="156.5" y="432.7" width="0.75" height="0.75" fill="#3E57B4" opacity="0.60"/>
<rect x="155.7" y="445.4" width="0.75" height="0.75" fill="#3E57B4" opacity="0.60"/>
<rect x="158.0" y="433.3" width="0.75" height="0.75" fill="#3E57B4" opacity="0.60"/>
<rect x="155.2" y="426.1" width="0.75" height="0.75" fill="#3E57B4" opacity="0.60"/>
<rect x="156.4" y="431.2" width="0.75" height="0.75" fill="#3E57B4" opacity="0.60"/>
<rect x="155.6" y="445.2" width="0.75" height="0.75" fill="#3E57B4" opacity="0.60"/>
<rect x="155.5" y="444.4" width="0.75" height="0.75" fill="#3E57B4" opacity="0.60"/>
<rect x="158.6" y="437.7" width="0.75" height="0.75" fill="#3E57B4" opacity="0.60"/>
<rect x="156.9" y="432.6" width="0.75" height="0.75" fill="#3E57B4" opacity="0.60"/>
<rect x="157.5" y="431.9" width="0.75" height="0.75" fill="#3E57B4" opacity="0.60"/>
<rect x="157.1" y="438.3" width="0.75" height="0.75" fill="#3E57B4" opacity="0.60"/>
<rect x="158.2" y="427.3" width="0.75" height="0.75" fill="#3E57B4" opacity="0.60"/>
<rect x="156.5" y="442.9" width="0.75" height="0.75" fill="#3E57B4" opacity="0.60"/>
<rect x="157.4" y="446.0" width="0.75" height="0.75" fill="#3E57B4" opacity="0.60"/>
<rect x="155.8" y="436.8" width="0.75" height="0.75" fill="#3E57B4" opacity="0.60"/>
<rect x="156.5" y="444.2" width="0.75" height="0.75" fill="#3E57B4" opacity="0.60"/>
<rect x="155.3" y="434.8" width="0.75" height="0.75" fill="#3E57B4" opacity="0.60"/>
<rect x="155.1" y="443.2" width="0.75" height="0.75" fill="#3E57B4" opacity="0.60"/>
<rect x="158.0" y="434.1" width="0.75" height="0.75" fill="#3E57B4" opacity="0.60"/>
<rect x="157.7" y="437.2" width="0.75" height="0.75" fill="#3E57B4" opacity="0.60"/>
<rect x="155.8" y="437.2" width="0.75" height="0.75" fill="#3E57B4" opacity="0.60"/>
<rect x="157.0" y="427.3" width="0.75" height="0.75" fill="#3E57B4" opacity="0.60"/>
<rect x="156.5" y="439.2" width="0.75" height="0.75" fill="#3E57B4" opacity="0.60"/>
<rect x="155.9" y="440.5" width="0.75" height="0.75" fill="#3E57B4" opacity="0.60"/>
<rect x="158.5" y="433.9" width="0.75" height="0.75" fill="#3E57B4" opacity="0.60"/>
<rect x="155.4" y="437.4" width="0.75" height="0.75" fill="#3E57B4" opacity="0.60"/>
<rect x="155.6" y="441.0" width="0.75" height="0.75" fill="#3E57B4" opacity="0.60"/>
<rect x="156.4" y="430.1" width="0.75" height="0.75" fill="#3E57B4" opacity="0.60"/>
<rect x="158.1" y="436.9" width="0.75" height="0.75" fill="#3E57B4" opacity="0.60"/>
<rect x="157.6" y="440.0" width="0.75" height="0.75" fill="#3E57B4" opacity="0.60"/>
<rect x="156.4" y="444.1" width="0.75" height="0.75" fill="#3E57B4" opacity="0.60"/>
<rect x="156.1" y="436.9" width="0.75" height="0.75" fill="#3E57B4" opacity="0.60"/>
<rect x="156.8" y="435.8" width="0.75" height="0.75" fill="#3E57B4" opacity="0.60"/>
<rect x="155.7" y="430.2" width="0.75" height="0.75" fill="#3E57B4" opacity="0.60"/>
<rect x="155.5" y="439.0" width="0.75" height="0.75" fill="#3E57B4" opacity="0.60"/>
<rect x="158.3" y="442.6" width="0.75" height="0.75" fill="#3E57B4" opacity="0.60"/>
<rect x="157.9" y="428.1" width="0.75" height="0.75" fill="#3E57B4" opacity="0.60"/>
<rect x="156.6" y="434.2" width="0.75" height="0.75" fill="#3E57B4" opacity="0.60"/>
<rect x="157.3" y="424.6" width="0.75" height="0.75" fill="#3E57B4" opacity="0.60"/>
<rect x="156.9" y="440.5" width="0.75" height="0.75" fill="#3E57B4" opacity="0.60"/>
<rect x="156.3" y="431.7" width="0.75" height="0.75" fill="#3E57B4" opacity="0.60"/>
<rect x="156.8" y="438.6" width="0.75" height="0.75" fill="#3E57B4" opacity="0.60"/>
<rect x="155.6" y="437.4" width="0.75" height="0.75" fill="#3E57B4" opacity="0.60"/>
<rect x="156.8" y="427.5" width="0.75" height="0.75" fill="#3E57B4" opacity="0.60"/>
<rect x="157.8" y="430.9" width="0.75" height="0.75" fill="#3E57B4" opacity="0.60"/>
<rect x="154.8" y="434.7" width="0.75" height="0.75" fill="#3E57B4" opacity="0.60"/>
<rect x="156.4" y="423.4" width="0.75" height="0.75" fill="#3E57B4" opacity="0.60"/>
<rect x="157.5" y="428.3" width="0.75" height="0.75" fill="#3E57B4" opacity="0.60"/>
<rect x="156.4" y="433.0" width="0.75" height="0.75" fill="#3E57B4" opacity="0.60"/>
<rect x="158.3" y="430.5" width="0.75" height="0.75" fill="#3E57B4" opacity="0.60"/>
<rect x="159.4" y="438.1" width="0.75" height="0.75" fill="#3E57B4" opacity="0.60"/>
<rect x="157.5" y="430.9" width="0.75" height="0.75" fill="#3E57B4" opacity="0.60"/>
<rect x="155.6" y="426.3" width="0.75" height="0.75" fill="#3E57B4" opacity="0.60"/>
<rect x="157.8" y="437.4" width="0.75" height="0.75" fill="#3E57B4" opacity="0.60"/>
<rect x="155.4" y="435.7" width="0.75" height="0.75" fill="#3E57B4" opacity="0.60"/>
<rect x="157.6" y="441.3" width="0.75" height="0.75" fill="#3E57B4" opacity="0.60"/>
<rect x="157.0" y="438.6" width="0.75" height="0.75" fill="#3E57B4" opacity="0.60"/>
<rect x="156.2" y="445.7" width="0.75" height="0.75" fill="#3E57B4" opacity="0.60"/>
<rect x="155.3" y="442.3" width="0.75" height="0.75" fill="#3E57B4" opacity="0.60"/>
<rect x="156.7" y="436.0" width="0.75" height="0.75" fill="#3E57B4" opacity="0.60"/>
<rect x="157.1" y="433.2" width="0.75" height="0.75" fill="#3E57B4" opacity="0.60"/>
<rect x="157.7" y="440.3" width="0.75" height="0.75" fill="#3E57B4" opacity="0.60"/>
<rect x="157.9" y="426.2" width="0.75" height="0.75" fill="#3E57B4" opacity="0.60"/>
<rect x="158.2" y="428.3" width="0.75" height="0.75" fill="#3E57B4" opacity="0.60"/>
<rect x="157.2" y="432.2" width="0.75" height="0.75" fill="#3E57B4" opacity="0.60"/>
<rect x="157.0" y="431.9" width="0.75" height="0.75" fill="#3E57B4" opacity="0.60"/>
<rect x="158.0" y="434.0" width="0.75" height="0.75" fill="#3E57B4" opacity="0.60"/>
<rect x="157.4" y="430.5" width="0.75" height="0.75" fill="#3E57B4" opacity="0.60"/>
<rect x="157.0" y="427.6" width="0.75" height="0.75" fill="#3E57B4" opacity="0.60"/>
<rect x="157.4" y="424.2" width="0.75" height="0.75" fill="#3E57B4" opacity="0.60"/>
<rect x="156.6" y="439.6" width="0.75" height="0.75" fill="#3E57B4" opacity="0.60"/>
<rect x="158.7" y="431.3" width="0.75" height="0.75" fill="#3E57B4" opacity="0.60"/>
<rect x="155.7" y="420.1" width="0.75" height="0.75" fill="#4A62BA" opacity="0.60"/>
<rect x="156.9" y="414.8" width="0.75" height="0.75" fill="#4A62BA" opacity="0.60"/>
<rect x="154.9" y="410.9" width="0.75" height="0.75" fill="#4A62BA" opacity="0.60"/>
<rect x="153.8" y="414.1" width="0.75" height="0.75" fill="#4A62BA" opacity="0.60"/>
<rect x="155.0" y="410.3" width="0.75" height="0.75" fill="#4A62BA" opacity="0.60"/>
<rect x="158.9" y="416.5" width="0.75" height="0.75" fill="#4A62BA" opacity="0.60"/>
<rect x="155.7" y="418.8" width="0.75" height="0.75" fill="#4A62BA" opacity="0.60"/>
<rect x="153.2" y="415.7" width="0.75" height="0.75" fill="#4A62BA" opacity="0.60"/>
<rect x="155.6" y="413.0" width="0.75" height="0.75" fill="#4A62BA" opacity="0.60"/>
<rect x="153.7" y="418.8" width="0.75" height="0.75" fill="#4A62BA" opacity="0.60"/>
<rect x="154.3" y="415.6" width="0.75" height="0.75" fill="#4A62BA" opacity="0.60"/>
<rect x="156.9" y="404.9" width="0.75" height="0.75" fill="#4A62BA" opacity="0.60"/>
<rect x="154.2" y="411.0" width="0.75" height="0.75" fill="#4A62BA" opacity="0.60"/>
<rect x="156.8" y="418.8" width="0.75" height="0.75" fill="#4A62BA" opacity="0.60"/>
<rect x="155.9" y="411.5" width="0.75" height="0.75" fill="#4A62BA" opacity="0.60"/>
<rect x="153.8" y="416.7" width="0.75" height="0.75" fill="#4A62BA" opacity="0.60"/>
<rect x="154.7" y="420.3" width="0.75" height="0.75" fill="#4A62BA" opacity="0.60"/>
<rect x="154.4" y="423.8" width="0.75" height="0.75" fill="#4A62BA" opacity="0.60"/>
<rect x="156.4" y="412.0" width="0.75" height="0.75" fill="#4A62BA" opacity="0.60"/>
<rect x="156.0" y="415.4" width="0.75" height="0.75" fill="#4A62BA" opacity="0.60"/>
<rect x="156.3" y="411.1" width="0.75" height="0.75" fill="#4A62BA" opacity="0.60"/>
<rect x="156.0" y="415.9" width="0.75" height="0.75" fill="#4A62BA" opacity="0.60"/>
<rect x="155.8" y="412.3" width="0.75" height="0.75" fill="#4A62BA" opacity="0.60"/>
<rect x="157.1" y="413.2" width="0.75" height="0.75" fill="#4A62BA" opacity="0.60"/>
<rect x="154.4" y="412.3" width="0.75" height="0.75" fill="#4A62BA" opacity="0.60"/>
<rect x="155.0" y="413.1" width="0.75" height="0.75" fill="#4A62BA" opacity="0.60"/>
<rect x="155.5" y="417.1" width="0.75" height="0.75" fill="#4A62BA" opacity="0.60"/>
<rect x="157.7" y="417.0" width="0.75" height="0.75" fill="#4A62BA" opacity="0.60"/>
<rect x="155.8" y="415.0" width="0.75" height="0.75" fill="#4A62BA" opacity="0.60"/>
<rect x="156.7" y="412.7" width="0.75" height="0.75" fill="#4A62BA" opacity="0.60"/>
<rect x="155.8" y="415.9" width="0.75" height="0.75" fill="#4A62BA" opacity="0.60"/>
<rect x="155.2" y="416.4" width="0.75" height="0.75" fill="#4A62BA" opacity="0.60"/>
<rect x="153.6" y="415.1" width="0.75" height="0.75" fill="#4A62BA" opacity="0.60"/>
<rect x="157.5" y="422.3" width="0.75" height="0.75" fill="#4A62BA" opacity="0.60"/>
<rect x="153.0" y="411.5" width="0.75" height="0.75" fill="#4A62BA" opacity="0.60"/>
<rect x="155.8" y="421.5" width="0.75" height="0.75" fill="#4A62BA" opacity="0.60"/>
<rect x="154.6" y="408.4" width="0.75" height="0.75" fill="#4A62BA" opacity="0.60"/>
<rect x="157.3" y="424.2" width="0.75" height="0.75" fill="#4A62BA" opacity="0.60"/>
<rect x="154.9" y="415.5" width="0.75" height="0.75" fill="#4A62BA" opacity="0.60"/>
<rect x="157.0" y="413.4" width="0.75" height="0.75" fill="#4A62BA" opacity="0.60"/>
<rect x="156.6" y="413.3" width="0.75" height="0.75" fill="#4A62BA" opacity="0.60"/>
<rect x="157.5" y="417.2" width="0.75" height="0.75" fill="#4A62BA" opacity="0.60"/>
<rect x="153.0" y="413.2" width="0.75" height="0.75" fill="#4A62BA" opacity="0.60"/>
<rect x="154.5" y="412.0" width="0.75" height="0.75" fill="#4A62BA" opacity="0.60"/>
<rect x="155.7" y="410.1" width="0.75" height="0.75" fill="#4A62BA" opacity="0.60"/>
<rect x="157.1" y="419.3" width="0.75" height="0.75" fill="#4A62BA" opacity="0.60"/>
<rect x="154.2" y="419.1" width="0.75" height="0.75" fill="#4A62BA" opacity="0.60"/>
<rect x="156.3" y="417.6" width="0.75" height="0.75" fill="#4A62BA" opacity="0.60"/>
<rect x="155.4" y="421.0" width="0.75" height="0.75" fill="#4A62BA" opacity="0.60"/>
<rect x="157.4" y="415.6" width="0.75" height="0.75" fill="#4A62BA" opacity="0.60"/>
<rect x="152.6" y="454.0" width="0.75" height="0.75" fill="#4A62BA" opacity="0.60"/>
<rect x="157.2" y="453.4" width="0.75" height="0.75" fill="#4A62BA" opacity="0.60"/>
<rect x="156.3" y="450.4" width="0.75" height="0.75" fill="#4A62BA" opacity="0.60"/>
<rect x="156.9" y="451.6" width="0.75" height="0.75" fill="#4A62BA" opacity="0.60"/>
<rect x="154.1" y="452.0" width="0.75" height="0.75" fill="#4A62BA" opacity="0.60"/>
<rect x="155.5" y="452.6" width="0.75" height="0.75" fill="#4A62BA" opacity="0.60"/>
<rect x="156.0" y="449.6" width="0.75" height="0.75" fill="#4A62BA" opacity="0.60"/>
<rect x="156.7" y="450.4" width="0.75" height="0.75" fill="#4A62BA" opacity="0.60"/>
<rect x="157.7" y="451.1" width="0.75" height="0.75" fill="#4A62BA" opacity="0.60"/>
<rect x="155.4" y="454.0" width="0.75" height="0.75" fill="#4A62BA" opacity="0.60"/>
<rect x="157.6" y="449.5" width="0.75" height="0.75" fill="#4A62BA" opacity="0.60"/>
<rect x="153.5" y="450.0" width="0.75" height="0.75" fill="#4A62BA" opacity="0.60"/>
<rect x="156.6" y="452.2" width="0.75" height="0.75" fill="#4A62BA" opacity="0.60"/>
<rect x="157.6" y="452.1" width="0.75" height="0.75" fill="#4A62BA" opacity="0.60"/>
<rect x="155.3" y="452.0" width="0.75" height="0.75" fill="#4A62BA" opacity="0.60"/>
<rect x="156.6" y="450.1" width="0.75" height="0.75" fill="#4A62BA" opacity="0.60"/>
<rect x="155.1" y="447.7" width="0.75" height="0.75" fill="#4A62BA" opacity="0.60"/>
<rect x="155.9" y="449.2" width="0.75" height="0.75" fill="#4A62BA" opacity="0.60"/>
<rect x="154.2" y="450.4" width="0.75" height="0.75" fill="#4A62BA" opacity="0.60"/>
<ellipse cx="155.6" cy="415.0" rx="3.2" ry="8.8" fill="url(#blu)"/>
<ellipse cx="155.6" cy="415.0" rx="1.9" ry="6.8" fill="url(#warm)"/>
<ellipse cx="155.6" cy="452.0" rx="3.1" ry="3.9" fill="url(#blu)"/>
<ellipse cx="155.6" cy="452.0" rx="1.9" ry="2.4" fill="url(#hot)"/>
<path d="M143.1,455.0 L143.1,400.3 L164.4,400.3 L164.4,455.0 M143.1,429.6 L189.8,429.6 L189.8,455.0" stroke="#3a3a3a" stroke-width="0.8" fill="none"/>
<line x1="141.20" y1="389.00" x2="141.20" y2="455.00" stroke="#666" stroke-width="0.8"/>
<line x1="141.20" y1="455.00" x2="206.50" y2="455.00" stroke="#666" stroke-width="0.8"/>
<rect x="139.90" y="438.30" width="2.00" height="2.60" fill="#000"/>
<rect x="154.20" y="454.80" width="3.40" height="1.90" fill="#000"/>
<line x1="139.90" y1="395.00" x2="141.20" y2="395.00" stroke="#555" stroke-width="0.6"/>
<line x1="139.90" y1="411.60" x2="141.20" y2="411.60" stroke="#555" stroke-width="0.6"/>
<line x1="139.90" y1="429.00" x2="141.20" y2="429.00" stroke="#555" stroke-width="0.6"/>
<line x1="139.90" y1="439.50" x2="141.20" y2="439.50" stroke="#555" stroke-width="0.6"/>
<line x1="139.90" y1="450.20" x2="141.20" y2="450.20" stroke="#555" stroke-width="0.6"/>
<line x1="144.40" y1="455.00" x2="144.40" y2="456.30" stroke="#555" stroke-width="0.6"/>
<line x1="157.40" y1="455.00" x2="157.40" y2="456.30" stroke="#555" stroke-width="0.6"/>
<line x1="165.00" y1="455.00" x2="165.00" y2="456.30" stroke="#555" stroke-width="0.6"/>
<line x1="184.40" y1="455.00" x2="184.40" y2="456.30" stroke="#555" stroke-width="0.6"/>
<line x1="200.70" y1="455.00" x2="200.70" y2="456.30" stroke="#555" stroke-width="0.6"/>
<text x="138.60" y="397.70" font-size="8.2" stroke="#000" stroke-width="0.12" text-anchor="end" textLength="9.80" lengthAdjust="spacingAndGlyphs">10<tspan font-size="4.8" dy="-3.2">5</tspan></text>
<text x="138.60" y="414.30" font-size="8.2" stroke="#000" stroke-width="0.12" text-anchor="end" textLength="9.80" lengthAdjust="spacingAndGlyphs">10<tspan font-size="4.8" dy="-3.2">4</tspan></text>
<text x="138.60" y="431.70" font-size="8.2" stroke="#000" stroke-width="0.12" text-anchor="end" textLength="9.80" lengthAdjust="spacingAndGlyphs">10<tspan font-size="4.8" dy="-3.2">3</tspan></text>
<text x="138.60" y="442.30" font-size="8.2" stroke="#000" stroke-width="0.12" text-anchor="end" textLength="3.90" lengthAdjust="spacingAndGlyphs">0</text>
<text x="138.60" y="453.00" font-size="8.2" stroke="#000" stroke-width="0.12" text-anchor="end" textLength="12.20" lengthAdjust="spacingAndGlyphs">-10<tspan font-size="4.8" dy="-3.2">3</tspan></text>
<text x="139.10" y="464.00" font-size="8.2" stroke="#000" stroke-width="0.12" textLength="10.60" lengthAdjust="spacingAndGlyphs">-10<tspan font-size="4.8" dy="-3.2">3</tspan></text>
<text x="156.40" y="464.00" font-size="8.2" stroke="#000" stroke-width="0.12" textLength="3.00" lengthAdjust="spacingAndGlyphs">0</text>
<text x="161.00" y="464.00" font-size="8.2" stroke="#000" stroke-width="0.12" textLength="8.60" lengthAdjust="spacingAndGlyphs">10<tspan font-size="4.8" dy="-3.2">3</tspan></text>
<text x="181.10" y="464.00" font-size="8.2" stroke="#000" stroke-width="0.12" textLength="8.60" lengthAdjust="spacingAndGlyphs">10<tspan font-size="4.8" dy="-3.2">4</tspan></text>
<text x="197.00" y="464.00" font-size="8.2" stroke="#000" stroke-width="0.12" textLength="8.40" lengthAdjust="spacingAndGlyphs">10<tspan font-size="4.8" dy="-3.2">5</tspan></text>
<text x="144.20" y="399.30" font-size="7.4" stroke="#B3123F" stroke-width="0.12" fill="#B3123F" textLength="19.80" lengthAdjust="spacingAndGlyphs">B cells</text>
<text x="144.20" y="407.60" font-size="7.4" stroke="#B3123F" stroke-width="0.12" fill="#B3123F" textLength="19.70" lengthAdjust="spacingAndGlyphs">32.5%</text>
<text x="165.20" y="427.90" font-size="7.4" stroke="#B3123F" stroke-width="0.12" fill="#B3123F" textLength="37.00" lengthAdjust="spacingAndGlyphs">Myeloid cells</text>
<text x="165.20" y="436.00" font-size="7.4" stroke="#B3123F" stroke-width="0.12" fill="#B3123F" textLength="20.20" lengthAdjust="spacingAndGlyphs">35.9%</text>
<text x="166.20" y="397.60" font-size="3.3" fill="#222" textLength="8.80" lengthAdjust="spacingAndGlyphs">B cells</text>
<text x="168.80" y="401.70" font-size="3.3" fill="#222" textLength="4.40" lengthAdjust="spacingAndGlyphs">32.5</text>
<text x="186.60" y="445.00" font-size="3.3" fill="#222" textLength="17.60" lengthAdjust="spacingAndGlyphs">Myeloid cells</text>
<text x="192.60" y="449.10" font-size="3.3" fill="#222" textLength="4.40" lengthAdjust="spacingAndGlyphs">35.9</text>
<text x="147.40" y="447.50" font-size="3.3" fill="#222" textLength="4.40" lengthAdjust="spacingAndGlyphs">neg</text>
<text x="147.10" y="450.90" font-size="3.3" fill="#222" textLength="4.80" lengthAdjust="spacingAndGlyphs">21.5</text>
<text x="261.40" y="384.30" font-size="10.4" stroke="#000" stroke-width="0.12" font-style="italic" textLength="8.00" lengthAdjust="spacingAndGlyphs">M</text>
<path d="M232.9,389.0 L298.2,389.0 L298.2,455.0" stroke="#c4c4c4" stroke-width="0.7" fill="none"/>
<rect x="245.8" y="427.5" width="0.6" height="0.6" fill="#8796D6" opacity="0.45"/>
<rect x="251.9" y="430.8" width="0.6" height="0.6" fill="#8796D6" opacity="0.45"/>
<rect x="263.7" y="400.7" width="0.6" height="0.6" fill="#8796D6" opacity="0.45"/>
<rect x="235.5" y="443.9" width="0.6" height="0.6" fill="#8796D6" opacity="0.45"/>
<rect x="246.8" y="410.1" width="0.6" height="0.6" fill="#8796D6" opacity="0.45"/>
<rect x="280.7" y="423.3" width="0.6" height="0.6" fill="#8796D6" opacity="0.45"/>
<rect x="273.4" y="423.7" width="0.6" height="0.6" fill="#8796D6" opacity="0.45"/>
<rect x="264.3" y="405.4" width="0.6" height="0.6" fill="#8796D6" opacity="0.45"/>
<rect x="264.1" y="445.6" width="0.6" height="0.6" fill="#8796D6" opacity="0.45"/>
<rect x="259.0" y="438.5" width="0.6" height="0.6" fill="#8796D6" opacity="0.45"/>
<rect x="265.8" y="400.6" width="0.6" height="0.6" fill="#8796D6" opacity="0.45"/>
<rect x="269.8" y="430.1" width="0.6" height="0.6" fill="#8796D6" opacity="0.45"/>
<rect x="248.8" y="398.7" width="0.6" height="0.6" fill="#8796D6" opacity="0.45"/>
<rect x="274.7" y="423.5" width="0.6" height="0.6" fill="#8796D6" opacity="0.45"/>
<rect x="268.0" y="446.2" width="0.6" height="0.6" fill="#8796D6" opacity="0.45"/>
<rect x="267.7" y="448.6" width="0.6" height="0.6" fill="#8796D6" opacity="0.45"/>
<rect x="253.1" y="441.9" width="0.6" height="0.6" fill="#8796D6" opacity="0.45"/>
<rect x="255.4" y="449.4" width="0.6" height="0.6" fill="#8796D6" opacity="0.45"/>
<rect x="275.3" y="402.5" width="0.6" height="0.6" fill="#8796D6" opacity="0.45"/>
<rect x="241.2" y="409.2" width="0.6" height="0.6" fill="#8796D6" opacity="0.45"/>
<rect x="279.3" y="421.4" width="0.6" height="0.6" fill="#8796D6" opacity="0.45"/>
<rect x="263.7" y="413.9" width="0.6" height="0.6" fill="#8796D6" opacity="0.45"/>
<rect x="258.2" y="418.6" width="0.6" height="0.6" fill="#8796D6" opacity="0.45"/>
<rect x="251.0" y="429.8" width="0.6" height="0.6" fill="#8796D6" opacity="0.45"/>
<rect x="261.8" y="447.6" width="0.6" height="0.6" fill="#8796D6" opacity="0.45"/>
<rect x="266.3" y="449.0" width="0.6" height="0.6" fill="#8796D6" opacity="0.45"/>
<rect x="274.3" y="452.5" width="0.6" height="0.6" fill="#8796D6" opacity="0.45"/>
<rect x="265.8" y="406.1" width="0.6" height="0.6" fill="#8796D6" opacity="0.45"/>
<rect x="274.5" y="451.0" width="0.6" height="0.6" fill="#8796D6" opacity="0.45"/>
<rect x="276.5" y="428.9" width="0.6" height="0.6" fill="#8796D6" opacity="0.45"/>
<rect x="266.8" y="443.0" width="0.75" height="0.75" fill="#4F66BC" opacity="0.72"/>
<rect x="262.8" y="444.4" width="0.75" height="0.75" fill="#4F66BC" opacity="0.38"/>
<rect x="280.8" y="435.2" width="0.75" height="0.75" fill="#4F66BC" opacity="0.39"/>
<rect x="270.1" y="441.6" width="0.75" height="0.75" fill="#4F66BC" opacity="0.42"/>
<rect x="264.6" y="453.4" width="0.75" height="0.75" fill="#4F66BC" opacity="0.74"/>
<rect x="277.2" y="447.7" width="0.75" height="0.75" fill="#4F66BC" opacity="0.37"/>
<rect x="266.7" y="442.0" width="0.75" height="0.75" fill="#4F66BC" opacity="0.75"/>
<rect x="276.1" y="445.4" width="0.75" height="0.75" fill="#4F66BC" opacity="0.80"/>
<rect x="266.9" y="447.7" width="0.75" height="0.75" fill="#4F66BC" opacity="0.62"/>
<rect x="272.5" y="446.6" width="0.75" height="0.75" fill="#4F66BC" opacity="0.53"/>
<rect x="264.8" y="444.3" width="0.75" height="0.75" fill="#4F66BC" opacity="0.37"/>
<rect x="272.0" y="443.1" width="0.75" height="0.75" fill="#4F66BC" opacity="0.78"/>
<rect x="273.3" y="443.3" width="0.75" height="0.75" fill="#4F66BC" opacity="0.56"/>
<rect x="257.9" y="445.2" width="0.75" height="0.75" fill="#4F66BC" opacity="0.62"/>
<rect x="258.8" y="443.7" width="0.75" height="0.75" fill="#4F66BC" opacity="0.77"/>
<rect x="260.5" y="445.8" width="0.75" height="0.75" fill="#4F66BC" opacity="0.67"/>
<rect x="268.4" y="449.8" width="0.75" height="0.75" fill="#4F66BC" opacity="0.79"/>
<rect x="259.2" y="445.2" width="0.75" height="0.75" fill="#4F66BC" opacity="0.36"/>
<rect x="260.0" y="449.0" width="0.75" height="0.75" fill="#4F66BC" opacity="0.36"/>
<rect x="260.5" y="441.8" width="0.75" height="0.75" fill="#4F66BC" opacity="0.38"/>
<rect x="262.4" y="442.4" width="0.75" height="0.75" fill="#4F66BC" opacity="0.66"/>
<rect x="261.3" y="451.6" width="0.75" height="0.75" fill="#4F66BC" opacity="0.68"/>
<rect x="270.4" y="446.2" width="0.75" height="0.75" fill="#4F66BC" opacity="0.65"/>
<rect x="273.1" y="445.2" width="0.75" height="0.75" fill="#4F66BC" opacity="0.56"/>
<rect x="262.8" y="443.8" width="0.75" height="0.75" fill="#4F66BC" opacity="0.51"/>
<rect x="265.3" y="450.0" width="0.75" height="0.75" fill="#4F66BC" opacity="0.62"/>
<rect x="265.8" y="450.2" width="0.75" height="0.75" fill="#4F66BC" opacity="0.70"/>
<rect x="276.9" y="447.0" width="0.75" height="0.75" fill="#4F66BC" opacity="0.68"/>
<rect x="266.1" y="449.0" width="0.75" height="0.75" fill="#4F66BC" opacity="0.71"/>
<rect x="268.2" y="448.9" width="0.75" height="0.75" fill="#4F66BC" opacity="0.55"/>
<rect x="266.9" y="444.0" width="0.75" height="0.75" fill="#4F66BC" opacity="0.49"/>
<rect x="261.2" y="453.4" width="0.75" height="0.75" fill="#4F66BC" opacity="0.55"/>
<rect x="270.5" y="443.8" width="0.75" height="0.75" fill="#4F66BC" opacity="0.50"/>
<rect x="259.4" y="438.4" width="0.75" height="0.75" fill="#4F66BC" opacity="0.55"/>
<rect x="268.5" y="448.3" width="0.75" height="0.75" fill="#4F66BC" opacity="0.59"/>
<rect x="272.5" y="453.6" width="0.75" height="0.75" fill="#4F66BC" opacity="0.73"/>
<rect x="270.2" y="449.3" width="0.75" height="0.75" fill="#4F66BC" opacity="0.71"/>
<rect x="259.9" y="439.7" width="0.75" height="0.75" fill="#4F66BC" opacity="0.51"/>
<rect x="271.9" y="448.7" width="0.75" height="0.75" fill="#4F66BC" opacity="0.71"/>
<rect x="267.0" y="450.1" width="0.75" height="0.75" fill="#4F66BC" opacity="0.54"/>
<rect x="261.6" y="448.2" width="0.75" height="0.75" fill="#4F66BC" opacity="0.76"/>
<rect x="268.3" y="446.4" width="0.75" height="0.75" fill="#4F66BC" opacity="0.77"/>
<rect x="282.9" y="436.9" width="0.75" height="0.75" fill="#4F66BC" opacity="0.55"/>
<rect x="283.2" y="442.8" width="0.75" height="0.75" fill="#4F66BC" opacity="0.45"/>
<rect x="267.5" y="437.4" width="0.75" height="0.75" fill="#4F66BC" opacity="0.65"/>
<rect x="262.2" y="445.6" width="0.75" height="0.75" fill="#4F66BC" opacity="0.50"/>
<rect x="268.3" y="447.7" width="0.75" height="0.75" fill="#4F66BC" opacity="0.61"/>
<rect x="265.0" y="454.0" width="0.75" height="0.75" fill="#4F66BC" opacity="0.37"/>
<rect x="276.8" y="442.1" width="0.75" height="0.75" fill="#4F66BC" opacity="0.77"/>
<rect x="279.9" y="440.2" width="0.75" height="0.75" fill="#4F66BC" opacity="0.61"/>
<rect x="279.4" y="446.6" width="0.75" height="0.75" fill="#4F66BC" opacity="0.43"/>
<rect x="264.7" y="452.3" width="0.75" height="0.75" fill="#4F66BC" opacity="0.59"/>
<rect x="263.0" y="443.3" width="0.75" height="0.75" fill="#4F66BC" opacity="0.46"/>
<rect x="273.0" y="442.1" width="0.75" height="0.75" fill="#4F66BC" opacity="0.70"/>
<rect x="265.1" y="448.4" width="0.75" height="0.75" fill="#4F66BC" opacity="0.59"/>
<rect x="269.6" y="443.5" width="0.75" height="0.75" fill="#4F66BC" opacity="0.71"/>
<rect x="279.1" y="442.2" width="0.75" height="0.75" fill="#4F66BC" opacity="0.72"/>
<rect x="277.7" y="446.3" width="0.75" height="0.75" fill="#4F66BC" opacity="0.74"/>
<rect x="273.2" y="447.1" width="0.75" height="0.75" fill="#4F66BC" opacity="0.47"/>
<rect x="260.7" y="445.2" width="0.75" height="0.75" fill="#4F66BC" opacity="0.56"/>
<rect x="268.0" y="445.7" width="0.75" height="0.75" fill="#4F66BC" opacity="0.37"/>
<rect x="270.4" y="447.7" width="0.75" height="0.75" fill="#4F66BC" opacity="0.38"/>
<rect x="281.5" y="444.6" width="0.75" height="0.75" fill="#4F66BC" opacity="0.39"/>
<rect x="261.8" y="445.9" width="0.75" height="0.75" fill="#4F66BC" opacity="0.49"/>
<rect x="261.9" y="451.2" width="0.75" height="0.75" fill="#4F66BC" opacity="0.61"/>
<rect x="265.0" y="448.2" width="0.75" height="0.75" fill="#4F66BC" opacity="0.50"/>
<rect x="274.3" y="450.0" width="0.75" height="0.75" fill="#4F66BC" opacity="0.67"/>
<rect x="265.8" y="447.3" width="0.75" height="0.75" fill="#4F66BC" opacity="0.43"/>
<rect x="261.2" y="450.4" width="0.75" height="0.75" fill="#4F66BC" opacity="0.70"/>
<rect x="258.7" y="451.5" width="0.75" height="0.75" fill="#4F66BC" opacity="0.63"/>
<rect x="261.8" y="447.8" width="0.75" height="0.75" fill="#4F66BC" opacity="0.57"/>
<rect x="265.8" y="441.5" width="0.75" height="0.75" fill="#4F66BC" opacity="0.66"/>
<rect x="262.8" y="446.8" width="0.75" height="0.75" fill="#4F66BC" opacity="0.59"/>
<rect x="267.0" y="444.4" width="0.75" height="0.75" fill="#4F66BC" opacity="0.54"/>
<rect x="274.1" y="444.3" width="0.75" height="0.75" fill="#4F66BC" opacity="0.75"/>
<rect x="269.3" y="442.6" width="0.75" height="0.75" fill="#4F66BC" opacity="0.56"/>
<rect x="277.1" y="451.8" width="0.75" height="0.75" fill="#4F66BC" opacity="0.65"/>
<rect x="277.3" y="440.8" width="0.75" height="0.75" fill="#4F66BC" opacity="0.65"/>
<rect x="267.0" y="440.2" width="0.75" height="0.75" fill="#4F66BC" opacity="0.40"/>
<rect x="267.3" y="445.8" width="0.75" height="0.75" fill="#4F66BC" opacity="0.41"/>
<rect x="268.2" y="444.7" width="0.75" height="0.75" fill="#4F66BC" opacity="0.39"/>
<rect x="279.6" y="451.4" width="0.75" height="0.75" fill="#4F66BC" opacity="0.43"/>
<rect x="281.2" y="447.3" width="0.75" height="0.75" fill="#4F66BC" opacity="0.40"/>
<rect x="273.7" y="440.4" width="0.75" height="0.75" fill="#4F66BC" opacity="0.73"/>
<rect x="276.7" y="444.3" width="0.75" height="0.75" fill="#4F66BC" opacity="0.71"/>
<rect x="279.5" y="447.7" width="0.75" height="0.75" fill="#4F66BC" opacity="0.58"/>
<rect x="267.2" y="443.9" width="0.75" height="0.75" fill="#4F66BC" opacity="0.69"/>
<rect x="270.2" y="445.4" width="0.75" height="0.75" fill="#4F66BC" opacity="0.50"/>
<rect x="248.8" y="436.0" width="0.75" height="0.75" fill="#3E57B4" opacity="0.60"/>
<rect x="248.9" y="428.4" width="0.75" height="0.75" fill="#3E57B4" opacity="0.60"/>
<rect x="247.4" y="441.6" width="0.75" height="0.75" fill="#3E57B4" opacity="0.60"/>
<rect x="247.9" y="433.2" width="0.75" height="0.75" fill="#3E57B4" opacity="0.60"/>
<rect x="246.0" y="425.0" width="0.75" height="0.75" fill="#3E57B4" opacity="0.60"/>
<rect x="248.6" y="432.4" width="0.75" height="0.75" fill="#3E57B4" opacity="0.60"/>
<rect x="248.3" y="438.4" width="0.75" height="0.75" fill="#3E57B4" opacity="0.60"/>
<rect x="246.9" y="435.5" width="0.75" height="0.75" fill="#3E57B4" opacity="0.60"/>
<rect x="248.3" y="444.8" width="0.75" height="0.75" fill="#3E57B4" opacity="0.60"/>
<rect x="249.4" y="440.5" width="0.75" height="0.75" fill="#3E57B4" opacity="0.60"/>
<rect x="248.4" y="433.1" width="0.75" height="0.75" fill="#3E57B4" opacity="0.60"/>
<rect x="249.2" y="430.4" width="0.75" height="0.75" fill="#3E57B4" opacity="0.60"/>
<rect x="248.9" y="431.8" width="0.75" height="0.75" fill="#3E57B4" opacity="0.60"/>
<rect x="247.5" y="447.1" width="0.75" height="0.75" fill="#3E57B4" opacity="0.60"/>
<rect x="249.5" y="432.1" width="0.75" height="0.75" fill="#3E57B4" opacity="0.60"/>
<rect x="248.8" y="429.6" width="0.75" height="0.75" fill="#3E57B4" opacity="0.60"/>
<rect x="248.0" y="434.8" width="0.75" height="0.75" fill="#3E57B4" opacity="0.60"/>
<rect x="247.8" y="432.9" width="0.75" height="0.75" fill="#3E57B4" opacity="0.60"/>
<rect x="250.2" y="426.4" width="0.75" height="0.75" fill="#3E57B4" opacity="0.60"/>
<rect x="246.3" y="437.7" width="0.75" height="0.75" fill="#3E57B4" opacity="0.60"/>
<rect x="246.9" y="442.4" width="0.75" height="0.75" fill="#3E57B4" opacity="0.60"/>
<rect x="248.9" y="439.7" width="0.75" height="0.75" fill="#3E57B4" opacity="0.60"/>
<rect x="249.4" y="440.4" width="0.75" height="0.75" fill="#3E57B4" opacity="0.60"/>
<rect x="249.0" y="429.8" width="0.75" height="0.75" fill="#3E57B4" opacity="0.60"/>
<rect x="250.4" y="438.8" width="0.75" height="0.75" fill="#3E57B4" opacity="0.60"/>
<rect x="249.1" y="429.4" width="0.75" height="0.75" fill="#3E57B4" opacity="0.60"/>
<rect x="248.3" y="426.0" width="0.75" height="0.75" fill="#3E57B4" opacity="0.60"/>
<rect x="248.0" y="446.2" width="0.75" height="0.75" fill="#3E57B4" opacity="0.60"/>
<rect x="247.1" y="431.1" width="0.75" height="0.75" fill="#3E57B4" opacity="0.60"/>
<rect x="250.7" y="425.9" width="0.75" height="0.75" fill="#3E57B4" opacity="0.60"/>
<rect x="247.8" y="430.8" width="0.75" height="0.75" fill="#3E57B4" opacity="0.60"/>
<rect x="249.3" y="439.2" width="0.75" height="0.75" fill="#3E57B4" opacity="0.60"/>
<rect x="247.8" y="433.5" width="0.75" height="0.75" fill="#3E57B4" opacity="0.60"/>
<rect x="249.5" y="436.8" width="0.75" height="0.75" fill="#3E57B4" opacity="0.60"/>
<rect x="249.1" y="436.5" width="0.75" height="0.75" fill="#3E57B4" opacity="0.60"/>
<rect x="250.0" y="440.1" width="0.75" height="0.75" fill="#3E57B4" opacity="0.60"/>
<rect x="250.2" y="445.9" width="0.75" height="0.75" fill="#3E57B4" opacity="0.60"/>
<rect x="248.9" y="430.6" width="0.75" height="0.75" fill="#3E57B4" opacity="0.60"/>
<rect x="248.0" y="429.1" width="0.75" height="0.75" fill="#3E57B4" opacity="0.60"/>
<rect x="248.0" y="443.7" width="0.75" height="0.75" fill="#3E57B4" opacity="0.60"/>
<rect x="247.3" y="445.2" width="0.75" height="0.75" fill="#3E57B4" opacity="0.60"/>
<rect x="247.9" y="425.7" width="0.75" height="0.75" fill="#3E57B4" opacity="0.60"/>
<rect x="247.6" y="439.3" width="0.75" height="0.75" fill="#3E57B4" opacity="0.60"/>
<rect x="247.9" y="426.5" width="0.75" height="0.75" fill="#3E57B4" opacity="0.60"/>
<rect x="250.1" y="426.6" width="0.75" height="0.75" fill="#3E57B4" opacity="0.60"/>
<rect x="249.5" y="425.8" width="0.75" height="0.75" fill="#3E57B4" opacity="0.60"/>
<rect x="248.4" y="429.9" width="0.75" height="0.75" fill="#3E57B4" opacity="0.60"/>
<rect x="247.7" y="435.6" width="0.75" height="0.75" fill="#3E57B4" opacity="0.60"/>
<rect x="248.9" y="430.8" width="0.75" height="0.75" fill="#3E57B4" opacity="0.60"/>
<rect x="248.3" y="439.2" width="0.75" height="0.75" fill="#3E57B4" opacity="0.60"/>
<rect x="247.7" y="441.2" width="0.75" height="0.75" fill="#3E57B4" opacity="0.60"/>
<rect x="248.9" y="432.0" width="0.75" height="0.75" fill="#3E57B4" opacity="0.60"/>
<rect x="248.5" y="436.5" width="0.75" height="0.75" fill="#3E57B4" opacity="0.60"/>
<rect x="248.1" y="432.2" width="0.75" height="0.75" fill="#3E57B4" opacity="0.60"/>
<rect x="248.6" y="435.3" width="0.75" height="0.75" fill="#3E57B4" opacity="0.60"/>
<rect x="248.7" y="443.7" width="0.75" height="0.75" fill="#3E57B4" opacity="0.60"/>
<rect x="250.4" y="426.3" width="0.75" height="0.75" fill="#3E57B4" opacity="0.60"/>
<rect x="248.5" y="440.9" width="0.75" height="0.75" fill="#3E57B4" opacity="0.60"/>
<rect x="248.5" y="431.5" width="0.75" height="0.75" fill="#3E57B4" opacity="0.60"/>
<rect x="247.7" y="440.7" width="0.75" height="0.75" fill="#3E57B4" opacity="0.60"/>
<rect x="249.1" y="433.5" width="0.75" height="0.75" fill="#3E57B4" opacity="0.60"/>
<rect x="248.7" y="437.2" width="0.75" height="0.75" fill="#3E57B4" opacity="0.60"/>
<rect x="250.1" y="442.0" width="0.75" height="0.75" fill="#3E57B4" opacity="0.60"/>
<rect x="249.1" y="444.1" width="0.75" height="0.75" fill="#3E57B4" opacity="0.60"/>
<rect x="247.1" y="435.7" width="0.75" height="0.75" fill="#3E57B4" opacity="0.60"/>
<rect x="247.6" y="445.8" width="0.75" height="0.75" fill="#3E57B4" opacity="0.60"/>
<rect x="246.6" y="443.7" width="0.75" height="0.75" fill="#3E57B4" opacity="0.60"/>
<rect x="250.1" y="440.5" width="0.75" height="0.75" fill="#3E57B4" opacity="0.60"/>
<rect x="247.0" y="438.9" width="0.75" height="0.75" fill="#3E57B4" opacity="0.60"/>
<rect x="249.0" y="435.0" width="0.75" height="0.75" fill="#3E57B4" opacity="0.60"/>
<rect x="247.5" y="423.9" width="0.75" height="0.75" fill="#3E57B4" opacity="0.60"/>
<rect x="246.0" y="432.8" width="0.75" height="0.75" fill="#3E57B4" opacity="0.60"/>
<rect x="249.3" y="445.5" width="0.75" height="0.75" fill="#3E57B4" opacity="0.60"/>
<rect x="249.3" y="438.2" width="0.75" height="0.75" fill="#3E57B4" opacity="0.60"/>
<rect x="250.0" y="429.1" width="0.75" height="0.75" fill="#3E57B4" opacity="0.60"/>
<rect x="247.0" y="446.8" width="0.75" height="0.75" fill="#3E57B4" opacity="0.60"/>
<rect x="249.7" y="440.9" width="0.75" height="0.75" fill="#3E57B4" opacity="0.60"/>
<rect x="249.9" y="436.9" width="0.75" height="0.75" fill="#3E57B4" opacity="0.60"/>
<rect x="247.1" y="442.0" width="0.75" height="0.75" fill="#3E57B4" opacity="0.60"/>
<rect x="248.7" y="444.7" width="0.75" height="0.75" fill="#3E57B4" opacity="0.60"/>
<rect x="247.7" y="441.2" width="0.75" height="0.75" fill="#3E57B4" opacity="0.60"/>
<rect x="249.7" y="424.3" width="0.75" height="0.75" fill="#3E57B4" opacity="0.60"/>
<rect x="247.2" y="426.9" width="0.75" height="0.75" fill="#3E57B4" opacity="0.60"/>
<rect x="247.0" y="436.4" width="0.75" height="0.75" fill="#3E57B4" opacity="0.60"/>
<rect x="246.9" y="430.6" width="0.75" height="0.75" fill="#3E57B4" opacity="0.60"/>
<rect x="249.6" y="434.2" width="0.75" height="0.75" fill="#3E57B4" opacity="0.60"/>
<rect x="247.5" y="440.8" width="0.75" height="0.75" fill="#3E57B4" opacity="0.60"/>
<rect x="247.8" y="435.4" width="0.75" height="0.75" fill="#3E57B4" opacity="0.60"/>
<rect x="249.6" y="424.4" width="0.75" height="0.75" fill="#3E57B4" opacity="0.60"/>
<rect x="248.2" y="426.6" width="0.75" height="0.75" fill="#3E57B4" opacity="0.60"/>
<rect x="249.4" y="428.7" width="0.75" height="0.75" fill="#3E57B4" opacity="0.60"/>
<rect x="249.4" y="427.1" width="0.75" height="0.75" fill="#3E57B4" opacity="0.60"/>
<rect x="248.5" y="427.1" width="0.75" height="0.75" fill="#3E57B4" opacity="0.60"/>
<rect x="248.0" y="423.8" width="0.75" height="0.75" fill="#3E57B4" opacity="0.60"/>
<rect x="249.3" y="440.1" width="0.75" height="0.75" fill="#3E57B4" opacity="0.60"/>
<rect x="251.4" y="432.9" width="0.75" height="0.75" fill="#3E57B4" opacity="0.60"/>
<rect x="249.9" y="428.8" width="0.75" height="0.75" fill="#3E57B4" opacity="0.60"/>
<rect x="248.2" y="426.4" width="0.75" height="0.75" fill="#3E57B4" opacity="0.60"/>
<rect x="250.6" y="426.4" width="0.75" height="0.75" fill="#3E57B4" opacity="0.60"/>
<rect x="249.1" y="428.7" width="0.75" height="0.75" fill="#3E57B4" opacity="0.60"/>
<rect x="248.7" y="414.0" width="0.75" height="0.75" fill="#4A62BA" opacity="0.60"/>
<rect x="247.3" y="418.9" width="0.75" height="0.75" fill="#4A62BA" opacity="0.60"/>
<rect x="248.3" y="409.9" width="0.75" height="0.75" fill="#4A62BA" opacity="0.60"/>
<rect x="246.9" y="417.1" width="0.75" height="0.75" fill="#4A62BA" opacity="0.60"/>
<rect x="245.3" y="405.1" width="0.75" height="0.75" fill="#4A62BA" opacity="0.60"/>
<rect x="247.2" y="415.3" width="0.75" height="0.75" fill="#4A62BA" opacity="0.60"/>
<rect x="248.1" y="415.9" width="0.75" height="0.75" fill="#4A62BA" opacity="0.60"/>
<rect x="247.5" y="416.5" width="0.75" height="0.75" fill="#4A62BA" opacity="0.60"/>
<rect x="249.8" y="417.6" width="0.75" height="0.75" fill="#4A62BA" opacity="0.60"/>
<rect x="248.3" y="413.8" width="0.75" height="0.75" fill="#4A62BA" opacity="0.60"/>
<rect x="249.3" y="414.7" width="0.75" height="0.75" fill="#4A62BA" opacity="0.60"/>
<rect x="248.6" y="406.4" width="0.75" height="0.75" fill="#4A62BA" opacity="0.60"/>
<rect x="247.7" y="415.1" width="0.75" height="0.75" fill="#4A62BA" opacity="0.60"/>
<rect x="246.5" y="421.1" width="0.75" height="0.75" fill="#4A62BA" opacity="0.60"/>
<rect x="248.0" y="414.9" width="0.75" height="0.75" fill="#4A62BA" opacity="0.60"/>
<rect x="246.4" y="423.6" width="0.75" height="0.75" fill="#4A62BA" opacity="0.60"/>
<rect x="248.6" y="418.3" width="0.75" height="0.75" fill="#4A62BA" opacity="0.60"/>
<rect x="245.9" y="421.1" width="0.75" height="0.75" fill="#4A62BA" opacity="0.60"/>
<rect x="248.3" y="414.3" width="0.75" height="0.75" fill="#4A62BA" opacity="0.60"/>
<rect x="247.1" y="408.5" width="0.75" height="0.75" fill="#4A62BA" opacity="0.60"/>
<rect x="248.5" y="410.8" width="0.75" height="0.75" fill="#4A62BA" opacity="0.60"/>
<rect x="248.8" y="413.6" width="0.75" height="0.75" fill="#4A62BA" opacity="0.60"/>
<rect x="246.2" y="417.1" width="0.75" height="0.75" fill="#4A62BA" opacity="0.60"/>
<rect x="247.7" y="410.6" width="0.75" height="0.75" fill="#4A62BA" opacity="0.60"/>
<rect x="247.2" y="418.1" width="0.75" height="0.75" fill="#4A62BA" opacity="0.60"/>
<rect x="246.8" y="409.7" width="0.75" height="0.75" fill="#4A62BA" opacity="0.60"/>
<rect x="246.9" y="411.4" width="0.75" height="0.75" fill="#4A62BA" opacity="0.60"/>
<rect x="246.3" y="415.7" width="0.75" height="0.75" fill="#4A62BA" opacity="0.60"/>
<rect x="247.2" y="414.6" width="0.75" height="0.75" fill="#4A62BA" opacity="0.60"/>
<rect x="244.3" y="417.0" width="0.75" height="0.75" fill="#4A62BA" opacity="0.60"/>
<rect x="246.9" y="413.7" width="0.75" height="0.75" fill="#4A62BA" opacity="0.60"/>
<rect x="247.6" y="423.8" width="0.75" height="0.75" fill="#4A62BA" opacity="0.60"/>
<rect x="245.0" y="408.6" width="0.75" height="0.75" fill="#4A62BA" opacity="0.60"/>
<rect x="248.7" y="412.1" width="0.75" height="0.75" fill="#4A62BA" opacity="0.60"/>
<rect x="249.6" y="411.3" width="0.75" height="0.75" fill="#4A62BA" opacity="0.60"/>
<rect x="246.4" y="419.1" width="0.75" height="0.75" fill="#4A62BA" opacity="0.60"/>
<rect x="248.9" y="417.4" width="0.75" height="0.75" fill="#4A62BA" opacity="0.60"/>
<rect x="248.1" y="414.9" width="0.75" height="0.75" fill="#4A62BA" opacity="0.60"/>
<rect x="246.5" y="414.6" width="0.75" height="0.75" fill="#4A62BA" opacity="0.60"/>
<rect x="249.6" y="418.5" width="0.75" height="0.75" fill="#4A62BA" opacity="0.60"/>
<rect x="247.3" y="416.9" width="0.75" height="0.75" fill="#4A62BA" opacity="0.60"/>
<rect x="248.8" y="420.6" width="0.75" height="0.75" fill="#4A62BA" opacity="0.60"/>
<rect x="247.1" y="415.2" width="0.75" height="0.75" fill="#4A62BA" opacity="0.60"/>
<rect x="247.9" y="426.7" width="0.75" height="0.75" fill="#4A62BA" opacity="0.60"/>
<rect x="247.7" y="421.0" width="0.75" height="0.75" fill="#4A62BA" opacity="0.60"/>
<rect x="244.6" y="419.1" width="0.75" height="0.75" fill="#4A62BA" opacity="0.60"/>
<rect x="244.8" y="410.9" width="0.75" height="0.75" fill="#4A62BA" opacity="0.60"/>
<rect x="246.2" y="414.9" width="0.75" height="0.75" fill="#4A62BA" opacity="0.60"/>
<rect x="247.6" y="417.1" width="0.75" height="0.75" fill="#4A62BA" opacity="0.60"/>
<rect x="247.7" y="413.6" width="0.75" height="0.75" fill="#4A62BA" opacity="0.60"/>
<rect x="251.9" y="417.2" width="0.75" height="0.75" fill="#4A62BA" opacity="0.60"/>
<rect x="248.5" y="424.2" width="0.75" height="0.75" fill="#4A62BA" opacity="0.60"/>
<rect x="249.0" y="418.0" width="0.75" height="0.75" fill="#4A62BA" opacity="0.60"/>
<rect x="247.9" y="423.5" width="0.75" height="0.75" fill="#4A62BA" opacity="0.60"/>
<rect x="245.4" y="411.4" width="0.75" height="0.75" fill="#4A62BA" opacity="0.60"/>
<rect x="247.6" y="406.8" width="0.75" height="0.75" fill="#4A62BA" opacity="0.60"/>
<rect x="245.9" y="420.3" width="0.75" height="0.75" fill="#4A62BA" opacity="0.60"/>
<rect x="246.5" y="416.2" width="0.75" height="0.75" fill="#4A62BA" opacity="0.60"/>
<rect x="248.5" y="410.5" width="0.75" height="0.75" fill="#4A62BA" opacity="0.60"/>
<rect x="247.8" y="412.8" width="0.75" height="0.75" fill="#4A62BA" opacity="0.60"/>
<rect x="245.3" y="451.5" width="0.75" height="0.75" fill="#4A62BA" opacity="0.60"/>
<rect x="247.2" y="451.3" width="0.75" height="0.75" fill="#4A62BA" opacity="0.60"/>
<rect x="246.1" y="453.6" width="0.75" height="0.75" fill="#4A62BA" opacity="0.60"/>
<rect x="249.4" y="452.9" width="0.75" height="0.75" fill="#4A62BA" opacity="0.60"/>
<rect x="247.1" y="450.2" width="0.75" height="0.75" fill="#4A62BA" opacity="0.60"/>
<rect x="245.8" y="450.2" width="0.75" height="0.75" fill="#4A62BA" opacity="0.60"/>
<rect x="247.7" y="453.5" width="0.75" height="0.75" fill="#4A62BA" opacity="0.60"/>
<rect x="248.9" y="452.0" width="0.75" height="0.75" fill="#4A62BA" opacity="0.60"/>
<rect x="246.6" y="452.3" width="0.75" height="0.75" fill="#4A62BA" opacity="0.60"/>
<rect x="247.5" y="453.0" width="0.75" height="0.75" fill="#4A62BA" opacity="0.60"/>
<rect x="249.9" y="450.9" width="0.75" height="0.75" fill="#4A62BA" opacity="0.60"/>
<rect x="251.0" y="448.5" width="0.75" height="0.75" fill="#4A62BA" opacity="0.60"/>
<rect x="244.1" y="449.5" width="0.75" height="0.75" fill="#4A62BA" opacity="0.60"/>
<rect x="245.5" y="451.6" width="0.75" height="0.75" fill="#4A62BA" opacity="0.60"/>
<rect x="251.0" y="450.8" width="0.75" height="0.75" fill="#4A62BA" opacity="0.60"/>
<rect x="249.3" y="451.4" width="0.75" height="0.75" fill="#4A62BA" opacity="0.60"/>
<rect x="247.6" y="450.3" width="0.75" height="0.75" fill="#4A62BA" opacity="0.60"/>
<rect x="251.3" y="451.9" width="0.75" height="0.75" fill="#4A62BA" opacity="0.60"/>
<rect x="247.6" y="452.7" width="0.75" height="0.75" fill="#4A62BA" opacity="0.60"/>
<ellipse cx="247.3" cy="415.5" rx="3.9" ry="9.2" fill="url(#blu)"/>
<ellipse cx="247.3" cy="415.5" rx="2.6" ry="7.2" fill="url(#warm)"/>
<ellipse cx="247.3" cy="452.0" rx="3.1" ry="3.9" fill="url(#blu)"/>
<ellipse cx="247.3" cy="452.0" rx="1.9" ry="2.4" fill="url(#hot)"/>
<path d="M234.8,455.0 L234.8,400.3 L256.1,400.3 L256.1,455.0 M234.8,429.6 L281.5,429.6 L281.5,455.0" stroke="#3a3a3a" stroke-width="0.8" fill="none"/>
<line x1="232.90" y1="389.00" x2="232.90" y2="455.00" stroke="#666" stroke-width="0.8"/>
<line x1="232.90" y1="455.00" x2="298.20" y2="455.00" stroke="#666" stroke-width="0.8"/>
<rect x="231.60" y="438.30" width="2.00" height="2.60" fill="#000"/>
<rect x="245.90" y="454.80" width="3.40" height="1.90" fill="#000"/>
<line x1="231.60" y1="395.00" x2="232.90" y2="395.00" stroke="#555" stroke-width="0.6"/>
<line x1="231.60" y1="411.60" x2="232.90" y2="411.60" stroke="#555" stroke-width="0.6"/>
<line x1="231.60" y1="429.00" x2="232.90" y2="429.00" stroke="#555" stroke-width="0.6"/>
<line x1="231.60" y1="439.50" x2="232.90" y2="439.50" stroke="#555" stroke-width="0.6"/>
<line x1="231.60" y1="450.20" x2="232.90" y2="450.20" stroke="#555" stroke-width="0.6"/>
<line x1="236.10" y1="455.00" x2="236.10" y2="456.30" stroke="#555" stroke-width="0.6"/>
<line x1="249.10" y1="455.00" x2="249.10" y2="456.30" stroke="#555" stroke-width="0.6"/>
<line x1="256.70" y1="455.00" x2="256.70" y2="456.30" stroke="#555" stroke-width="0.6"/>
<line x1="276.10" y1="455.00" x2="276.10" y2="456.30" stroke="#555" stroke-width="0.6"/>
<line x1="292.40" y1="455.00" x2="292.40" y2="456.30" stroke="#555" stroke-width="0.6"/>
<text x="230.30" y="397.70" font-size="8.2" stroke="#000" stroke-width="0.12" text-anchor="end" textLength="9.80" lengthAdjust="spacingAndGlyphs">10<tspan font-size="4.8" dy="-3.2">5</tspan></text>
<text x="230.30" y="414.30" font-size="8.2" stroke="#000" stroke-width="0.12" text-anchor="end" textLength="9.80" lengthAdjust="spacingAndGlyphs">10<tspan font-size="4.8" dy="-3.2">4</tspan></text>
<text x="230.30" y="431.70" font-size="8.2" stroke="#000" stroke-width="0.12" text-anchor="end" textLength="9.80" lengthAdjust="spacingAndGlyphs">10<tspan font-size="4.8" dy="-3.2">3</tspan></text>
<text x="230.30" y="442.30" font-size="8.2" stroke="#000" stroke-width="0.12" text-anchor="end" textLength="3.90" lengthAdjust="spacingAndGlyphs">0</text>
<text x="230.30" y="453.00" font-size="8.2" stroke="#000" stroke-width="0.12" text-anchor="end" textLength="12.20" lengthAdjust="spacingAndGlyphs">-10<tspan font-size="4.8" dy="-3.2">3</tspan></text>
<text x="230.80" y="464.00" font-size="8.2" stroke="#000" stroke-width="0.12" textLength="10.60" lengthAdjust="spacingAndGlyphs">-10<tspan font-size="4.8" dy="-3.2">3</tspan></text>
<text x="248.10" y="464.00" font-size="8.2" stroke="#000" stroke-width="0.12" textLength="3.00" lengthAdjust="spacingAndGlyphs">0</text>
<text x="252.70" y="464.00" font-size="8.2" stroke="#000" stroke-width="0.12" textLength="8.60" lengthAdjust="spacingAndGlyphs">10<tspan font-size="4.8" dy="-3.2">3</tspan></text>
<text x="272.80" y="464.00" font-size="8.2" stroke="#000" stroke-width="0.12" textLength="8.60" lengthAdjust="spacingAndGlyphs">10<tspan font-size="4.8" dy="-3.2">4</tspan></text>
<text x="288.70" y="464.00" font-size="8.2" stroke="#000" stroke-width="0.12" textLength="8.40" lengthAdjust="spacingAndGlyphs">10<tspan font-size="4.8" dy="-3.2">5</tspan></text>
<text x="235.90" y="399.30" font-size="7.4" stroke="#B3123F" stroke-width="0.12" fill="#B3123F" textLength="19.80" lengthAdjust="spacingAndGlyphs">B cells</text>
<text x="235.90" y="407.60" font-size="7.4" stroke="#B3123F" stroke-width="0.12" fill="#B3123F" textLength="21.00" lengthAdjust="spacingAndGlyphs">52.2%</text>
<text x="256.90" y="427.90" font-size="7.4" stroke="#B3123F" stroke-width="0.12" fill="#B3123F" textLength="37.00" lengthAdjust="spacingAndGlyphs">Myeloid cells</text>
<text x="256.90" y="436.00" font-size="7.4" stroke="#B3123F" stroke-width="0.12" fill="#B3123F" textLength="20.20" lengthAdjust="spacingAndGlyphs">9.96%</text>
<text x="257.90" y="397.60" font-size="3.3" fill="#222" textLength="8.80" lengthAdjust="spacingAndGlyphs">B cells</text>
<text x="260.50" y="401.70" font-size="3.3" fill="#222" textLength="4.40" lengthAdjust="spacingAndGlyphs">52.2</text>
<text x="278.30" y="445.00" font-size="3.3" fill="#222" textLength="17.60" lengthAdjust="spacingAndGlyphs">Myeloid cells</text>
<text x="284.30" y="449.10" font-size="3.3" fill="#222" textLength="4.40" lengthAdjust="spacingAndGlyphs">9.96</text>
<text x="239.10" y="447.50" font-size="3.3" fill="#222" textLength="4.40" lengthAdjust="spacingAndGlyphs">neg</text>
<text x="238.80" y="450.90" font-size="3.3" fill="#222" textLength="4.80" lengthAdjust="spacingAndGlyphs">20.6</text>
<text x="339.35" y="384.30" font-size="10.4" stroke="#000" stroke-width="0.12" font-style="italic" textLength="35.50" lengthAdjust="spacingAndGlyphs">Shp2*M</text>
<path d="M324.6,389.0 L389.9,389.0 L389.9,455.0" stroke="#c4c4c4" stroke-width="0.7" fill="none"/>
<rect x="337.5" y="402.8" width="0.6" height="0.6" fill="#8796D6" opacity="0.45"/>
<rect x="344.8" y="405.7" width="0.6" height="0.6" fill="#8796D6" opacity="0.45"/>
<rect x="329.7" y="419.5" width="0.6" height="0.6" fill="#8796D6" opacity="0.45"/>
<rect x="368.8" y="441.8" width="0.6" height="0.6" fill="#8796D6" opacity="0.45"/>
<rect x="361.8" y="409.4" width="0.6" height="0.6" fill="#8796D6" opacity="0.45"/>
<rect x="351.3" y="412.5" width="0.6" height="0.6" fill="#8796D6" opacity="0.45"/>
<rect x="334.5" y="402.9" width="0.6" height="0.6" fill="#8796D6" opacity="0.45"/>
<rect x="336.5" y="448.9" width="0.6" height="0.6" fill="#8796D6" opacity="0.45"/>
<rect x="364.7" y="442.2" width="0.6" height="0.6" fill="#8796D6" opacity="0.45"/>
<rect x="363.4" y="407.8" width="0.6" height="0.6" fill="#8796D6" opacity="0.45"/>
<rect x="340.9" y="432.1" width="0.6" height="0.6" fill="#8796D6" opacity="0.45"/>
<rect x="360.3" y="444.9" width="0.6" height="0.6" fill="#8796D6" opacity="0.45"/>
<rect x="367.1" y="401.9" width="0.6" height="0.6" fill="#8796D6" opacity="0.45"/>
<rect x="354.5" y="434.6" width="0.6" height="0.6" fill="#8796D6" opacity="0.45"/>
<rect x="349.9" y="407.0" width="0.6" height="0.6" fill="#8796D6" opacity="0.45"/>
<rect x="348.4" y="402.0" width="0.6" height="0.6" fill="#8796D6" opacity="0.45"/>
<rect x="369.6" y="445.5" width="0.6" height="0.6" fill="#8796D6" opacity="0.45"/>
<rect x="351.8" y="413.8" width="0.6" height="0.6" fill="#8796D6" opacity="0.45"/>
<rect x="368.4" y="429.1" width="0.6" height="0.6" fill="#8796D6" opacity="0.45"/>
<rect x="367.2" y="444.5" width="0.6" height="0.6" fill="#8796D6" opacity="0.45"/>
<rect x="350.0" y="420.2" width="0.6" height="0.6" fill="#8796D6" opacity="0.45"/>
<rect x="354.1" y="421.1" width="0.6" height="0.6" fill="#8796D6" opacity="0.45"/>
<rect x="334.0" y="414.1" width="0.6" height="0.6" fill="#8796D6" opacity="0.45"/>
<rect x="364.0" y="399.4" width="0.6" height="0.6" fill="#8796D6" opacity="0.45"/>
<rect x="328.7" y="432.1" width="0.6" height="0.6" fill="#8796D6" opacity="0.45"/>
<rect x="339.5" y="426.9" width="0.6" height="0.6" fill="#8796D6" opacity="0.45"/>
<rect x="348.3" y="416.2" width="0.6" height="0.6" fill="#8796D6" opacity="0.45"/>
<rect x="372.5" y="408.0" width="0.6" height="0.6" fill="#8796D6" opacity="0.45"/>
<rect x="345.6" y="408.3" width="0.6" height="0.6" fill="#8796D6" opacity="0.45"/>
<rect x="355.7" y="412.5" width="0.6" height="0.6" fill="#8796D6" opacity="0.45"/>
<rect x="353.0" y="452.0" width="0.75" height="0.75" fill="#4F66BC" opacity="0.49"/>
<rect x="361.5" y="447.8" width="0.75" height="0.75" fill="#4F66BC" opacity="0.45"/>
<rect x="360.5" y="441.8" width="0.75" height="0.75" fill="#4F66BC" opacity="0.46"/>
<rect x="357.6" y="449.1" width="0.75" height="0.75" fill="#4F66BC" opacity="0.56"/>
<rect x="369.3" y="448.6" width="0.75" height="0.75" fill="#4F66BC" opacity="0.75"/>
<rect x="369.8" y="445.3" width="0.75" height="0.75" fill="#4F66BC" opacity="0.78"/>
<rect x="364.9" y="447.4" width="0.75" height="0.75" fill="#4F66BC" opacity="0.78"/>
<rect x="360.7" y="443.1" width="0.75" height="0.75" fill="#4F66BC" opacity="0.77"/>
<rect x="350.9" y="442.2" width="0.75" height="0.75" fill="#4F66BC" opacity="0.48"/>
<rect x="362.1" y="450.8" width="0.75" height="0.75" fill="#4F66BC" opacity="0.41"/>
<rect x="359.2" y="447.5" width="0.75" height="0.75" fill="#4F66BC" opacity="0.37"/>
<rect x="365.1" y="452.8" width="0.75" height="0.75" fill="#4F66BC" opacity="0.51"/>
<rect x="358.9" y="448.7" width="0.75" height="0.75" fill="#4F66BC" opacity="0.79"/>
<rect x="355.7" y="448.2" width="0.75" height="0.75" fill="#4F66BC" opacity="0.38"/>
<rect x="363.3" y="447.8" width="0.75" height="0.75" fill="#4F66BC" opacity="0.65"/>
<rect x="360.7" y="447.9" width="0.75" height="0.75" fill="#4F66BC" opacity="0.57"/>
<rect x="365.3" y="450.2" width="0.75" height="0.75" fill="#4F66BC" opacity="0.70"/>
<rect x="354.8" y="447.4" width="0.75" height="0.75" fill="#4F66BC" opacity="0.53"/>
<rect x="366.2" y="447.9" width="0.75" height="0.75" fill="#4F66BC" opacity="0.46"/>
<rect x="369.0" y="442.4" width="0.75" height="0.75" fill="#4F66BC" opacity="0.57"/>
<rect x="364.5" y="447.6" width="0.75" height="0.75" fill="#4F66BC" opacity="0.46"/>
<rect x="360.8" y="449.7" width="0.75" height="0.75" fill="#4F66BC" opacity="0.74"/>
<rect x="360.9" y="448.0" width="0.75" height="0.75" fill="#4F66BC" opacity="0.77"/>
<rect x="353.1" y="441.5" width="0.75" height="0.75" fill="#4F66BC" opacity="0.69"/>
<rect x="356.7" y="447.1" width="0.75" height="0.75" fill="#4F66BC" opacity="0.44"/>
<rect x="369.4" y="441.2" width="0.75" height="0.75" fill="#4F66BC" opacity="0.77"/>
<rect x="354.7" y="451.8" width="0.75" height="0.75" fill="#4F66BC" opacity="0.71"/>
<rect x="352.1" y="441.6" width="0.75" height="0.75" fill="#4F66BC" opacity="0.59"/>
<rect x="354.0" y="442.2" width="0.75" height="0.75" fill="#4F66BC" opacity="0.47"/>
<rect x="374.0" y="442.6" width="0.75" height="0.75" fill="#4F66BC" opacity="0.38"/>
<rect x="375.9" y="445.2" width="0.75" height="0.75" fill="#4F66BC" opacity="0.65"/>
<rect x="373.0" y="449.2" width="0.75" height="0.75" fill="#4F66BC" opacity="0.41"/>
<rect x="369.1" y="445.9" width="0.75" height="0.75" fill="#4F66BC" opacity="0.38"/>
<rect x="364.2" y="451.7" width="0.75" height="0.75" fill="#4F66BC" opacity="0.61"/>
<rect x="359.3" y="438.3" width="0.75" height="0.75" fill="#4F66BC" opacity="0.45"/>
<rect x="374.3" y="447.2" width="0.75" height="0.75" fill="#4F66BC" opacity="0.36"/>
<rect x="361.9" y="445.7" width="0.75" height="0.75" fill="#4F66BC" opacity="0.71"/>
<rect x="362.3" y="439.4" width="0.75" height="0.75" fill="#4F66BC" opacity="0.60"/>
<rect x="362.8" y="445.2" width="0.75" height="0.75" fill="#4F66BC" opacity="0.65"/>
<rect x="352.9" y="454.0" width="0.75" height="0.75" fill="#4F66BC" opacity="0.70"/>
<rect x="351.8" y="447.8" width="0.75" height="0.75" fill="#4F66BC" opacity="0.36"/>
<rect x="368.1" y="448.1" width="0.75" height="0.75" fill="#4F66BC" opacity="0.57"/>
<rect x="365.5" y="443.1" width="0.75" height="0.75" fill="#4F66BC" opacity="0.41"/>
<rect x="352.4" y="451.9" width="0.75" height="0.75" fill="#4F66BC" opacity="0.59"/>
<rect x="372.0" y="447.5" width="0.75" height="0.75" fill="#4F66BC" opacity="0.72"/>
<rect x="366.6" y="449.4" width="0.75" height="0.75" fill="#4F66BC" opacity="0.52"/>
<rect x="360.9" y="443.8" width="0.75" height="0.75" fill="#4F66BC" opacity="0.46"/>
<rect x="362.2" y="448.1" width="0.75" height="0.75" fill="#4F66BC" opacity="0.63"/>
<rect x="365.5" y="444.0" width="0.75" height="0.75" fill="#4F66BC" opacity="0.55"/>
<rect x="366.7" y="441.9" width="0.75" height="0.75" fill="#4F66BC" opacity="0.38"/>
<rect x="362.8" y="445.3" width="0.75" height="0.75" fill="#4F66BC" opacity="0.49"/>
<rect x="363.1" y="443.6" width="0.75" height="0.75" fill="#4F66BC" opacity="0.71"/>
<rect x="366.2" y="453.7" width="0.75" height="0.75" fill="#4F66BC" opacity="0.43"/>
<rect x="364.1" y="450.6" width="0.75" height="0.75" fill="#4F66BC" opacity="0.50"/>
<rect x="359.4" y="446.6" width="0.75" height="0.75" fill="#4F66BC" opacity="0.49"/>
<rect x="352.4" y="445.8" width="0.75" height="0.75" fill="#4F66BC" opacity="0.67"/>
<rect x="357.0" y="447.1" width="0.75" height="0.75" fill="#4F66BC" opacity="0.46"/>
<rect x="363.1" y="444.1" width="0.75" height="0.75" fill="#4F66BC" opacity="0.70"/>
<rect x="368.7" y="446.5" width="0.75" height="0.75" fill="#4F66BC" opacity="0.65"/>
<rect x="355.2" y="444.9" width="0.75" height="0.75" fill="#4F66BC" opacity="0.76"/>
<rect x="355.1" y="454.2" width="0.75" height="0.75" fill="#4F66BC" opacity="0.70"/>
<rect x="354.3" y="444.3" width="0.75" height="0.75" fill="#4F66BC" opacity="0.41"/>
<rect x="360.4" y="443.4" width="0.75" height="0.75" fill="#4F66BC" opacity="0.65"/>
<rect x="361.4" y="448.2" width="0.75" height="0.75" fill="#4F66BC" opacity="0.41"/>
<rect x="361.1" y="444.8" width="0.75" height="0.75" fill="#4F66BC" opacity="0.76"/>
<rect x="353.7" y="450.6" width="0.75" height="0.75" fill="#4F66BC" opacity="0.51"/>
<rect x="357.5" y="445.8" width="0.75" height="0.75" fill="#4F66BC" opacity="0.53"/>
<rect x="363.4" y="446.1" width="0.75" height="0.75" fill="#4F66BC" opacity="0.64"/>
<rect x="357.1" y="449.8" width="0.75" height="0.75" fill="#4F66BC" opacity="0.36"/>
<rect x="375.4" y="448.2" width="0.75" height="0.75" fill="#4F66BC" opacity="0.72"/>
<rect x="363.3" y="440.5" width="0.75" height="0.75" fill="#4F66BC" opacity="0.78"/>
<rect x="364.3" y="451.2" width="0.75" height="0.75" fill="#4F66BC" opacity="0.57"/>
<rect x="360.7" y="437.0" width="0.75" height="0.75" fill="#4F66BC" opacity="0.40"/>
<rect x="353.9" y="442.4" width="0.75" height="0.75" fill="#4F66BC" opacity="0.69"/>
<rect x="350.5" y="442.2" width="0.75" height="0.75" fill="#4F66BC" opacity="0.49"/>
<rect x="365.6" y="445.3" width="0.75" height="0.75" fill="#4F66BC" opacity="0.62"/>
<rect x="367.7" y="443.4" width="0.75" height="0.75" fill="#4F66BC" opacity="0.49"/>
<rect x="360.3" y="450.4" width="0.75" height="0.75" fill="#4F66BC" opacity="0.63"/>
<rect x="373.5" y="446.8" width="0.75" height="0.75" fill="#4F66BC" opacity="0.53"/>
<rect x="349.9" y="451.1" width="0.75" height="0.75" fill="#4F66BC" opacity="0.48"/>
<rect x="358.7" y="447.3" width="0.75" height="0.75" fill="#4F66BC" opacity="0.43"/>
<rect x="349.9" y="445.5" width="0.75" height="0.75" fill="#4F66BC" opacity="0.63"/>
<rect x="349.1" y="454.0" width="0.75" height="0.75" fill="#4F66BC" opacity="0.63"/>
<rect x="361.0" y="448.2" width="0.75" height="0.75" fill="#4F66BC" opacity="0.79"/>
<rect x="374.2" y="446.3" width="0.75" height="0.75" fill="#4F66BC" opacity="0.62"/>
<rect x="358.5" y="448.5" width="0.75" height="0.75" fill="#4F66BC" opacity="0.47"/>
<rect x="368.4" y="442.9" width="0.75" height="0.75" fill="#4F66BC" opacity="0.42"/>
<rect x="360.0" y="450.2" width="0.75" height="0.75" fill="#4F66BC" opacity="0.78"/>
<rect x="365.6" y="452.7" width="0.75" height="0.75" fill="#4F66BC" opacity="0.66"/>
<rect x="359.0" y="451.6" width="0.75" height="0.75" fill="#4F66BC" opacity="0.42"/>
<rect x="361.0" y="447.6" width="0.75" height="0.75" fill="#4F66BC" opacity="0.49"/>
<rect x="361.3" y="447.9" width="0.75" height="0.75" fill="#4F66BC" opacity="0.80"/>
<rect x="356.5" y="441.1" width="0.75" height="0.75" fill="#4F66BC" opacity="0.64"/>
<rect x="372.4" y="444.7" width="0.75" height="0.75" fill="#4F66BC" opacity="0.67"/>
<rect x="350.3" y="444.8" width="0.75" height="0.75" fill="#4F66BC" opacity="0.68"/>
<rect x="352.3" y="445.5" width="0.75" height="0.75" fill="#4F66BC" opacity="0.42"/>
<rect x="363.8" y="443.4" width="0.75" height="0.75" fill="#4F66BC" opacity="0.38"/>
<rect x="366.1" y="453.7" width="0.75" height="0.75" fill="#4F66BC" opacity="0.47"/>
<rect x="352.0" y="450.6" width="0.75" height="0.75" fill="#4F66BC" opacity="0.74"/>
<rect x="356.6" y="450.3" width="0.75" height="0.75" fill="#4F66BC" opacity="0.54"/>
<rect x="372.7" y="448.4" width="0.75" height="0.75" fill="#4F66BC" opacity="0.36"/>
<rect x="363.2" y="446.5" width="0.75" height="0.75" fill="#4F66BC" opacity="0.42"/>
<rect x="366.6" y="441.2" width="0.75" height="0.75" fill="#4F66BC" opacity="0.45"/>
<rect x="352.6" y="445.6" width="0.75" height="0.75" fill="#4F66BC" opacity="0.67"/>
<rect x="364.4" y="453.5" width="0.75" height="0.75" fill="#4F66BC" opacity="0.80"/>
<rect x="355.6" y="438.8" width="0.75" height="0.75" fill="#4F66BC" opacity="0.77"/>
<rect x="350.4" y="452.1" width="0.75" height="0.75" fill="#4F66BC" opacity="0.73"/>
<rect x="357.0" y="446.1" width="0.75" height="0.75" fill="#4F66BC" opacity="0.63"/>
<rect x="364.3" y="445.3" width="0.75" height="0.75" fill="#4F66BC" opacity="0.64"/>
<rect x="366.6" y="443.9" width="0.75" height="0.75" fill="#4F66BC" opacity="0.37"/>
<rect x="356.2" y="444.8" width="0.75" height="0.75" fill="#4F66BC" opacity="0.74"/>
<rect x="356.7" y="444.2" width="0.75" height="0.75" fill="#4F66BC" opacity="0.75"/>
<rect x="355.4" y="444.6" width="0.75" height="0.75" fill="#4F66BC" opacity="0.73"/>
<rect x="370.3" y="441.9" width="0.75" height="0.75" fill="#4F66BC" opacity="0.75"/>
<rect x="354.1" y="442.1" width="0.75" height="0.75" fill="#4F66BC" opacity="0.62"/>
<rect x="358.0" y="448.2" width="0.75" height="0.75" fill="#4F66BC" opacity="0.67"/>
<rect x="351.4" y="447.1" width="0.75" height="0.75" fill="#4F66BC" opacity="0.62"/>
<rect x="359.6" y="449.5" width="0.75" height="0.75" fill="#4F66BC" opacity="0.38"/>
<rect x="362.4" y="438.9" width="0.75" height="0.75" fill="#4F66BC" opacity="0.66"/>
<rect x="373.0" y="454.1" width="0.75" height="0.75" fill="#4F66BC" opacity="0.72"/>
<rect x="359.3" y="447.0" width="0.75" height="0.75" fill="#4F66BC" opacity="0.73"/>
<rect x="353.1" y="443.3" width="0.75" height="0.75" fill="#4F66BC" opacity="0.36"/>
<rect x="359.4" y="446.0" width="0.75" height="0.75" fill="#4F66BC" opacity="0.57"/>
<rect x="363.4" y="449.8" width="0.75" height="0.75" fill="#4F66BC" opacity="0.75"/>
<rect x="359.5" y="440.0" width="0.75" height="0.75" fill="#4F66BC" opacity="0.48"/>
<rect x="352.8" y="450.3" width="0.75" height="0.75" fill="#4F66BC" opacity="0.37"/>
<rect x="359.9" y="439.4" width="0.75" height="0.75" fill="#4F66BC" opacity="0.48"/>
<rect x="355.4" y="440.8" width="0.75" height="0.75" fill="#4F66BC" opacity="0.67"/>
<rect x="355.9" y="447.9" width="0.75" height="0.75" fill="#4F66BC" opacity="0.36"/>
<rect x="371.0" y="441.3" width="0.75" height="0.75" fill="#4F66BC" opacity="0.47"/>
<rect x="359.8" y="443.1" width="0.75" height="0.75" fill="#4F66BC" opacity="0.63"/>
<rect x="362.7" y="444.2" width="0.75" height="0.75" fill="#4F66BC" opacity="0.63"/>
<rect x="359.3" y="451.5" width="0.75" height="0.75" fill="#4F66BC" opacity="0.36"/>
<rect x="359.1" y="450.1" width="0.75" height="0.75" fill="#4F66BC" opacity="0.76"/>
<rect x="367.0" y="451.7" width="0.75" height="0.75" fill="#4F66BC" opacity="0.39"/>
<rect x="363.5" y="446.8" width="0.75" height="0.75" fill="#4F66BC" opacity="0.39"/>
<rect x="352.9" y="440.0" width="0.75" height="0.75" fill="#4F66BC" opacity="0.57"/>
<rect x="364.1" y="449.3" width="0.75" height="0.75" fill="#4F66BC" opacity="0.56"/>
<rect x="363.5" y="446.9" width="0.75" height="0.75" fill="#4F66BC" opacity="0.46"/>
<rect x="361.4" y="445.4" width="0.75" height="0.75" fill="#4F66BC" opacity="0.79"/>
<rect x="357.2" y="451.7" width="0.75" height="0.75" fill="#4F66BC" opacity="0.65"/>
<rect x="361.8" y="446.2" width="0.75" height="0.75" fill="#4F66BC" opacity="0.73"/>
<rect x="364.0" y="452.5" width="0.75" height="0.75" fill="#4F66BC" opacity="0.36"/>
<rect x="360.0" y="444.6" width="0.75" height="0.75" fill="#4F66BC" opacity="0.44"/>
<rect x="365.2" y="447.7" width="0.75" height="0.75" fill="#4F66BC" opacity="0.50"/>
<rect x="368.4" y="446.4" width="0.75" height="0.75" fill="#4F66BC" opacity="0.51"/>
<rect x="363.6" y="446.9" width="0.75" height="0.75" fill="#4F66BC" opacity="0.45"/>
<rect x="375.0" y="444.5" width="0.75" height="0.75" fill="#4F66BC" opacity="0.66"/>
<rect x="361.8" y="446.8" width="0.75" height="0.75" fill="#4F66BC" opacity="0.76"/>
<rect x="356.9" y="441.6" width="0.75" height="0.75" fill="#4F66BC" opacity="0.73"/>
<rect x="363.0" y="448.5" width="0.75" height="0.75" fill="#4F66BC" opacity="0.41"/>
<rect x="351.5" y="447.6" width="0.75" height="0.75" fill="#4F66BC" opacity="0.59"/>
<rect x="352.6" y="451.8" width="0.75" height="0.75" fill="#4F66BC" opacity="0.73"/>
<rect x="359.7" y="445.9" width="0.75" height="0.75" fill="#4F66BC" opacity="0.42"/>
<rect x="360.5" y="449.8" width="0.75" height="0.75" fill="#4F66BC" opacity="0.61"/>
<rect x="362.7" y="452.0" width="0.75" height="0.75" fill="#4F66BC" opacity="0.50"/>
<rect x="352.9" y="451.5" width="0.75" height="0.75" fill="#4F66BC" opacity="0.77"/>
<rect x="361.8" y="450.3" width="0.75" height="0.75" fill="#4F66BC" opacity="0.79"/>
<rect x="360.0" y="447.9" width="0.75" height="0.75" fill="#4F66BC" opacity="0.44"/>
<rect x="364.4" y="441.5" width="0.75" height="0.75" fill="#4F66BC" opacity="0.77"/>
<rect x="357.7" y="447.0" width="0.75" height="0.75" fill="#4F66BC" opacity="0.49"/>
<rect x="358.4" y="443.3" width="0.75" height="0.75" fill="#4F66BC" opacity="0.41"/>
<rect x="354.4" y="450.0" width="0.75" height="0.75" fill="#4F66BC" opacity="0.51"/>
<rect x="356.3" y="447.7" width="0.75" height="0.75" fill="#4F66BC" opacity="0.36"/>
<rect x="361.8" y="441.0" width="0.75" height="0.75" fill="#4F66BC" opacity="0.54"/>
<rect x="363.7" y="449.1" width="0.75" height="0.75" fill="#4F66BC" opacity="0.60"/>
<rect x="365.5" y="444.3" width="0.75" height="0.75" fill="#4F66BC" opacity="0.79"/>
<rect x="355.6" y="446.6" width="0.75" height="0.75" fill="#4F66BC" opacity="0.63"/>
<rect x="352.5" y="444.0" width="0.75" height="0.75" fill="#4F66BC" opacity="0.68"/>
<rect x="366.5" y="447.6" width="0.75" height="0.75" fill="#4F66BC" opacity="0.71"/>
<rect x="360.8" y="447.9" width="0.75" height="0.75" fill="#4F66BC" opacity="0.43"/>
<rect x="358.1" y="451.0" width="0.75" height="0.75" fill="#4F66BC" opacity="0.49"/>
<rect x="357.0" y="445.3" width="0.75" height="0.75" fill="#4F66BC" opacity="0.51"/>
<rect x="355.9" y="442.7" width="0.75" height="0.75" fill="#4F66BC" opacity="0.78"/>
<rect x="364.2" y="445.9" width="0.75" height="0.75" fill="#4F66BC" opacity="0.50"/>
<rect x="351.7" y="445.9" width="0.75" height="0.75" fill="#4F66BC" opacity="0.51"/>
<rect x="362.4" y="445.1" width="0.75" height="0.75" fill="#4F66BC" opacity="0.56"/>
<rect x="369.5" y="452.4" width="0.75" height="0.75" fill="#4F66BC" opacity="0.62"/>
<rect x="363.2" y="446.8" width="0.75" height="0.75" fill="#4F66BC" opacity="0.67"/>
<rect x="357.9" y="446.3" width="0.75" height="0.75" fill="#4F66BC" opacity="0.72"/>
<rect x="361.5" y="445.9" width="0.75" height="0.75" fill="#4F66BC" opacity="0.77"/>
<rect x="361.5" y="441.9" width="0.75" height="0.75" fill="#4F66BC" opacity="0.59"/>
<rect x="359.4" y="448.3" width="0.75" height="0.75" fill="#4F66BC" opacity="0.56"/>
<rect x="362.6" y="445.1" width="0.75" height="0.75" fill="#4F66BC" opacity="0.56"/>
<rect x="357.6" y="452.7" width="0.75" height="0.75" fill="#4F66BC" opacity="0.78"/>
<rect x="363.7" y="445.0" width="0.75" height="0.75" fill="#4F66BC" opacity="0.54"/>
<rect x="367.6" y="447.1" width="0.75" height="0.75" fill="#4F66BC" opacity="0.73"/>
<rect x="361.0" y="445.8" width="0.75" height="0.75" fill="#4F66BC" opacity="0.55"/>
<rect x="365.6" y="448.9" width="0.75" height="0.75" fill="#4F66BC" opacity="0.76"/>
<rect x="357.0" y="454.2" width="0.75" height="0.75" fill="#4F66BC" opacity="0.78"/>
<rect x="361.4" y="444.7" width="0.75" height="0.75" fill="#4F66BC" opacity="0.76"/>
<rect x="380.4" y="440.6" width="0.75" height="0.75" fill="#4F66BC" opacity="0.35"/>
<rect x="365.0" y="447.1" width="0.75" height="0.75" fill="#4F66BC" opacity="0.58"/>
<rect x="357.1" y="447.8" width="0.75" height="0.75" fill="#4F66BC" opacity="0.64"/>
<rect x="355.1" y="442.3" width="0.75" height="0.75" fill="#4F66BC" opacity="0.58"/>
<rect x="350.1" y="445.2" width="0.75" height="0.75" fill="#4F66BC" opacity="0.38"/>
<rect x="356.4" y="447.8" width="0.75" height="0.75" fill="#4F66BC" opacity="0.40"/>
<rect x="360.0" y="443.6" width="0.75" height="0.75" fill="#4F66BC" opacity="0.50"/>
<rect x="358.1" y="452.0" width="0.75" height="0.75" fill="#4F66BC" opacity="0.40"/>
<rect x="358.0" y="445.9" width="0.75" height="0.75" fill="#4F66BC" opacity="0.78"/>
<rect x="365.7" y="452.4" width="0.75" height="0.75" fill="#4F66BC" opacity="0.60"/>
<rect x="354.7" y="448.5" width="0.75" height="0.75" fill="#4F66BC" opacity="0.51"/>
<rect x="360.0" y="442.4" width="0.75" height="0.75" fill="#4F66BC" opacity="0.59"/>
<rect x="359.7" y="452.3" width="0.75" height="0.75" fill="#4F66BC" opacity="0.43"/>
<rect x="350.2" y="447.6" width="0.75" height="0.75" fill="#4F66BC" opacity="0.59"/>
<rect x="352.2" y="444.6" width="0.75" height="0.75" fill="#4F66BC" opacity="0.44"/>
<rect x="369.1" y="445.5" width="0.75" height="0.75" fill="#4F66BC" opacity="0.68"/>
<rect x="366.4" y="445.8" width="0.75" height="0.75" fill="#4F66BC" opacity="0.50"/>
<rect x="357.7" y="450.1" width="0.75" height="0.75" fill="#4F66BC" opacity="0.49"/>
<rect x="357.8" y="449.4" width="0.75" height="0.75" fill="#4F66BC" opacity="0.57"/>
<rect x="358.0" y="450.5" width="0.75" height="0.75" fill="#4F66BC" opacity="0.65"/>
<rect x="354.4" y="454.0" width="0.75" height="0.75" fill="#4F66BC" opacity="0.71"/>
<rect x="353.8" y="453.3" width="0.75" height="0.75" fill="#4F66BC" opacity="0.43"/>
<rect x="377.0" y="454.0" width="0.75" height="0.75" fill="#4F66BC" opacity="0.36"/>
<rect x="372.7" y="447.3" width="0.75" height="0.75" fill="#4F66BC" opacity="0.35"/>
<rect x="355.0" y="443.0" width="0.75" height="0.75" fill="#4F66BC" opacity="0.45"/>
<rect x="355.8" y="448.8" width="0.75" height="0.75" fill="#4F66BC" opacity="0.55"/>
<rect x="359.0" y="443.9" width="0.75" height="0.75" fill="#4F66BC" opacity="0.39"/>
<rect x="360.3" y="445.3" width="0.75" height="0.75" fill="#4F66BC" opacity="0.37"/>
<rect x="380.2" y="447.4" width="0.75" height="0.75" fill="#4F66BC" opacity="0.55"/>
<rect x="358.9" y="442.2" width="0.75" height="0.75" fill="#4F66BC" opacity="0.79"/>
<rect x="356.3" y="449.9" width="0.75" height="0.75" fill="#4F66BC" opacity="0.66"/>
<rect x="365.8" y="447.0" width="0.75" height="0.75" fill="#4F66BC" opacity="0.69"/>
<rect x="352.8" y="445.1" width="0.75" height="0.75" fill="#4F66BC" opacity="0.77"/>
<rect x="350.0" y="449.5" width="0.75" height="0.75" fill="#4F66BC" opacity="0.53"/>
<rect x="365.1" y="448.9" width="0.75" height="0.75" fill="#4F66BC" opacity="0.44"/>
<rect x="364.9" y="447.5" width="0.75" height="0.75" fill="#4F66BC" opacity="0.41"/>
<rect x="349.4" y="448.7" width="0.75" height="0.75" fill="#4F66BC" opacity="0.69"/>
<rect x="363.8" y="444.8" width="0.75" height="0.75" fill="#4F66BC" opacity="0.65"/>
<rect x="364.6" y="444.6" width="0.75" height="0.75" fill="#4F66BC" opacity="0.76"/>
<rect x="371.3" y="452.2" width="0.75" height="0.75" fill="#4F66BC" opacity="0.75"/>
<rect x="371.8" y="446.1" width="0.75" height="0.75" fill="#4F66BC" opacity="0.67"/>
<rect x="350.1" y="449.4" width="0.75" height="0.75" fill="#4F66BC" opacity="0.75"/>
<rect x="351.5" y="444.6" width="0.75" height="0.75" fill="#4F66BC" opacity="0.77"/>
<rect x="358.3" y="450.4" width="0.75" height="0.75" fill="#4F66BC" opacity="0.37"/>
<rect x="366.2" y="443.3" width="0.75" height="0.75" fill="#4F66BC" opacity="0.65"/>
<rect x="359.9" y="449.4" width="0.75" height="0.75" fill="#4F66BC" opacity="0.57"/>
<rect x="364.0" y="444.5" width="0.75" height="0.75" fill="#4F66BC" opacity="0.54"/>
<rect x="348.7" y="450.6" width="0.75" height="0.75" fill="#4F66BC" opacity="0.41"/>
<rect x="360.3" y="446.6" width="0.75" height="0.75" fill="#4F66BC" opacity="0.66"/>
<rect x="360.2" y="442.7" width="0.75" height="0.75" fill="#4F66BC" opacity="0.68"/>
<rect x="358.9" y="449.1" width="0.75" height="0.75" fill="#4F66BC" opacity="0.51"/>
<rect x="358.6" y="453.0" width="0.75" height="0.75" fill="#4F66BC" opacity="0.60"/>
<rect x="350.2" y="438.2" width="0.75" height="0.75" fill="#4F66BC" opacity="0.70"/>
<rect x="364.0" y="437.3" width="0.75" height="0.75" fill="#4F66BC" opacity="0.77"/>
<rect x="359.3" y="443.5" width="0.75" height="0.75" fill="#4F66BC" opacity="0.58"/>
<rect x="360.0" y="440.3" width="0.75" height="0.75" fill="#4F66BC" opacity="0.75"/>
<rect x="359.1" y="441.4" width="0.75" height="0.75" fill="#4F66BC" opacity="0.46"/>
<rect x="356.6" y="445.3" width="0.75" height="0.75" fill="#4F66BC" opacity="0.64"/>
<rect x="360.1" y="447.6" width="0.75" height="0.75" fill="#4F66BC" opacity="0.78"/>
<rect x="363.4" y="444.6" width="0.75" height="0.75" fill="#4F66BC" opacity="0.37"/>
<rect x="364.3" y="441.1" width="0.75" height="0.75" fill="#4F66BC" opacity="0.42"/>
<rect x="364.7" y="440.4" width="0.75" height="0.75" fill="#4F66BC" opacity="0.61"/>
<rect x="359.3" y="448.3" width="0.75" height="0.75" fill="#4F66BC" opacity="0.38"/>
<rect x="349.9" y="449.2" width="0.75" height="0.75" fill="#4F66BC" opacity="0.64"/>
<rect x="361.4" y="453.7" width="0.75" height="0.75" fill="#4F66BC" opacity="0.38"/>
<rect x="356.6" y="445.5" width="0.75" height="0.75" fill="#4F66BC" opacity="0.35"/>
<rect x="363.6" y="453.4" width="0.75" height="0.75" fill="#4F66BC" opacity="0.45"/>
<rect x="367.0" y="447.4" width="0.75" height="0.75" fill="#4F66BC" opacity="0.51"/>
<rect x="352.0" y="444.8" width="0.75" height="0.75" fill="#4F66BC" opacity="0.67"/>
<rect x="364.7" y="445.3" width="0.75" height="0.75" fill="#4F66BC" opacity="0.64"/>
<rect x="363.2" y="449.0" width="0.75" height="0.75" fill="#4F66BC" opacity="0.39"/>
<rect x="363.4" y="444.4" width="0.75" height="0.75" fill="#4F66BC" opacity="0.67"/>
<rect x="364.2" y="444.4" width="0.75" height="0.75" fill="#4F66BC" opacity="0.44"/>
<rect x="359.7" y="451.4" width="0.75" height="0.75" fill="#4F66BC" opacity="0.52"/>
<rect x="371.1" y="450.2" width="0.75" height="0.75" fill="#4F66BC" opacity="0.64"/>
<rect x="368.3" y="441.7" width="0.75" height="0.75" fill="#4F66BC" opacity="0.68"/>
<rect x="364.1" y="441.7" width="0.75" height="0.75" fill="#4F66BC" opacity="0.54"/>
<rect x="365.7" y="439.3" width="0.75" height="0.75" fill="#4F66BC" opacity="0.40"/>
<rect x="362.0" y="448.8" width="0.75" height="0.75" fill="#4F66BC" opacity="0.56"/>
<rect x="364.8" y="443.5" width="0.75" height="0.75" fill="#4F66BC" opacity="0.73"/>
<rect x="354.0" y="450.7" width="0.75" height="0.75" fill="#4F66BC" opacity="0.46"/>
<rect x="356.3" y="444.7" width="0.75" height="0.75" fill="#4F66BC" opacity="0.35"/>
<rect x="352.9" y="449.9" width="0.75" height="0.75" fill="#4F66BC" opacity="0.75"/>
<rect x="361.0" y="444.9" width="0.75" height="0.75" fill="#4F66BC" opacity="0.70"/>
<rect x="374.9" y="443.2" width="0.75" height="0.75" fill="#4F66BC" opacity="0.66"/>
<rect x="353.3" y="450.0" width="0.75" height="0.75" fill="#4F66BC" opacity="0.64"/>
<rect x="356.4" y="445.4" width="0.75" height="0.75" fill="#4F66BC" opacity="0.75"/>
<rect x="357.2" y="446.6" width="0.75" height="0.75" fill="#4F66BC" opacity="0.49"/>
<rect x="365.9" y="449.0" width="0.75" height="0.75" fill="#4F66BC" opacity="0.39"/>
<rect x="354.4" y="446.4" width="0.75" height="0.75" fill="#4F66BC" opacity="0.72"/>
<rect x="360.1" y="444.6" width="0.75" height="0.75" fill="#4F66BC" opacity="0.72"/>
<rect x="355.1" y="445.5" width="0.75" height="0.75" fill="#4F66BC" opacity="0.76"/>
<rect x="366.2" y="447.2" width="0.75" height="0.75" fill="#4F66BC" opacity="0.62"/>
<rect x="363.5" y="450.8" width="0.75" height="0.75" fill="#4F66BC" opacity="0.75"/>
<rect x="353.9" y="452.0" width="0.75" height="0.75" fill="#4F66BC" opacity="0.44"/>
<rect x="376.2" y="445.5" width="0.75" height="0.75" fill="#4F66BC" opacity="0.42"/>
<rect x="360.1" y="443.6" width="0.75" height="0.75" fill="#4F66BC" opacity="0.36"/>
<rect x="362.2" y="453.0" width="0.75" height="0.75" fill="#4F66BC" opacity="0.56"/>
<rect x="356.3" y="446.6" width="0.75" height="0.75" fill="#4F66BC" opacity="0.43"/>
<rect x="354.4" y="450.4" width="0.75" height="0.75" fill="#4F66BC" opacity="0.72"/>
<rect x="354.1" y="448.1" width="0.75" height="0.75" fill="#4F66BC" opacity="0.76"/>
<rect x="355.6" y="441.1" width="0.75" height="0.75" fill="#4F66BC" opacity="0.71"/>
<rect x="354.6" y="447.3" width="0.75" height="0.75" fill="#4F66BC" opacity="0.40"/>
<rect x="353.7" y="441.7" width="0.75" height="0.75" fill="#4F66BC" opacity="0.76"/>
<rect x="366.3" y="444.8" width="0.75" height="0.75" fill="#4F66BC" opacity="0.57"/>
<rect x="362.3" y="446.6" width="0.75" height="0.75" fill="#4F66BC" opacity="0.52"/>
<rect x="351.1" y="445.5" width="0.75" height="0.75" fill="#4F66BC" opacity="0.62"/>
<rect x="363.8" y="450.8" width="0.75" height="0.75" fill="#4F66BC" opacity="0.43"/>
<rect x="356.6" y="448.6" width="0.75" height="0.75" fill="#4F66BC" opacity="0.49"/>
<rect x="355.0" y="444.3" width="0.75" height="0.75" fill="#4F66BC" opacity="0.43"/>
<rect x="350.1" y="448.1" width="0.75" height="0.75" fill="#4F66BC" opacity="0.49"/>
<rect x="358.6" y="451.0" width="0.75" height="0.75" fill="#4F66BC" opacity="0.66"/>
<rect x="369.1" y="448.3" width="0.75" height="0.75" fill="#4F66BC" opacity="0.37"/>
<rect x="362.9" y="445.4" width="0.75" height="0.75" fill="#4F66BC" opacity="0.72"/>
<rect x="367.0" y="447.9" width="0.75" height="0.75" fill="#4F66BC" opacity="0.47"/>
<rect x="361.4" y="440.6" width="0.75" height="0.75" fill="#4F66BC" opacity="0.41"/>
<rect x="369.6" y="449.0" width="0.75" height="0.75" fill="#4F66BC" opacity="0.54"/>
<rect x="355.4" y="449.5" width="0.75" height="0.75" fill="#4F66BC" opacity="0.52"/>
<rect x="353.9" y="445.3" width="0.75" height="0.75" fill="#4F66BC" opacity="0.41"/>
<rect x="360.7" y="441.0" width="0.75" height="0.75" fill="#4F66BC" opacity="0.77"/>
<rect x="353.8" y="448.2" width="0.75" height="0.75" fill="#4F66BC" opacity="0.71"/>
<rect x="368.5" y="450.9" width="0.75" height="0.75" fill="#4F66BC" opacity="0.42"/>
<rect x="354.0" y="443.8" width="0.75" height="0.75" fill="#4F66BC" opacity="0.70"/>
<rect x="368.6" y="449.2" width="0.75" height="0.75" fill="#4F66BC" opacity="0.72"/>
<rect x="369.2" y="448.4" width="0.75" height="0.75" fill="#4F66BC" opacity="0.48"/>
<rect x="359.0" y="436.5" width="0.75" height="0.75" fill="#4F66BC" opacity="0.35"/>
<rect x="353.2" y="449.5" width="0.75" height="0.75" fill="#4F66BC" opacity="0.79"/>
<rect x="361.0" y="446.6" width="0.75" height="0.75" fill="#4F66BC" opacity="0.41"/>
<rect x="349.8" y="450.8" width="0.75" height="0.75" fill="#4F66BC" opacity="0.71"/>
<rect x="340.9" y="441.9" width="0.75" height="0.75" fill="#3E57B4" opacity="0.60"/>
<rect x="340.3" y="428.0" width="0.75" height="0.75" fill="#3E57B4" opacity="0.60"/>
<rect x="339.8" y="445.4" width="0.75" height="0.75" fill="#3E57B4" opacity="0.60"/>
<rect x="340.4" y="432.0" width="0.75" height="0.75" fill="#3E57B4" opacity="0.60"/>
<rect x="339.8" y="423.9" width="0.75" height="0.75" fill="#3E57B4" opacity="0.60"/>
<rect x="341.6" y="430.0" width="0.75" height="0.75" fill="#3E57B4" opacity="0.60"/>
<rect x="341.2" y="424.9" width="0.75" height="0.75" fill="#3E57B4" opacity="0.60"/>
<rect x="340.5" y="445.1" width="0.75" height="0.75" fill="#3E57B4" opacity="0.60"/>
<rect x="338.7" y="441.6" width="0.75" height="0.75" fill="#3E57B4" opacity="0.60"/>
<rect x="340.8" y="445.5" width="0.75" height="0.75" fill="#3E57B4" opacity="0.60"/>
<rect x="340.0" y="436.1" width="0.75" height="0.75" fill="#3E57B4" opacity="0.60"/>
<rect x="339.7" y="429.0" width="0.75" height="0.75" fill="#3E57B4" opacity="0.60"/>
<rect x="338.9" y="434.2" width="0.75" height="0.75" fill="#3E57B4" opacity="0.60"/>
<rect x="339.5" y="440.9" width="0.75" height="0.75" fill="#3E57B4" opacity="0.60"/>
<rect x="340.9" y="439.2" width="0.75" height="0.75" fill="#3E57B4" opacity="0.60"/>
<rect x="340.2" y="435.1" width="0.75" height="0.75" fill="#3E57B4" opacity="0.60"/>
<rect x="339.6" y="430.3" width="0.75" height="0.75" fill="#3E57B4" opacity="0.60"/>
<rect x="339.3" y="443.8" width="0.75" height="0.75" fill="#3E57B4" opacity="0.60"/>
<rect x="337.3" y="436.2" width="0.75" height="0.75" fill="#3E57B4" opacity="0.60"/>
<rect x="338.6" y="446.0" width="0.75" height="0.75" fill="#3E57B4" opacity="0.60"/>
<rect x="338.6" y="438.6" width="0.75" height="0.75" fill="#3E57B4" opacity="0.60"/>
<rect x="341.8" y="431.3" width="0.75" height="0.75" fill="#3E57B4" opacity="0.60"/>
<rect x="339.8" y="440.3" width="0.75" height="0.75" fill="#3E57B4" opacity="0.60"/>
<rect x="341.2" y="428.9" width="0.75" height="0.75" fill="#3E57B4" opacity="0.60"/>
<rect x="340.0" y="425.4" width="0.75" height="0.75" fill="#3E57B4" opacity="0.60"/>
<rect x="340.0" y="428.9" width="0.75" height="0.75" fill="#3E57B4" opacity="0.60"/>
<rect x="338.6" y="434.0" width="0.75" height="0.75" fill="#3E57B4" opacity="0.60"/>
<rect x="339.5" y="424.8" width="0.75" height="0.75" fill="#3E57B4" opacity="0.60"/>
<rect x="340.0" y="427.5" width="0.75" height="0.75" fill="#3E57B4" opacity="0.60"/>
<rect x="339.1" y="431.2" width="0.75" height="0.75" fill="#3E57B4" opacity="0.60"/>
<rect x="338.8" y="434.6" width="0.75" height="0.75" fill="#3E57B4" opacity="0.60"/>
<rect x="341.4" y="435.5" width="0.75" height="0.75" fill="#3E57B4" opacity="0.60"/>
<rect x="340.7" y="432.5" width="0.75" height="0.75" fill="#3E57B4" opacity="0.60"/>
<rect x="339.7" y="437.2" width="0.75" height="0.75" fill="#3E57B4" opacity="0.60"/>
<rect x="339.0" y="441.8" width="0.75" height="0.75" fill="#3E57B4" opacity="0.60"/>
<rect x="340.2" y="448.0" width="0.75" height="0.75" fill="#3E57B4" opacity="0.60"/>
<rect x="339.9" y="433.2" width="0.75" height="0.75" fill="#3E57B4" opacity="0.60"/>
<rect x="341.5" y="424.6" width="0.75" height="0.75" fill="#3E57B4" opacity="0.60"/>
<rect x="340.7" y="428.3" width="0.75" height="0.75" fill="#3E57B4" opacity="0.60"/>
<rect x="341.4" y="438.2" width="0.75" height="0.75" fill="#3E57B4" opacity="0.60"/>
<rect x="340.7" y="443.7" width="0.75" height="0.75" fill="#3E57B4" opacity="0.60"/>
<rect x="339.8" y="423.9" width="0.75" height="0.75" fill="#3E57B4" opacity="0.60"/>
<rect x="340.0" y="432.2" width="0.75" height="0.75" fill="#3E57B4" opacity="0.60"/>
<rect x="340.8" y="428.2" width="0.75" height="0.75" fill="#3E57B4" opacity="0.60"/>
<rect x="340.1" y="440.4" width="0.75" height="0.75" fill="#3E57B4" opacity="0.60"/>
<rect x="342.8" y="428.1" width="0.75" height="0.75" fill="#3E57B4" opacity="0.60"/>
<rect x="338.7" y="424.0" width="0.75" height="0.75" fill="#3E57B4" opacity="0.60"/>
<rect x="340.2" y="426.4" width="0.75" height="0.75" fill="#3E57B4" opacity="0.60"/>
<rect x="339.4" y="438.5" width="0.75" height="0.75" fill="#3E57B4" opacity="0.60"/>
<rect x="336.6" y="444.5" width="0.75" height="0.75" fill="#3E57B4" opacity="0.60"/>
<rect x="341.6" y="437.0" width="0.75" height="0.75" fill="#3E57B4" opacity="0.60"/>
<rect x="344.2" y="424.5" width="0.75" height="0.75" fill="#3E57B4" opacity="0.60"/>
<rect x="340.5" y="437.5" width="0.75" height="0.75" fill="#3E57B4" opacity="0.60"/>
<rect x="339.9" y="430.6" width="0.75" height="0.75" fill="#3E57B4" opacity="0.60"/>
<rect x="338.3" y="424.0" width="0.75" height="0.75" fill="#3E57B4" opacity="0.60"/>
<rect x="340.2" y="436.1" width="0.75" height="0.75" fill="#3E57B4" opacity="0.60"/>
<rect x="338.9" y="432.9" width="0.75" height="0.75" fill="#3E57B4" opacity="0.60"/>
<rect x="338.4" y="443.4" width="0.75" height="0.75" fill="#3E57B4" opacity="0.60"/>
<rect x="339.5" y="434.5" width="0.75" height="0.75" fill="#3E57B4" opacity="0.60"/>
<rect x="339.8" y="434.0" width="0.75" height="0.75" fill="#3E57B4" opacity="0.60"/>
<rect x="340.2" y="430.9" width="0.75" height="0.75" fill="#3E57B4" opacity="0.60"/>
<rect x="339.9" y="447.5" width="0.75" height="0.75" fill="#3E57B4" opacity="0.60"/>
<rect x="341.6" y="430.9" width="0.75" height="0.75" fill="#3E57B4" opacity="0.60"/>
<rect x="340.6" y="430.6" width="0.75" height="0.75" fill="#3E57B4" opacity="0.60"/>
<rect x="340.5" y="434.1" width="0.75" height="0.75" fill="#3E57B4" opacity="0.60"/>
<rect x="338.9" y="439.1" width="0.75" height="0.75" fill="#3E57B4" opacity="0.60"/>
<rect x="340.1" y="424.9" width="0.75" height="0.75" fill="#3E57B4" opacity="0.60"/>
<rect x="340.2" y="437.3" width="0.75" height="0.75" fill="#3E57B4" opacity="0.60"/>
<rect x="341.1" y="437.7" width="0.75" height="0.75" fill="#3E57B4" opacity="0.60"/>
<rect x="340.4" y="428.3" width="0.75" height="0.75" fill="#3E57B4" opacity="0.60"/>
<rect x="339.9" y="430.7" width="0.75" height="0.75" fill="#3E57B4" opacity="0.60"/>
<rect x="340.9" y="435.0" width="0.75" height="0.75" fill="#3E57B4" opacity="0.60"/>
<rect x="340.6" y="446.5" width="0.75" height="0.75" fill="#3E57B4" opacity="0.60"/>
<rect x="339.8" y="435.5" width="0.75" height="0.75" fill="#3E57B4" opacity="0.60"/>
<rect x="340.7" y="432.3" width="0.75" height="0.75" fill="#3E57B4" opacity="0.60"/>
<rect x="338.9" y="432.6" width="0.75" height="0.75" fill="#3E57B4" opacity="0.60"/>
<rect x="341.0" y="434.2" width="0.75" height="0.75" fill="#3E57B4" opacity="0.60"/>
<rect x="340.6" y="432.0" width="0.75" height="0.75" fill="#3E57B4" opacity="0.60"/>
<rect x="340.1" y="434.1" width="0.75" height="0.75" fill="#3E57B4" opacity="0.60"/>
<rect x="337.4" y="435.6" width="0.75" height="0.75" fill="#3E57B4" opacity="0.60"/>
<rect x="340.5" y="434.3" width="0.75" height="0.75" fill="#3E57B4" opacity="0.60"/>
<rect x="340.3" y="444.5" width="0.75" height="0.75" fill="#3E57B4" opacity="0.60"/>
<rect x="338.7" y="438.0" width="0.75" height="0.75" fill="#3E57B4" opacity="0.60"/>
<rect x="339.1" y="438.9" width="0.75" height="0.75" fill="#3E57B4" opacity="0.60"/>
<rect x="338.8" y="431.9" width="0.75" height="0.75" fill="#3E57B4" opacity="0.60"/>
<rect x="340.6" y="428.9" width="0.75" height="0.75" fill="#3E57B4" opacity="0.60"/>
<rect x="340.7" y="447.1" width="0.75" height="0.75" fill="#3E57B4" opacity="0.60"/>
<rect x="341.2" y="427.7" width="0.75" height="0.75" fill="#3E57B4" opacity="0.60"/>
<rect x="341.2" y="442.7" width="0.75" height="0.75" fill="#3E57B4" opacity="0.60"/>
<rect x="341.6" y="443.0" width="0.75" height="0.75" fill="#3E57B4" opacity="0.60"/>
<rect x="340.3" y="427.0" width="0.75" height="0.75" fill="#3E57B4" opacity="0.60"/>
<rect x="340.7" y="428.9" width="0.75" height="0.75" fill="#3E57B4" opacity="0.60"/>
<rect x="340.6" y="442.6" width="0.75" height="0.75" fill="#3E57B4" opacity="0.60"/>
<rect x="340.9" y="425.8" width="0.75" height="0.75" fill="#3E57B4" opacity="0.60"/>
<rect x="341.2" y="425.5" width="0.75" height="0.75" fill="#3E57B4" opacity="0.60"/>
<rect x="339.1" y="430.1" width="0.75" height="0.75" fill="#3E57B4" opacity="0.60"/>
<rect x="340.4" y="427.9" width="0.75" height="0.75" fill="#3E57B4" opacity="0.60"/>
<rect x="340.5" y="428.0" width="0.75" height="0.75" fill="#3E57B4" opacity="0.60"/>
<rect x="340.3" y="437.3" width="0.75" height="0.75" fill="#3E57B4" opacity="0.60"/>
<rect x="339.8" y="429.2" width="0.75" height="0.75" fill="#3E57B4" opacity="0.60"/>
<rect x="340.3" y="414.6" width="0.75" height="0.75" fill="#4A62BA" opacity="0.60"/>
<rect x="341.8" y="413.3" width="0.75" height="0.75" fill="#4A62BA" opacity="0.60"/>
<rect x="337.1" y="406.3" width="0.75" height="0.75" fill="#4A62BA" opacity="0.60"/>
<rect x="337.5" y="416.5" width="0.75" height="0.75" fill="#4A62BA" opacity="0.60"/>
<rect x="336.3" y="417.6" width="0.75" height="0.75" fill="#4A62BA" opacity="0.60"/>
<rect x="340.1" y="409.8" width="0.75" height="0.75" fill="#4A62BA" opacity="0.60"/>
<rect x="339.7" y="409.2" width="0.75" height="0.75" fill="#4A62BA" opacity="0.60"/>
<rect x="339.2" y="412.9" width="0.75" height="0.75" fill="#4A62BA" opacity="0.60"/>
<rect x="340.1" y="410.6" width="0.75" height="0.75" fill="#4A62BA" opacity="0.60"/>
<rect x="338.6" y="416.9" width="0.75" height="0.75" fill="#4A62BA" opacity="0.60"/>
<rect x="338.0" y="413.2" width="0.75" height="0.75" fill="#4A62BA" opacity="0.60"/>
<rect x="337.5" y="418.9" width="0.75" height="0.75" fill="#4A62BA" opacity="0.60"/>
<rect x="339.3" y="417.9" width="0.75" height="0.75" fill="#4A62BA" opacity="0.60"/>
<rect x="340.5" y="416.7" width="0.75" height="0.75" fill="#4A62BA" opacity="0.60"/>
<rect x="339.6" y="412.3" width="0.75" height="0.75" fill="#4A62BA" opacity="0.60"/>
<rect x="338.9" y="417.2" width="0.75" height="0.75" fill="#4A62BA" opacity="0.60"/>
<rect x="336.7" y="410.8" width="0.75" height="0.75" fill="#4A62BA" opacity="0.60"/>
<rect x="340.3" y="422.0" width="0.75" height="0.75" fill="#4A62BA" opacity="0.60"/>
<rect x="339.9" y="415.1" width="0.75" height="0.75" fill="#4A62BA" opacity="0.60"/>
<rect x="341.6" y="419.0" width="0.75" height="0.75" fill="#4A62BA" opacity="0.60"/>
<rect x="341.5" y="418.3" width="0.75" height="0.75" fill="#4A62BA" opacity="0.60"/>
<rect x="339.4" y="418.3" width="0.75" height="0.75" fill="#4A62BA" opacity="0.60"/>
<rect x="341.7" y="419.4" width="0.75" height="0.75" fill="#4A62BA" opacity="0.60"/>
<rect x="336.1" y="421.8" width="0.75" height="0.75" fill="#4A62BA" opacity="0.60"/>
<rect x="338.2" y="410.1" width="0.75" height="0.75" fill="#4A62BA" opacity="0.60"/>
<rect x="336.8" y="416.3" width="0.75" height="0.75" fill="#4A62BA" opacity="0.60"/>
<rect x="334.8" y="409.8" width="0.75" height="0.75" fill="#4A62BA" opacity="0.60"/>
<rect x="339.2" y="417.5" width="0.75" height="0.75" fill="#4A62BA" opacity="0.60"/>
<rect x="341.7" y="414.9" width="0.75" height="0.75" fill="#4A62BA" opacity="0.60"/>
<rect x="337.6" y="411.6" width="0.75" height="0.75" fill="#4A62BA" opacity="0.60"/>
<rect x="340.3" y="415.2" width="0.75" height="0.75" fill="#4A62BA" opacity="0.60"/>
<rect x="339.5" y="411.9" width="0.75" height="0.75" fill="#4A62BA" opacity="0.60"/>
<rect x="337.4" y="412.1" width="0.75" height="0.75" fill="#4A62BA" opacity="0.60"/>
<rect x="339.3" y="416.2" width="0.75" height="0.75" fill="#4A62BA" opacity="0.60"/>
<rect x="341.6" y="417.6" width="0.75" height="0.75" fill="#4A62BA" opacity="0.60"/>
<rect x="339.2" y="419.9" width="0.75" height="0.75" fill="#4A62BA" opacity="0.60"/>
<rect x="336.3" y="411.8" width="0.75" height="0.75" fill="#4A62BA" opacity="0.60"/>
<rect x="340.0" y="418.6" width="0.75" height="0.75" fill="#4A62BA" opacity="0.60"/>
<rect x="339.1" y="409.0" width="0.75" height="0.75" fill="#4A62BA" opacity="0.60"/>
<rect x="336.5" y="415.9" width="0.75" height="0.75" fill="#4A62BA" opacity="0.60"/>
<rect x="339.8" y="406.9" width="0.75" height="0.75" fill="#4A62BA" opacity="0.60"/>
<rect x="338.2" y="414.6" width="0.75" height="0.75" fill="#4A62BA" opacity="0.60"/>
<rect x="340.8" y="419.4" width="0.75" height="0.75" fill="#4A62BA" opacity="0.60"/>
<rect x="338.2" y="411.0" width="0.75" height="0.75" fill="#4A62BA" opacity="0.60"/>
<rect x="338.6" y="412.3" width="0.75" height="0.75" fill="#4A62BA" opacity="0.60"/>
<rect x="337.6" y="417.5" width="0.75" height="0.75" fill="#4A62BA" opacity="0.60"/>
<rect x="339.0" y="404.4" width="0.75" height="0.75" fill="#4A62BA" opacity="0.60"/>
<rect x="338.9" y="416.8" width="0.75" height="0.75" fill="#4A62BA" opacity="0.60"/>
<rect x="336.5" y="421.0" width="0.75" height="0.75" fill="#4A62BA" opacity="0.60"/>
<rect x="339.6" y="415.0" width="0.75" height="0.75" fill="#4A62BA" opacity="0.60"/>
<rect x="337.9" y="419.0" width="0.75" height="0.75" fill="#4A62BA" opacity="0.60"/>
<rect x="340.8" y="411.7" width="0.75" height="0.75" fill="#4A62BA" opacity="0.60"/>
<rect x="334.6" y="419.8" width="0.75" height="0.75" fill="#4A62BA" opacity="0.60"/>
<rect x="338.6" y="406.3" width="0.75" height="0.75" fill="#4A62BA" opacity="0.60"/>
<rect x="340.9" y="404.2" width="0.75" height="0.75" fill="#4A62BA" opacity="0.60"/>
<rect x="337.7" y="408.5" width="0.75" height="0.75" fill="#4A62BA" opacity="0.60"/>
<rect x="336.3" y="414.8" width="0.75" height="0.75" fill="#4A62BA" opacity="0.60"/>
<rect x="343.0" y="411.2" width="0.75" height="0.75" fill="#4A62BA" opacity="0.60"/>
<rect x="341.2" y="411.4" width="0.75" height="0.75" fill="#4A62BA" opacity="0.60"/>
<rect x="337.1" y="415.2" width="0.75" height="0.75" fill="#4A62BA" opacity="0.60"/>
<rect x="337.4" y="449.4" width="0.75" height="0.75" fill="#4A62BA" opacity="0.60"/>
<rect x="338.6" y="451.3" width="0.75" height="0.75" fill="#4A62BA" opacity="0.60"/>
<rect x="337.4" y="452.5" width="0.75" height="0.75" fill="#4A62BA" opacity="0.60"/>
<rect x="341.7" y="451.5" width="0.75" height="0.75" fill="#4A62BA" opacity="0.60"/>
<rect x="337.6" y="453.5" width="0.75" height="0.75" fill="#4A62BA" opacity="0.60"/>
<rect x="340.7" y="450.7" width="0.75" height="0.75" fill="#4A62BA" opacity="0.60"/>
<rect x="338.5" y="450.5" width="0.75" height="0.75" fill="#4A62BA" opacity="0.60"/>
<rect x="336.3" y="453.3" width="0.75" height="0.75" fill="#4A62BA" opacity="0.60"/>
<rect x="342.2" y="447.4" width="0.75" height="0.75" fill="#4A62BA" opacity="0.60"/>
<rect x="336.6" y="451.6" width="0.75" height="0.75" fill="#4A62BA" opacity="0.60"/>
<rect x="342.2" y="451.9" width="0.75" height="0.75" fill="#4A62BA" opacity="0.60"/>
<rect x="340.5" y="450.5" width="0.75" height="0.75" fill="#4A62BA" opacity="0.60"/>
<rect x="341.4" y="453.5" width="0.75" height="0.75" fill="#4A62BA" opacity="0.60"/>
<rect x="337.6" y="450.4" width="0.75" height="0.75" fill="#4A62BA" opacity="0.60"/>
<rect x="337.5" y="452.2" width="0.75" height="0.75" fill="#4A62BA" opacity="0.60"/>
<rect x="341.3" y="452.0" width="0.75" height="0.75" fill="#4A62BA" opacity="0.60"/>
<ellipse cx="339.0" cy="415.0" rx="3.6" ry="8.8" fill="url(#blu)"/>
<ellipse cx="339.0" cy="415.0" rx="2.3" ry="6.8" fill="url(#warm)"/>
<ellipse cx="339.0" cy="452.0" rx="3.1" ry="3.9" fill="url(#blu)"/>
<ellipse cx="339.0" cy="452.0" rx="1.9" ry="2.4" fill="url(#hot)"/>
<path d="M326.5,455.0 L326.5,400.3 L347.8,400.3 L347.8,455.0 M326.5,429.6 L373.2,429.6 L373.2,455.0" stroke="#3a3a3a" stroke-width="0.8" fill="none"/>
<line x1="324.60" y1="389.00" x2="324.60" y2="455.00" stroke="#666" stroke-width="0.8"/>
<line x1="324.60" y1="455.00" x2="389.90" y2="455.00" stroke="#666" stroke-width="0.8"/>
<rect x="323.30" y="438.30" width="2.00" height="2.60" fill="#000"/>
<rect x="337.60" y="454.80" width="3.40" height="1.90" fill="#000"/>
<line x1="323.30" y1="395.00" x2="324.60" y2="395.00" stroke="#555" stroke-width="0.6"/>
<line x1="323.30" y1="411.60" x2="324.60" y2="411.60" stroke="#555" stroke-width="0.6"/>
<line x1="323.30" y1="429.00" x2="324.60" y2="429.00" stroke="#555" stroke-width="0.6"/>
<line x1="323.30" y1="439.50" x2="324.60" y2="439.50" stroke="#555" stroke-width="0.6"/>
<line x1="323.30" y1="450.20" x2="324.60" y2="450.20" stroke="#555" stroke-width="0.6"/>
<line x1="327.80" y1="455.00" x2="327.80" y2="456.30" stroke="#555" stroke-width="0.6"/>
<line x1="340.80" y1="455.00" x2="340.80" y2="456.30" stroke="#555" stroke-width="0.6"/>
<line x1="348.40" y1="455.00" x2="348.40" y2="456.30" stroke="#555" stroke-width="0.6"/>
<line x1="367.80" y1="455.00" x2="367.80" y2="456.30" stroke="#555" stroke-width="0.6"/>
<line x1="384.10" y1="455.00" x2="384.10" y2="456.30" stroke="#555" stroke-width="0.6"/>
<text x="322.00" y="397.70" font-size="8.2" stroke="#000" stroke-width="0.12" text-anchor="end" textLength="9.80" lengthAdjust="spacingAndGlyphs">10<tspan font-size="4.8" dy="-3.2">5</tspan></text>
<text x="322.00" y="414.30" font-size="8.2" stroke="#000" stroke-width="0.12" text-anchor="end" textLength="9.80" lengthAdjust="spacingAndGlyphs">10<tspan font-size="4.8" dy="-3.2">4</tspan></text>
<text x="322.00" y="431.70" font-size="8.2" stroke="#000" stroke-width="0.12" text-anchor="end" textLength="9.80" lengthAdjust="spacingAndGlyphs">10<tspan font-size="4.8" dy="-3.2">3</tspan></text>
<text x="322.00" y="442.30" font-size="8.2" stroke="#000" stroke-width="0.12" text-anchor="end" textLength="3.90" lengthAdjust="spacingAndGlyphs">0</text>
<text x="322.00" y="453.00" font-size="8.2" stroke="#000" stroke-width="0.12" text-anchor="end" textLength="12.20" lengthAdjust="spacingAndGlyphs">-10<tspan font-size="4.8" dy="-3.2">3</tspan></text>
<text x="322.50" y="464.00" font-size="8.2" stroke="#000" stroke-width="0.12" textLength="10.60" lengthAdjust="spacingAndGlyphs">-10<tspan font-size="4.8" dy="-3.2">3</tspan></text>
<text x="339.80" y="464.00" font-size="8.2" stroke="#000" stroke-width="0.12" textLength="3.00" lengthAdjust="spacingAndGlyphs">0</text>
<text x="344.40" y="464.00" font-size="8.2" stroke="#000" stroke-width="0.12" textLength="8.60" lengthAdjust="spacingAndGlyphs">10<tspan font-size="4.8" dy="-3.2">3</tspan></text>
<text x="364.50" y="464.00" font-size="8.2" stroke="#000" stroke-width="0.12" textLength="8.60" lengthAdjust="spacingAndGlyphs">10<tspan font-size="4.8" dy="-3.2">4</tspan></text>
<text x="380.40" y="464.00" font-size="8.2" stroke="#000" stroke-width="0.12" textLength="8.40" lengthAdjust="spacingAndGlyphs">10<tspan font-size="4.8" dy="-3.2">5</tspan></text>
<text x="327.60" y="399.30" font-size="7.4" stroke="#B3123F" stroke-width="0.12" fill="#B3123F" textLength="19.80" lengthAdjust="spacingAndGlyphs">B cells</text>
<text x="327.60" y="407.60" font-size="7.4" stroke="#B3123F" stroke-width="0.12" fill="#B3123F" textLength="20.00" lengthAdjust="spacingAndGlyphs">51.3%</text>
<text x="348.60" y="427.90" font-size="7.4" stroke="#B3123F" stroke-width="0.12" fill="#B3123F" textLength="37.00" lengthAdjust="spacingAndGlyphs">Myeloid cells</text>
<text x="348.60" y="436.00" font-size="7.4" stroke="#B3123F" stroke-width="0.12" fill="#B3123F" textLength="20.60" lengthAdjust="spacingAndGlyphs">19.7%</text>
<text x="349.60" y="397.60" font-size="3.3" fill="#222" textLength="8.80" lengthAdjust="spacingAndGlyphs">B cells</text>
<text x="352.20" y="401.70" font-size="3.3" fill="#222" textLength="4.40" lengthAdjust="spacingAndGlyphs">51.3</text>
<text x="370.00" y="445.00" font-size="3.3" fill="#222" textLength="17.60" lengthAdjust="spacingAndGlyphs">Myeloid cells</text>
<text x="376.00" y="449.10" font-size="3.3" fill="#222" textLength="4.40" lengthAdjust="spacingAndGlyphs">19.7</text>
<text x="330.80" y="447.50" font-size="3.3" fill="#222" textLength="4.40" lengthAdjust="spacingAndGlyphs">neg</text>
<text x="330.50" y="450.90" font-size="3.3" fill="#222" textLength="4.80" lengthAdjust="spacingAndGlyphs">28.9</text>
<text transform="translate(28.90,410.30) rotate(-90)" x="0" y="0" font-size="9.9" text-anchor="middle" textLength="15.90" lengthAdjust="spacingAndGlyphs" stroke="#000" stroke-width="0.3">CD19</text>
<line x1="25.10" y1="455.00" x2="25.10" y2="426.00" stroke="#000" stroke-width="1.1"/>
<path d="M22.9,427.6 L25.1,422.3 L27.3,427.6 Z" stroke="#000" stroke-width="0.3" fill="#000"/>
<line x1="48.70" y1="474.80" x2="78.00" y2="474.80" stroke="#000" stroke-width="1.1"/>
<path d="M76.6,472.7 L82,474.8 L76.6,476.9 Z" stroke="#000" stroke-width="0.3" fill="#000"/>
<text x="85.80" y="477.80" font-size="8.9" textLength="15.80" lengthAdjust="spacingAndGlyphs" stroke="#000" stroke-width="0.3">Mac1</text>
</svg></body></html>
